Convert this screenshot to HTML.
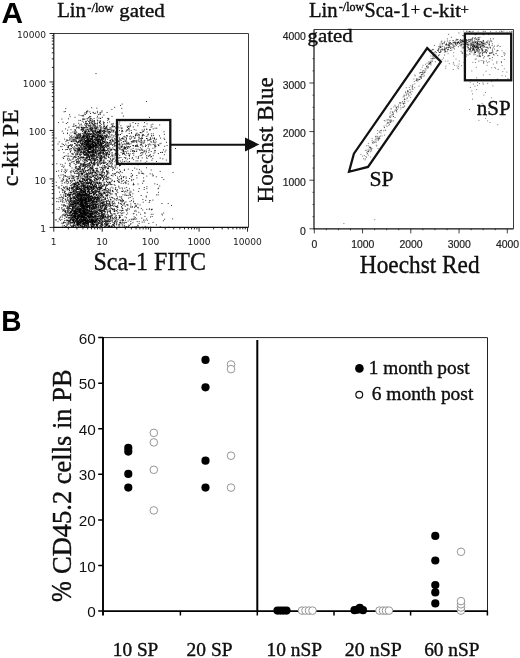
<!DOCTYPE html><html><head><meta charset="utf-8"><title>Figure</title><style>html,body{margin:0;padding:0;background:#fff}svg{display:block}</style></head><body>
<svg width="520" height="658" viewBox="0 0 520 658">
<rect width="520" height="658" fill="#fff"/>
<text transform="translate(1.40,22.50) scale(1.0085,1)" font-family='"Liberation Sans", sans-serif' font-weight="bold" font-size="29.60" fill="#000">A</text>
<text transform="translate(1.21,330.50) scale(0.9494,1)" font-family='"Liberation Sans", sans-serif' font-weight="bold" font-size="29.53" fill="#000">B</text>
<text transform="translate(57.13,17.25) scale(1.0180,1)" font-family='"Liberation Serif", serif' font-size="20.38" fill="#111" stroke="#000" stroke-width="0.35">Lin</text>
<text transform="translate(87.28,11.58) scale(1.0453,1)" font-family='"Liberation Serif", serif' font-size="11.91" fill="#111" stroke="#000" stroke-width="0.35">-/low</text>
<text transform="translate(119.36,17.25) scale(1.0578,1)" font-family='"Liberation Serif", serif' font-size="19.78" fill="#111" stroke="#000" stroke-width="0.35">gated</text>
<text transform="translate(308.98,16.90) scale(1.0126,1)" font-family='"Liberation Serif", serif' font-size="20.38" fill="#111" stroke="#000" stroke-width="0.35">Lin</text>
<text transform="translate(338.75,11.08) scale(1.0029,1)" font-family='"Liberation Serif", serif' font-size="12.06" fill="#111" stroke="#000" stroke-width="0.35">-/low</text>
<text transform="translate(364.44,16.89) scale(0.9837,1)" font-family='"Liberation Serif", serif' font-size="20.52" fill="#111" stroke="#000" stroke-width="0.35">Sca-1</text>
<text transform="translate(410.67,14.63) scale(1.0132,1)" font-family='"Liberation Serif", serif' font-size="16.34" fill="#111" stroke="#000" stroke-width="0.35">+</text>
<text transform="translate(423.02,16.90) scale(1.0409,1)" font-family='"Liberation Serif", serif' font-size="19.86" fill="#111" stroke="#000" stroke-width="0.35">c-kit</text>
<text transform="translate(460.46,13.70) scale(1.0615,1)" font-family='"Liberation Serif", serif' font-size="13.98" fill="#111" stroke="#000" stroke-width="0.35">+</text>
<path d="M53.8 33.5H248.5V227.4" fill="none" stroke="#222" stroke-width="0.9"/>
<path d="M84.0 201.8h1M87.0 190.9h1M75.1 213.0h1M79.5 179.9h1M74.1 213.7h1M84.6 198.6h1M79.1 188.2h1M77.8 169.0h1M88.9 206.1h1M87.6 199.4h1M85.1 198.3h1M74.7 170.7h1M83.7 211.8h1M70.6 174.5h1M79.4 223.7h1M65.0 195.9h1M65.6 212.0h1M81.6 202.0h1M71.3 222.7h1M86.7 213.4h1M85.6 195.5h1M82.1 216.4h1M58.8 196.8h1M78.6 176.4h1M85.1 199.4h1M68.7 195.3h1M79.2 210.4h1M74.2 180.0h1M75.9 183.3h1M94.6 197.0h1M75.9 196.7h1M83.7 206.2h1M92.8 223.0h1M78.2 197.4h1M82.9 212.9h1M85.1 214.6h1M84.6 187.7h1M71.7 208.7h1M84.8 189.9h1M97.6 222.0h1M68.5 212.3h1M92.6 205.3h1M85.2 183.6h1M77.6 206.9h1M104.0 192.7h1M91.6 216.3h1M72.0 203.1h1M84.7 192.0h1M89.8 219.8h1M82.1 216.5h1M90.8 195.5h1M83.3 223.6h1M90.7 200.2h1M98.4 200.1h1M77.2 207.0h1M86.0 193.0h1M79.4 197.9h1M85.3 202.4h1M82.0 200.9h1M95.5 204.3h1M70.8 211.1h1M76.1 219.1h1M90.5 209.7h1M79.4 208.9h1M83.0 185.8h1M96.6 225.9h1M90.9 198.4h1M80.7 200.1h1M80.3 157.1h1M81.5 221.0h1M99.2 218.1h1M79.7 217.8h1M81.0 220.7h1M82.8 204.3h1M82.0 220.0h1M72.9 193.1h1M83.9 199.3h1M79.6 221.9h1M95.7 211.3h1M90.5 183.7h1M83.8 210.8h1M90.7 202.1h1M80.6 191.9h1M94.5 211.9h1M83.9 198.5h1M89.8 179.9h1M71.1 187.2h1M67.1 180.8h1M63.6 208.6h1M81.0 214.8h1M75.0 215.2h1M85.6 185.4h1M106.4 199.9h1M75.7 207.3h1M77.8 217.8h1M86.1 194.7h1M88.9 186.4h1M82.2 221.0h1M81.9 222.7h1M91.0 210.9h1M89.2 195.3h1M73.7 211.5h1M83.2 206.7h1M84.4 218.4h1M73.5 185.0h1M86.6 206.9h1M75.4 202.5h1M93.7 187.2h1M85.9 208.5h1M84.9 205.6h1M78.1 198.4h1M82.8 211.3h1M64.0 182.3h1M72.7 204.1h1M87.6 211.9h1M62.7 209.5h1M92.5 222.2h1M66.5 185.8h1M91.6 180.9h1M75.5 208.8h1M91.8 212.3h1M68.6 214.9h1M96.5 191.0h1M98.4 217.9h1M83.3 191.5h1M81.3 181.2h1M74.2 210.2h1M95.0 216.4h1M78.6 214.0h1M76.1 209.5h1M77.7 224.5h1M71.2 188.6h1M96.6 182.7h1M84.1 213.2h1M77.1 208.6h1M80.7 207.7h1M78.4 194.0h1M80.2 215.5h1M81.0 213.1h1M70.2 211.0h1M75.9 221.8h1M100.5 213.1h1M77.3 216.9h1M73.5 186.3h1M87.4 213.2h1M69.5 196.7h1M81.9 202.9h1M77.7 219.3h1M66.4 220.3h1M91.3 215.0h1M83.8 179.1h1M84.7 213.0h1M76.5 186.1h1M88.5 191.8h1M78.6 213.8h1M82.6 200.3h1M72.9 218.0h1M97.4 217.4h1M78.9 216.6h1M86.9 190.7h1M83.7 194.7h1M79.6 188.0h1M78.9 196.5h1M90.3 187.5h1M81.0 194.4h1M82.5 201.7h1M84.2 189.0h1M95.8 182.3h1M90.8 183.2h1M87.8 212.3h1M78.4 206.0h1M70.2 221.4h1M93.5 221.7h1M93.7 199.5h1M82.6 215.7h1M89.4 182.0h1M92.3 224.1h1M93.2 201.6h1M79.4 186.4h1M99.1 211.1h1M71.5 175.1h1M92.6 192.5h1M88.9 217.0h1M92.7 206.2h1M102.8 197.1h1M98.8 220.2h1M72.5 188.4h1M67.1 209.6h1M92.2 197.0h1M73.8 191.4h1M83.9 212.4h1M92.4 189.1h1M62.9 195.6h1M84.4 187.5h1M81.5 214.7h1M84.4 185.8h1M75.4 183.5h1M68.9 207.6h1M82.3 215.8h1M74.3 184.6h1M67.6 223.9h1M89.1 192.2h1M83.4 207.1h1M88.1 211.1h1M74.1 214.5h1M77.4 176.2h1M75.1 214.0h1M86.0 198.2h1M76.2 188.6h1M87.6 177.9h1M87.4 183.2h1M104.3 213.7h1M70.1 199.5h1M92.9 186.9h1M83.1 196.6h1M69.5 199.7h1M79.4 195.6h1M91.4 226.6h1M83.2 212.4h1M84.8 205.7h1M81.1 195.3h1M95.5 180.2h1M83.8 186.3h1M62.0 197.3h1M77.1 201.5h1M64.3 210.7h1M78.7 208.6h1M97.3 208.5h1M84.5 188.9h1M72.3 170.5h1M74.6 196.7h1M95.3 189.7h1M85.6 194.6h1M84.5 200.6h1M83.5 185.1h1M84.4 187.2h1M92.1 203.4h1M89.5 206.9h1M86.2 194.5h1M73.6 213.0h1M89.1 201.5h1M77.2 188.7h1M94.9 205.7h1M82.6 194.2h1M83.9 223.7h1M98.6 191.8h1M91.7 206.9h1M87.8 200.9h1M57.9 201.3h1M86.5 214.6h1M83.4 205.8h1M84.8 202.2h1M73.2 225.5h1M81.3 193.4h1M82.2 188.3h1M95.9 217.7h1M87.3 216.3h1M83.9 222.5h1M99.3 187.8h1M78.4 222.3h1M80.1 212.7h1M99.7 185.0h1M93.6 208.5h1M93.2 200.6h1M90.7 179.6h1M85.1 193.6h1M86.2 223.0h1M81.5 197.5h1M82.0 193.4h1M84.5 218.9h1M99.1 220.8h1M89.6 220.8h1M83.4 192.4h1M78.2 204.1h1M77.7 221.5h1M100.0 194.5h1M89.1 193.0h1M84.7 218.3h1M72.9 186.6h1M83.3 163.4h1M92.7 181.8h1M80.1 188.8h1M81.7 202.8h1M81.8 214.9h1M85.1 202.7h1M68.1 193.8h1M81.6 207.5h1M75.5 189.6h1M92.8 204.2h1M76.3 194.7h1M99.2 218.1h1M80.9 191.6h1M78.0 189.0h1M85.9 198.0h1M84.0 178.7h1M74.1 193.3h1M88.6 193.2h1M104.2 219.1h1M81.4 198.2h1M82.0 192.4h1M73.6 183.6h1M87.2 186.2h1M71.5 203.9h1M72.9 201.6h1M96.8 223.1h1M74.9 194.9h1M94.8 221.9h1M99.2 209.1h1M86.6 204.9h1M89.5 172.9h1M103.5 184.4h1M82.0 216.9h1M70.5 208.3h1M84.4 217.2h1M98.8 198.5h1M93.6 199.1h1M74.6 194.4h1M75.4 220.6h1M79.0 210.5h1M86.9 201.3h1M81.9 199.7h1M86.1 213.9h1M87.0 210.2h1M81.0 191.7h1M86.1 209.1h1M83.2 205.2h1M102.7 221.4h1M89.9 203.6h1M84.6 213.6h1M67.1 187.9h1M87.9 194.7h1M64.5 168.8h1M69.9 224.5h1M92.5 174.6h1M91.1 215.9h1M82.5 191.7h1M66.9 189.3h1M80.3 201.9h1M77.2 209.3h1M90.4 214.8h1M86.2 210.7h1M76.2 219.1h1M72.3 195.4h1M83.4 216.4h1M82.2 207.5h1M72.5 197.6h1M85.2 203.5h1M72.5 204.0h1M95.1 208.1h1M94.6 211.4h1M94.8 196.9h1M79.3 193.1h1M89.1 217.0h1M82.7 177.9h1M80.1 195.1h1M71.0 161.7h1M69.6 193.9h1M91.9 216.0h1M82.1 178.6h1M94.0 163.6h1M85.8 219.7h1M87.9 201.5h1M80.2 210.7h1M94.3 190.6h1M86.1 217.9h1M71.9 187.1h1M74.7 200.6h1M92.1 220.9h1M88.6 187.2h1M65.0 199.2h1M97.5 207.6h1M90.0 183.5h1M97.4 223.6h1M80.2 210.5h1M81.0 180.8h1M72.7 204.2h1M109.4 192.6h1M82.2 194.5h1M99.9 206.2h1M77.5 193.6h1M85.6 220.4h1M67.3 193.7h1M80.2 220.7h1M93.8 204.3h1M71.5 218.7h1M94.7 196.3h1M87.4 196.9h1M73.6 186.6h1M79.0 214.2h1M79.4 220.0h1M78.6 225.6h1M75.7 209.0h1M81.0 201.6h1M73.7 211.2h1M71.1 204.6h1M92.8 220.1h1M68.7 191.6h1M84.0 194.0h1M77.5 226.9h1M74.2 209.9h1M92.5 201.3h1M78.8 224.0h1M99.0 198.8h1M76.2 200.5h1M87.9 197.6h1M81.7 173.6h1M76.5 218.8h1M89.9 185.7h1M82.5 195.9h1M90.0 193.1h1M83.5 216.6h1M73.1 203.9h1M83.0 205.2h1M84.5 178.1h1M93.6 203.6h1M74.9 181.4h1M83.6 209.9h1M66.8 210.9h1M90.5 204.7h1M65.9 213.4h1M83.4 214.5h1M95.1 207.3h1M68.8 201.9h1M73.1 220.5h1M76.6 222.6h1M72.7 184.2h1M87.8 221.9h1M75.9 213.2h1M76.8 220.4h1M89.8 212.5h1M76.4 185.1h1M88.3 186.2h1M71.9 209.0h1M65.6 182.3h1M102.6 210.6h1M80.8 199.2h1M86.4 175.5h1M83.7 168.4h1M85.6 179.4h1M84.5 209.3h1M103.1 204.2h1M73.6 201.0h1M68.4 209.6h1M73.9 214.6h1M70.7 171.4h1M91.5 200.2h1M92.2 191.8h1M74.4 185.3h1M70.1 196.2h1M80.5 203.0h1M97.9 200.7h1M55.8 181.7h1M89.3 197.3h1M94.4 188.1h1M73.2 178.0h1M81.1 209.4h1M68.9 214.5h1M74.2 212.4h1M97.9 187.1h1M92.2 221.0h1M80.0 192.4h1M75.3 186.8h1M65.1 195.3h1M80.1 203.3h1M83.7 216.4h1M83.2 215.0h1M83.1 204.6h1M72.8 219.9h1M83.3 206.3h1M83.6 219.3h1M96.9 182.5h1M102.7 179.8h1M82.6 217.4h1M76.3 182.8h1M83.4 200.2h1M77.9 203.4h1M76.6 197.2h1M83.4 197.7h1M90.1 164.5h1M83.0 219.1h1M82.2 205.4h1M76.7 204.7h1M74.5 216.6h1M78.5 186.0h1M86.3 206.4h1M84.0 202.0h1M70.4 214.0h1M84.7 207.5h1M70.6 215.6h1M77.8 198.3h1M81.1 205.8h1M63.2 194.3h1M84.9 194.4h1M85.5 202.7h1M82.4 202.7h1M79.8 186.2h1M74.2 202.8h1M81.3 182.9h1M78.5 222.6h1M84.9 193.0h1M72.0 213.1h1M86.4 204.7h1M85.4 209.0h1M82.6 207.7h1M79.6 195.8h1M89.5 205.7h1M88.6 169.2h1M86.4 206.1h1M86.8 212.0h1M87.8 188.2h1M77.5 183.1h1M90.4 199.1h1M86.1 213.6h1M68.9 206.2h1M89.4 212.6h1M95.7 215.2h1M94.1 223.9h1M86.3 212.0h1M68.4 207.3h1M93.4 207.8h1M82.5 226.6h1M58.7 218.1h1M87.8 189.0h1M69.1 194.8h1M71.0 210.3h1M77.7 195.0h1M96.7 199.0h1M80.3 189.7h1M86.7 200.8h1M101.5 211.8h1M99.9 220.9h1M83.0 205.1h1M71.4 203.8h1M88.3 221.0h1M88.0 212.9h1M85.1 197.0h1M93.9 159.8h1M76.3 202.5h1M83.4 207.9h1M89.8 182.9h1M88.0 201.0h1M80.9 216.6h1M87.6 164.4h1M74.0 207.2h1M67.6 199.5h1M89.8 215.9h1M83.4 206.5h1M87.1 186.7h1M67.0 220.2h1M80.3 216.1h1M78.0 214.5h1M75.4 221.1h1M61.4 222.6h1M80.7 204.7h1M93.0 183.3h1M87.8 182.8h1M78.0 226.6h1M83.9 216.4h1M91.6 206.6h1M56.4 198.0h1M82.8 205.5h1M89.4 205.4h1M90.8 199.6h1M101.0 193.8h1M87.1 208.7h1M87.0 195.3h1M91.9 184.2h1M78.6 193.4h1M83.6 216.5h1M93.1 217.1h1M103.6 201.5h1M82.4 205.8h1M83.5 200.1h1M86.0 187.3h1M97.4 225.8h1M83.7 211.0h1M74.3 192.9h1M82.1 202.8h1M82.0 219.1h1M91.9 201.1h1M94.5 182.8h1M68.9 189.8h1M74.8 206.6h1M87.4 210.5h1M77.4 203.5h1M68.8 221.1h1M94.4 220.9h1M88.9 210.2h1M88.9 205.4h1M79.2 201.0h1M94.3 213.8h1M81.6 219.7h1M95.0 206.0h1M74.9 212.2h1M75.5 199.8h1M86.0 182.4h1M77.0 189.0h1M90.8 217.3h1M86.6 212.2h1M84.7 205.9h1M80.5 218.8h1M93.2 226.2h1M77.7 220.9h1M79.6 195.3h1M96.1 202.0h1M106.4 207.1h1M104.0 189.2h1M84.6 212.6h1M86.2 221.4h1M99.3 197.3h1M74.2 200.3h1M85.2 201.8h1M88.5 201.2h1M75.7 193.7h1M67.5 211.7h1M69.6 205.3h1M76.4 214.7h1M82.6 213.6h1M86.1 201.5h1M90.2 182.4h1M80.7 203.6h1M89.0 191.4h1M75.1 220.2h1M80.4 204.5h1M95.3 216.8h1M83.7 218.4h1M76.6 208.7h1M80.5 208.3h1M81.8 215.5h1M91.0 219.8h1M68.0 193.6h1M73.6 212.9h1M109.3 203.6h1M93.6 200.9h1M82.9 193.9h1M91.1 181.8h1M104.6 224.0h1M81.7 206.0h1M80.3 209.8h1M90.7 190.8h1M78.9 221.9h1M103.2 215.0h1M101.1 211.4h1M89.7 212.7h1M90.8 204.7h1M90.4 214.9h1M82.1 210.6h1M88.3 225.0h1M90.8 219.4h1M80.6 212.4h1M67.1 210.3h1M76.6 213.2h1M80.7 203.6h1M78.0 191.3h1M80.6 199.5h1M60.9 188.2h1M96.2 206.8h1M86.5 209.2h1M95.1 172.2h1M103.8 205.3h1M84.2 215.4h1M66.0 207.7h1M75.1 189.8h1M71.9 225.3h1M79.0 193.9h1M84.8 185.4h1M64.0 187.7h1M87.4 204.8h1M68.9 220.8h1M87.0 223.7h1M82.9 208.4h1M80.9 185.9h1M83.3 194.5h1M78.6 190.7h1M77.9 202.2h1M67.2 176.6h1M83.7 206.8h1M102.5 215.3h1M103.8 202.6h1M97.2 212.4h1M91.1 190.0h1M77.2 181.7h1M98.4 194.8h1M83.4 223.5h1M83.3 221.5h1M81.1 197.7h1M84.9 224.3h1M79.6 199.8h1M73.2 212.7h1M80.3 197.8h1M106.8 217.7h1M83.3 192.6h1M81.6 190.0h1M89.3 181.8h1M91.1 209.1h1M72.9 204.1h1M81.9 203.8h1M93.2 198.4h1M85.2 198.2h1M99.5 193.4h1M77.2 224.9h1M78.8 210.4h1M98.9 177.2h1M64.5 195.4h1M77.3 214.8h1M78.7 205.3h1M90.1 183.1h1M98.0 215.9h1M68.3 195.0h1M91.5 226.2h1M81.1 203.8h1M77.3 221.5h1M89.4 194.6h1M74.8 182.4h1M63.2 187.2h1M80.3 195.3h1M69.0 188.6h1M77.5 224.2h1M87.7 226.4h1M87.1 209.4h1M99.9 188.5h1M82.0 203.1h1M68.7 194.0h1M74.8 210.1h1M71.8 212.8h1M88.4 198.6h1M77.5 172.8h1M64.2 192.7h1M91.0 187.1h1M82.9 210.9h1M87.6 206.5h1M85.1 192.2h1M90.3 198.8h1M96.4 189.7h1M88.2 190.3h1M87.9 201.3h1M88.1 193.8h1M69.4 198.1h1M82.4 213.5h1M86.1 176.5h1M70.4 204.7h1M100.3 205.7h1M85.0 203.7h1M71.9 202.0h1M66.9 199.6h1M81.2 221.1h1M83.1 197.6h1M76.8 203.0h1M84.9 205.0h1M77.6 206.7h1M89.5 202.3h1M76.8 221.0h1M83.6 204.9h1M93.8 207.8h1M109.7 204.2h1M73.9 189.0h1M79.4 191.7h1M75.6 188.2h1M91.8 208.1h1M72.5 193.6h1M79.2 188.0h1M83.7 208.8h1M74.2 213.4h1M74.4 176.8h1M63.0 205.5h1M69.5 203.3h1M79.9 222.1h1M85.5 206.1h1M82.1 195.3h1M79.4 187.8h1M92.0 203.4h1M89.6 218.6h1M83.2 187.9h1M75.1 203.4h1M90.3 211.2h1M72.3 190.7h1M76.0 204.2h1M98.5 215.5h1M86.2 206.3h1M95.6 185.8h1M79.2 211.5h1M93.4 206.7h1M78.0 212.1h1M82.4 223.1h1M108.9 221.2h1M91.7 211.5h1M79.0 210.0h1M83.2 187.4h1M87.3 202.9h1M96.1 208.5h1M79.1 198.6h1M66.6 206.6h1M81.2 191.8h1M97.2 198.8h1M87.2 211.4h1M92.1 201.3h1M73.0 225.2h1M92.7 212.0h1M105.0 206.2h1M91.7 201.4h1M86.5 207.0h1M85.5 189.0h1M101.9 215.8h1M74.7 193.6h1M82.9 213.6h1M88.6 207.1h1M91.4 222.5h1M79.6 204.7h1M87.1 221.4h1M81.2 190.2h1M85.2 214.8h1M82.7 201.4h1M72.6 208.1h1M83.8 206.1h1M92.8 220.0h1M74.3 172.7h1M81.6 210.2h1M90.6 181.1h1M73.3 224.3h1M85.8 173.4h1M73.4 188.9h1M95.3 178.2h1M104.2 184.4h1M81.8 206.8h1M91.4 196.4h1M85.2 176.2h1M85.0 199.6h1M99.5 215.6h1M70.8 202.1h1M94.6 220.1h1M83.5 199.2h1M98.1 205.1h1M85.9 198.8h1M77.3 210.5h1M91.4 210.8h1M84.4 208.1h1M88.9 195.1h1M78.8 192.9h1M93.0 187.2h1M91.0 190.4h1M85.5 203.4h1M84.7 198.2h1M79.4 167.1h1M76.9 210.8h1M82.1 216.4h1M95.9 187.1h1M70.1 194.7h1M95.9 211.9h1M73.0 190.3h1M96.6 179.7h1M83.0 220.6h1M80.4 199.6h1M93.3 169.6h1M79.7 201.8h1M88.1 223.0h1M91.1 204.3h1M77.6 199.0h1M87.6 197.8h1M79.1 170.8h1M84.7 190.0h1M78.3 199.1h1M79.7 183.2h1M95.1 205.1h1M86.1 203.3h1M92.9 203.4h1M96.0 197.3h1M89.9 200.0h1M106.7 197.7h1M75.7 210.3h1M92.1 192.0h1M80.8 200.4h1M102.6 202.7h1M101.0 225.9h1M64.5 211.0h1M74.3 203.2h1M90.6 213.6h1M91.9 211.5h1M91.4 222.4h1M83.3 213.1h1M90.5 226.5h1M83.2 204.3h1M94.3 198.4h1M61.4 219.1h1M90.3 213.3h1M73.7 203.5h1M93.6 181.4h1M81.7 175.7h1M75.1 210.6h1M87.7 217.3h1M74.9 217.9h1M74.9 184.4h1M68.3 221.6h1M83.7 196.5h1M89.0 211.2h1M94.2 211.7h1M82.6 192.2h1M94.5 195.5h1M84.2 171.8h1M83.1 190.3h1M89.7 176.2h1M94.6 212.0h1M80.6 206.0h1M81.6 219.6h1M82.4 210.7h1M84.8 194.8h1M75.0 210.5h1M94.3 198.8h1M80.0 214.7h1M88.6 210.0h1M75.7 189.2h1M87.6 205.0h1M87.9 205.9h1M79.8 200.1h1M104.2 219.3h1M101.8 199.1h1M93.6 199.4h1M77.4 169.0h1M80.2 202.9h1M88.4 198.0h1M84.6 170.4h1M84.5 209.6h1M81.1 214.5h1M65.9 193.3h1M81.7 199.0h1M61.8 189.5h1M87.7 217.2h1M76.7 180.7h1M76.8 200.0h1M86.7 205.8h1M69.7 212.5h1M66.5 202.7h1M73.3 186.2h1M63.6 204.5h1M74.3 211.5h1M99.9 188.6h1M73.4 210.5h1M90.5 224.9h1M70.3 222.1h1M87.0 179.7h1M80.8 189.4h1M83.4 179.2h1M89.7 222.1h1M101.6 214.8h1M85.9 216.3h1M85.2 190.9h1M74.3 186.3h1M89.8 206.2h1M81.5 206.6h1M92.3 191.3h1M83.6 207.3h1M101.4 215.3h1M64.2 208.6h1M81.0 188.4h1M92.8 171.2h1M80.5 200.9h1M76.1 207.6h1M81.3 200.8h1M70.2 198.1h1M85.2 193.9h1M108.4 216.5h1M95.5 204.2h1M72.9 207.0h1M75.3 189.5h1M80.0 195.1h1M94.0 207.6h1M75.8 188.9h1M77.1 184.9h1M92.8 199.7h1M92.6 224.2h1M80.3 208.1h1M68.5 202.9h1M77.0 200.0h1M61.7 182.7h1M91.5 195.8h1M88.8 210.2h1M102.7 216.7h1M95.7 216.3h1M72.5 204.8h1M92.7 201.7h1M95.6 206.9h1M76.5 215.7h1M74.5 212.3h1M82.9 212.9h1M68.0 207.5h1M98.7 192.7h1M59.9 200.8h1M72.9 189.9h1M81.3 221.1h1M81.7 171.4h1M85.7 201.5h1M81.9 199.5h1M95.4 186.8h1M62.6 204.7h1M84.0 225.6h1M76.9 202.4h1M85.3 214.8h1M86.2 206.6h1M74.9 199.0h1M91.9 206.1h1M87.5 196.4h1M77.2 197.2h1M104.4 211.1h1M107.1 211.5h1M69.4 217.4h1M87.0 207.3h1M109.1 182.1h1M91.8 213.5h1M86.2 200.1h1M81.9 200.4h1M78.6 181.3h1M81.9 195.8h1M78.5 193.4h1M91.4 204.4h1M80.0 181.7h1M79.6 205.8h1M72.0 207.0h1M83.5 187.1h1M75.1 195.0h1M82.2 191.3h1M94.4 219.5h1M87.7 164.5h1M89.0 199.5h1M87.6 178.4h1M84.6 198.1h1M82.7 218.5h1M80.9 194.9h1M91.6 207.2h1M73.2 191.5h1M84.3 219.6h1M76.5 223.0h1M79.1 183.7h1M77.2 187.4h1M85.6 222.3h1M76.8 201.9h1M95.4 200.9h1M76.2 210.3h1M61.3 184.9h1M76.7 217.4h1M63.9 205.3h1M83.6 212.7h1M94.6 194.3h1M90.5 213.2h1M70.6 193.7h1M76.4 220.3h1M101.8 223.1h1M87.2 219.6h1M84.0 213.3h1M94.6 215.1h1M108.5 161.7h1M97.0 218.4h1M85.4 200.6h1M87.5 206.5h1M90.2 200.5h1M77.9 182.7h1M73.4 196.4h1M84.5 215.5h1M83.4 195.0h1M85.0 190.5h1M75.5 190.9h1M82.4 205.8h1M88.4 190.9h1M94.5 220.7h1M75.8 182.0h1M74.7 200.5h1M84.5 198.9h1M73.8 179.8h1M80.3 213.0h1M84.3 219.8h1M81.5 216.1h1M65.8 201.2h1M72.5 196.7h1M100.2 200.3h1M62.1 191.7h1M80.6 200.6h1M86.2 164.3h1M80.3 207.9h1M75.9 204.5h1M84.0 217.1h1M83.2 197.3h1M65.2 214.0h1M82.5 185.4h1M75.4 195.4h1M78.5 175.1h1M90.4 214.5h1M93.0 186.2h1M79.0 204.0h1M93.2 220.2h1M95.7 212.9h1M95.4 211.1h1M97.9 191.3h1M82.5 194.8h1M82.3 206.5h1M92.3 219.7h1M70.3 191.7h1M86.1 187.1h1M78.7 223.3h1M80.3 190.1h1M66.6 222.2h1M75.1 208.9h1M83.8 219.1h1M93.9 216.0h1M83.2 217.4h1M82.1 190.3h1M75.7 193.9h1M88.0 215.3h1M83.7 210.0h1M69.0 208.2h1M75.4 221.1h1M69.4 205.3h1M72.0 204.0h1M97.1 188.2h1M86.3 220.9h1M68.8 187.8h1M90.5 213.2h1M96.6 182.3h1M80.4 222.5h1M77.2 188.5h1M80.6 218.5h1M86.8 179.6h1M90.4 198.0h1M95.8 223.9h1M96.1 192.1h1M95.9 206.1h1M97.6 197.3h1M90.6 168.0h1M68.7 209.9h1M82.7 211.9h1M87.1 187.3h1M80.2 214.2h1M93.1 192.3h1M80.4 188.9h1M74.7 205.1h1M98.4 194.1h1M86.2 180.1h1M93.3 216.8h1M94.6 220.8h1M87.4 173.3h1M59.4 177.3h1M77.2 214.0h1M79.4 197.3h1M74.2 211.1h1M86.0 223.2h1M95.9 199.0h1M79.2 188.0h1M72.7 161.3h1M104.3 208.3h1M79.5 190.1h1M71.7 210.0h1M86.4 208.7h1M88.3 182.8h1M91.9 222.3h1M79.1 218.6h1M74.8 186.0h1M85.8 198.5h1M91.7 196.2h1M77.7 198.4h1M87.3 187.0h1M83.1 212.0h1M112.2 208.7h1M76.9 210.8h1M97.8 196.9h1M83.5 225.7h1M82.7 208.0h1M91.2 161.2h1M92.9 194.8h1M96.7 204.1h1M87.3 220.4h1M78.0 200.2h1M78.6 201.0h1M89.1 194.4h1M89.8 215.6h1M98.0 197.8h1M88.2 195.3h1M94.6 193.1h1M99.2 213.9h1M85.6 196.5h1M69.1 178.2h1M72.2 215.0h1M69.6 193.8h1M99.9 210.7h1M75.5 211.0h1M96.3 224.3h1M89.9 221.7h1M101.2 195.8h1M94.0 202.3h1M83.0 184.4h1M84.9 212.1h1M78.7 199.9h1M83.7 172.2h1M67.0 206.5h1M86.6 207.1h1M74.9 205.9h1M85.9 215.3h1M92.4 213.5h1M83.4 179.6h1M91.7 222.4h1M68.1 196.5h1M95.1 197.5h1M90.2 219.7h1M85.8 199.6h1M58.1 175.3h1M76.4 207.6h1M86.2 213.6h1M99.5 203.7h1M86.9 185.1h1M86.6 192.3h1M69.9 184.9h1M98.3 208.4h1M102.1 218.1h1M84.3 221.4h1M81.8 193.3h1M67.8 208.8h1M92.8 213.9h1M111.0 196.8h1M91.2 202.6h1M89.4 208.3h1M74.1 219.1h1M97.4 198.0h1M71.7 205.7h1M81.9 177.6h1M86.8 204.6h1M92.8 224.1h1M87.9 224.1h1M76.4 216.0h1M71.1 205.8h1M84.6 195.4h1M76.9 202.4h1M70.9 214.8h1M71.3 192.4h1M79.1 219.9h1M65.5 189.3h1M70.5 176.5h1M67.6 188.8h1M85.8 178.4h1M88.1 183.0h1M104.1 223.1h1M69.0 201.8h1M77.2 208.5h1M93.1 223.5h1M81.8 225.1h1M80.7 196.9h1M101.1 226.3h1M80.6 211.2h1M72.4 205.1h1M70.8 212.1h1M87.4 182.2h1M87.1 192.4h1M70.3 203.3h1M74.1 214.8h1M89.3 199.0h1M89.8 203.0h1M77.6 220.5h1M89.7 217.3h1M66.2 225.3h1M80.9 198.5h1M88.2 200.1h1M78.3 210.1h1M62.6 200.2h1M81.2 196.9h1M99.8 201.8h1M62.1 189.5h1M110.1 212.8h1M93.6 206.3h1M96.3 224.7h1M93.8 198.0h1M85.5 197.1h1M72.4 194.0h1M90.3 202.7h1M58.8 186.5h1M91.1 188.9h1M102.2 201.3h1M74.9 218.4h1M98.7 215.1h1M99.9 209.5h1M99.5 178.6h1M83.8 210.8h1M72.0 188.6h1M62.0 201.6h1M67.0 208.0h1M84.9 186.7h1M74.1 197.3h1M82.4 184.3h1M82.9 220.7h1M103.3 200.8h1M97.0 214.0h1M83.6 194.0h1M96.1 197.0h1M76.2 225.6h1M80.6 189.5h1M93.1 176.2h1M71.6 211.5h1M81.2 186.7h1M70.8 198.0h1M85.2 219.6h1M100.3 191.9h1M76.5 219.1h1M86.3 194.1h1M72.5 226.2h1M71.6 197.5h1M98.5 201.6h1M107.6 191.7h1M88.8 208.2h1M76.8 223.4h1M91.0 181.9h1M80.7 219.7h1M92.0 183.8h1M86.9 191.2h1M86.8 176.4h1M78.2 205.9h1M80.0 208.9h1M66.8 194.2h1M79.6 222.1h1M69.8 171.3h1M82.6 205.4h1M85.0 198.9h1M88.5 205.3h1M69.8 215.8h1M75.9 192.0h1M74.6 205.4h1M91.5 220.4h1M101.1 208.1h1M92.5 210.9h1M80.5 199.4h1M98.7 210.0h1M68.9 205.9h1M77.4 216.6h1M56.2 201.1h1M110.5 165.9h1M99.8 216.5h1M73.7 217.1h1M85.7 190.3h1M81.9 173.0h1M85.0 186.7h1M69.2 219.8h1M77.2 188.0h1M88.7 197.6h1M86.2 208.5h1M96.0 224.6h1M84.8 204.7h1M107.5 203.4h1M76.8 196.2h1M64.8 222.1h1M71.5 203.5h1M97.3 182.7h1M74.6 192.4h1M89.3 214.3h1M83.4 193.5h1M73.6 219.3h1M80.5 210.8h1M78.9 209.7h1M79.1 215.5h1M91.5 213.0h1M90.5 191.3h1M78.2 199.8h1M86.8 185.7h1M83.0 197.4h1M94.3 222.1h1M110.6 202.5h1M92.4 192.0h1M83.7 183.8h1M82.3 213.6h1M75.4 221.3h1M74.0 205.9h1M80.0 221.7h1M79.7 188.5h1M91.4 207.7h1M80.0 194.2h1M82.0 207.8h1M71.8 217.0h1M100.4 222.1h1M89.1 189.2h1M101.9 225.3h1M92.0 197.4h1M98.9 188.6h1M81.5 202.3h1M91.2 181.6h1M111.1 205.1h1M71.8 209.6h1M95.8 201.8h1M101.0 213.6h1M88.2 200.0h1M91.7 205.1h1M96.8 181.9h1M77.3 205.7h1M88.2 191.4h1M75.1 197.8h1M77.1 203.5h1M77.7 208.1h1M82.5 178.7h1M85.5 180.0h1M88.6 200.2h1M69.5 212.6h1M104.3 210.8h1M95.8 219.3h1M91.4 225.8h1M80.3 212.9h1M83.1 204.7h1M89.6 188.5h1M88.2 189.9h1M66.8 197.5h1M91.6 209.3h1M113.9 208.5h1M65.1 205.1h1M94.2 202.6h1M87.8 215.1h1M82.9 208.3h1M98.1 209.8h1M71.9 209.9h1M85.7 196.3h1M99.0 188.5h1M82.0 212.9h1M79.7 211.7h1M85.2 201.5h1M79.4 198.3h1M74.7 192.9h1M93.0 201.5h1M71.1 209.2h1M90.9 186.5h1M82.9 206.9h1M83.9 219.9h1M73.0 215.1h1M79.4 214.5h1M99.8 206.8h1M72.5 220.3h1M73.1 202.5h1M98.8 198.2h1M85.2 206.6h1M99.8 219.5h1M87.3 210.3h1M74.9 215.8h1M83.3 172.6h1M96.6 224.1h1M84.0 226.4h1M84.5 199.9h1M82.8 191.4h1M78.1 209.4h1M103.9 189.2h1M84.1 216.6h1M72.4 196.6h1M79.1 220.4h1M91.5 226.8h1M90.6 172.5h1M82.6 209.7h1M77.1 193.8h1M84.2 182.4h1M66.8 195.1h1M70.6 201.5h1M92.2 221.5h1M79.1 180.7h1M87.9 221.8h1M90.7 214.6h1M84.2 213.7h1M105.9 204.8h1M90.9 186.2h1M80.4 213.6h1M91.5 211.1h1M88.2 216.7h1M84.8 216.6h1M82.3 211.8h1M82.2 183.5h1M81.1 186.7h1M79.5 199.0h1M67.1 194.5h1M80.4 216.1h1M83.6 199.9h1M90.5 217.3h1M71.5 198.8h1M81.7 214.9h1M97.4 218.0h1M76.9 187.9h1M78.7 210.6h1M95.0 216.3h1M80.1 208.5h1M86.3 224.4h1M94.8 191.8h1M61.4 207.0h1M75.5 191.6h1M73.7 214.3h1M72.9 191.1h1M75.2 219.8h1M75.4 211.2h1M87.1 220.5h1M74.9 202.7h1M85.3 181.7h1M76.5 202.2h1M100.8 211.9h1M87.3 215.8h1M83.3 210.4h1M86.8 181.3h1M92.8 218.9h1M75.6 201.1h1M81.9 202.9h1M95.4 205.1h1M78.9 210.5h1M73.5 175.3h1M75.6 205.7h1M78.8 193.5h1M105.8 223.7h1M79.9 198.2h1M78.7 212.3h1M78.4 198.6h1M82.3 215.7h1M90.6 221.2h1M85.9 198.6h1M104.6 205.8h1M86.1 182.3h1M98.5 209.9h1M86.8 218.7h1M90.1 196.1h1M69.6 222.9h1M82.7 171.8h1M83.3 175.4h1M81.6 182.8h1M62.5 197.2h1M92.8 205.3h1M80.1 203.7h1M79.6 203.9h1M81.4 216.6h1M81.7 197.4h1M88.1 184.8h1M71.3 185.1h1M86.9 167.4h1M85.5 202.2h1M78.3 212.7h1M75.7 191.7h1M83.4 205.0h1M95.8 218.8h1M73.4 224.3h1M99.2 190.6h1M92.4 217.2h1M79.5 209.0h1M91.8 222.7h1M66.7 199.5h1M71.1 181.8h1M79.9 211.3h1M78.8 216.0h1M85.0 208.7h1M89.0 188.4h1M69.8 219.4h1M77.4 195.9h1M79.9 205.8h1M72.4 206.4h1M73.9 190.0h1M83.9 196.4h1M89.9 179.5h1M89.6 212.8h1M74.1 197.7h1M76.1 211.8h1M74.8 187.8h1M88.5 199.2h1M63.6 221.6h1M96.4 202.2h1M79.2 215.0h1M76.2 213.5h1M87.4 199.3h1M94.3 180.0h1M87.4 220.8h1M94.5 207.7h1M85.3 220.7h1M96.3 172.8h1M96.5 178.5h1M83.0 170.7h1M98.4 191.0h1M85.6 221.7h1M84.9 214.1h1M74.8 204.5h1M81.1 207.1h1M91.8 217.2h1M70.9 200.2h1M90.5 211.3h1M87.5 207.2h1M86.8 170.0h1M61.9 198.8h1M83.0 226.7h1M90.5 198.7h1M76.4 202.7h1M84.9 195.3h1M60.2 197.2h1M90.7 223.0h1M77.4 200.7h1M92.7 188.6h1M65.6 155.2h1M90.9 195.8h1M81.6 173.5h1M92.1 175.8h1M74.7 217.7h1M77.8 216.3h1M106.4 174.3h1M75.7 218.6h1M76.9 212.3h1M81.2 192.5h1M73.8 216.8h1M95.9 179.0h1M101.3 185.7h1M77.0 182.0h1M66.7 187.2h1M95.7 219.1h1M95.1 183.7h1M92.2 186.6h1M95.6 189.8h1M75.3 208.1h1M82.3 199.6h1M70.2 218.8h1M69.8 193.6h1M93.8 184.4h1M77.3 196.9h1M106.8 205.6h1M84.7 190.1h1M77.6 209.4h1M102.0 195.6h1M88.9 205.6h1M71.8 226.5h1M87.7 194.5h1M97.8 191.3h1M79.1 187.3h1M76.3 211.2h1M94.2 213.0h1M85.4 202.4h1M73.0 205.4h1M80.2 225.1h1M76.4 218.6h1M87.0 182.3h1M85.1 204.5h1M95.5 206.3h1M91.1 216.2h1M68.4 201.1h1M88.1 194.3h1M93.0 197.3h1M88.6 176.1h1M94.3 204.2h1M78.5 195.0h1M74.5 212.0h1M93.3 188.1h1M73.3 197.5h1M62.4 188.9h1M94.3 187.4h1M76.8 215.7h1M80.9 197.0h1M70.0 211.6h1M70.7 186.5h1M72.4 206.0h1M80.4 177.4h1M87.7 196.8h1M61.0 196.4h1M91.5 213.7h1M72.2 207.2h1M73.3 201.6h1M90.8 217.7h1M83.3 207.4h1M68.6 212.9h1M102.4 216.6h1M75.4 203.3h1M86.5 199.6h1M86.0 209.5h1M98.1 197.6h1M79.4 210.5h1M94.1 222.0h1M76.6 217.9h1M95.2 198.2h1M76.4 183.7h1M80.4 203.4h1M103.0 202.3h1M87.2 221.9h1M85.1 198.2h1M106.4 200.9h1M87.6 216.0h1M75.8 196.6h1M91.3 201.7h1M96.1 214.3h1M78.3 208.5h1M77.7 188.8h1M85.8 213.2h1M84.1 205.2h1M74.2 207.8h1M89.7 196.0h1M63.6 204.1h1M79.7 201.3h1M80.0 209.3h1M87.1 210.0h1M71.7 177.8h1M89.9 188.7h1M82.2 178.9h1M77.5 191.6h1M70.3 213.2h1M72.2 210.6h1M87.6 194.7h1M74.4 208.5h1M84.6 192.1h1M94.6 181.6h1M94.3 181.8h1M99.6 190.5h1M81.0 226.9h1M73.1 182.8h1M94.2 224.1h1M87.1 225.4h1M95.2 201.3h1M84.1 203.4h1M96.0 194.4h1M92.5 203.8h1M91.2 214.7h1M89.0 204.3h1M88.0 220.1h1M86.3 223.1h1M86.3 209.7h1M93.9 209.4h1M78.9 203.2h1M101.4 209.7h1M82.9 186.4h1M93.9 210.7h1M83.1 207.5h1M81.5 190.4h1M80.9 188.7h1M71.2 190.3h1M76.9 208.6h1M80.8 173.2h1M105.6 191.5h1M86.1 179.8h1M93.3 188.7h1M74.0 202.0h1M87.5 209.3h1M90.7 221.8h1M102.0 217.0h1M77.0 223.1h1M90.0 213.5h1M87.0 196.7h1M73.8 222.0h1M83.8 196.3h1M81.4 194.3h1M90.0 216.7h1M89.4 207.6h1M79.6 216.1h1M70.6 218.2h1M98.8 182.4h1M86.7 202.6h1M94.2 185.3h1M98.1 206.1h1M78.8 193.4h1M92.1 225.8h1M81.6 212.4h1M83.4 191.1h1M83.1 203.8h1M84.0 184.8h1M95.1 204.8h1M85.2 212.9h1M82.5 208.3h1M81.2 173.3h1M87.4 198.7h1M75.1 212.2h1M79.0 209.0h1M83.5 222.6h1M78.3 183.6h1M82.8 212.5h1M77.9 193.7h1M104.0 207.2h1M97.3 210.6h1M88.5 215.1h1M83.5 194.9h1M105.9 207.0h1M87.2 185.4h1M83.1 181.5h1M87.0 213.0h1M87.1 203.2h1M98.1 178.2h1M83.8 190.5h1M105.0 204.4h1M90.9 220.8h1M74.0 216.8h1M102.2 175.5h1M80.7 202.5h1M83.4 211.7h1M93.2 210.4h1M96.6 210.7h1M72.9 200.3h1M85.4 202.6h1M83.0 188.4h1M77.2 195.2h1M80.1 223.2h1M89.3 189.0h1M99.2 208.7h1M64.7 198.5h1M82.8 212.3h1M79.8 209.2h1M74.5 213.5h1M82.5 203.9h1M73.6 222.1h1M91.0 199.7h1M85.0 198.2h1M87.7 190.9h1M81.5 196.2h1M68.5 204.8h1M90.0 187.2h1M86.9 170.3h1M82.5 220.9h1M93.8 191.5h1M96.2 195.4h1M73.1 198.1h1M76.2 188.4h1M99.5 186.9h1M98.2 206.6h1M72.2 215.8h1M77.6 216.0h1M79.0 180.0h1M68.2 203.7h1M84.3 185.1h1M71.2 216.4h1M71.9 200.4h1M93.2 204.7h1M77.2 202.6h1M83.3 194.7h1M90.3 179.7h1M92.1 213.3h1M80.6 181.9h1M84.4 185.2h1M75.7 199.3h1M101.5 192.8h1M90.5 208.2h1M73.0 220.2h1M84.0 208.0h1M91.1 207.2h1M88.8 204.4h1M102.3 217.8h1M97.7 174.5h1M78.6 209.9h1M83.1 189.1h1M71.2 184.3h1M86.5 204.1h1M85.5 197.9h1M111.0 213.4h1M85.0 221.7h1M63.1 166.8h1M77.3 202.9h1M71.4 217.9h1M80.3 205.7h1M87.4 181.1h1M82.3 186.1h1M75.1 215.4h1M91.9 219.4h1M78.6 192.4h1M79.0 199.8h1M70.2 208.2h1M76.1 176.1h1M90.5 198.5h1M91.2 202.3h1M86.4 195.7h1M72.8 191.1h1M97.1 168.2h1M95.0 219.4h1M86.4 198.1h1M73.5 209.4h1M93.8 207.1h1M101.1 175.2h1M96.5 198.3h1M77.9 201.5h1M82.1 168.8h1M84.0 218.9h1M88.2 219.9h1M68.7 194.4h1M93.4 205.6h1M97.2 210.4h1M72.5 219.5h1M70.4 205.8h1M77.5 200.2h1M60.3 194.4h1M92.1 196.6h1M85.6 163.5h1M79.2 191.2h1M105.1 220.2h1M85.4 208.3h1M76.5 191.0h1M85.0 209.7h1M73.6 171.8h1M76.4 199.6h1M87.9 212.5h1M78.5 215.3h1M79.5 191.7h1M100.7 218.7h1M92.0 197.3h1M89.3 216.0h1M88.8 179.2h1M98.6 172.7h1M83.8 213.9h1M102.6 204.8h1M74.5 207.3h1M81.4 194.8h1M70.2 199.5h1M80.6 217.1h1M98.5 200.7h1M77.4 177.7h1M84.1 224.6h1M80.4 213.8h1M76.6 215.1h1M72.1 207.1h1M66.7 205.4h1M85.1 212.4h1M84.2 174.5h1M77.4 194.9h1M73.9 193.2h1M70.2 203.7h1M102.7 209.8h1M70.6 192.2h1M90.0 187.1h1M80.4 197.0h1M72.4 208.0h1M94.4 184.2h1M101.3 213.3h1M74.7 214.3h1M81.0 199.5h1M87.4 205.5h1M104.0 208.7h1M78.3 188.8h1M89.4 177.4h1M71.5 194.1h1M105.0 199.0h1M76.7 196.9h1M61.9 216.5h1M82.7 166.0h1M82.6 186.0h1M103.2 174.9h1M80.6 225.7h1M83.9 195.1h1M89.9 195.9h1M99.9 186.5h1M83.4 218.6h1M94.4 197.6h1M89.2 207.7h1M81.0 171.6h1M84.8 222.9h1M84.3 210.5h1M74.8 213.0h1M96.1 224.0h1M70.1 201.1h1M95.7 201.5h1M93.5 215.7h1M83.1 211.0h1M76.3 200.3h1M81.7 204.9h1M88.7 196.1h1M91.4 215.7h1M86.9 219.2h1M93.9 204.3h1M86.3 179.6h1M68.3 200.5h1M85.5 197.5h1M79.8 178.6h1M95.6 226.6h1M90.9 213.0h1M55.8 185.1h1M84.4 216.7h1M69.4 187.8h1M94.7 182.7h1M108.9 201.8h1M78.8 196.5h1M84.7 186.6h1M81.5 198.4h1M87.5 188.1h1M90.4 205.2h1M96.9 203.9h1M74.1 216.2h1M99.7 196.9h1M74.7 182.9h1M86.8 183.1h1M95.6 200.3h1M74.6 217.9h1M77.0 194.0h1M79.4 219.4h1M83.5 185.6h1M95.5 220.5h1M71.1 198.1h1M88.7 216.6h1M90.1 214.2h1M89.6 199.8h1M88.7 209.5h1M99.2 187.1h1M88.9 203.1h1M92.6 221.6h1M101.9 215.5h1M65.0 205.7h1M96.8 188.0h1M81.4 221.2h1M81.2 177.7h1M74.3 191.4h1M65.3 210.0h1M80.2 184.9h1M88.9 221.8h1M69.3 195.1h1M98.3 195.3h1M86.7 183.1h1M81.5 181.8h1M76.9 211.4h1M76.1 214.3h1M72.7 209.9h1M78.6 208.5h1M84.1 195.3h1M82.2 210.0h1M69.9 180.6h1M81.3 204.4h1M85.6 225.5h1M102.6 196.8h1M90.3 198.9h1M80.9 226.4h1M69.9 180.2h1M67.1 197.4h1M91.3 208.0h1M76.3 223.8h1M84.6 190.8h1M77.8 214.6h1M84.9 199.4h1M77.2 211.2h1M80.6 202.1h1M75.9 198.9h1M92.7 221.2h1M73.7 215.2h1M72.7 186.9h1M70.1 207.8h1M69.9 182.8h1M88.7 192.1h1M109.7 183.5h1M74.0 183.0h1M93.5 193.2h1M86.5 188.5h1M73.0 212.8h1M81.2 217.1h1M81.7 200.4h1M77.1 186.3h1M103.3 217.2h1M64.9 171.8h1M87.8 173.3h1M87.3 216.0h1M78.2 214.8h1M85.5 219.9h1M92.8 200.8h1M85.5 184.0h1M88.2 196.1h1M90.9 213.4h1M63.7 192.0h1M98.8 193.0h1M106.8 181.9h1M93.8 185.6h1M94.1 217.8h1M69.9 211.6h1M82.8 185.6h1M75.9 186.9h1M78.1 195.3h1M93.7 213.1h1M76.0 185.5h1M82.7 201.6h1M64.9 169.8h1M82.4 184.1h1M84.9 211.0h1M77.0 218.7h1M76.8 185.7h1M102.9 191.9h1M71.9 217.1h1M73.5 198.0h1M75.9 195.6h1M96.0 212.6h1M105.0 207.4h1M87.3 222.2h1M76.8 217.1h1M79.7 195.0h1M94.6 202.4h1M74.9 203.3h1M98.5 182.5h1M98.2 188.7h1M84.7 219.9h1M90.5 178.8h1M91.5 220.3h1M99.5 208.9h1M73.5 202.1h1M95.8 213.0h1M80.2 212.0h1M76.3 223.7h1M85.0 197.9h1M81.9 200.6h1M74.1 200.4h1M74.6 219.5h1M98.5 189.5h1M103.6 199.0h1M90.5 193.0h1M95.9 204.6h1M78.8 207.8h1M86.8 175.0h1M73.2 220.9h1M74.1 211.4h1M85.0 193.1h1M80.8 202.0h1M73.4 196.4h1M87.9 205.2h1M81.4 220.5h1M94.2 180.0h1M83.9 225.5h1M81.0 198.4h1M82.3 211.0h1M77.3 224.2h1M80.0 213.5h1M91.5 221.8h1M90.5 205.3h1M96.9 191.1h1M67.1 215.2h1M80.1 215.8h1M85.7 172.3h1M79.5 201.3h1M78.9 221.5h1M91.8 184.3h1M85.8 200.8h1M94.0 190.4h1M92.3 223.5h1M76.6 216.9h1M95.3 210.6h1M81.8 208.3h1M76.0 190.5h1M80.3 196.2h1M76.3 216.2h1M85.9 206.8h1M84.4 199.2h1M78.4 166.0h1M84.9 209.0h1M65.0 210.7h1M86.4 205.6h1M95.3 191.4h1M80.1 193.9h1M82.2 215.9h1M82.7 199.9h1M78.5 185.4h1M74.8 164.4h1M95.9 190.9h1M83.8 211.5h1M93.6 198.9h1M81.5 216.6h1M84.7 203.0h1M82.3 197.3h1M92.3 201.1h1M86.4 202.1h1M77.3 187.3h1M76.2 192.7h1M100.6 215.0h1M81.2 213.7h1M81.1 204.7h1M98.7 193.4h1M94.9 215.6h1M89.3 177.4h1M80.0 199.2h1M107.5 200.6h1M87.9 191.1h1M89.5 207.1h1M82.3 194.0h1M69.9 191.9h1M88.1 216.6h1M87.9 223.9h1M81.6 205.6h1M72.3 220.2h1M69.6 217.3h1M80.7 224.2h1M93.0 201.2h1M95.5 209.0h1M112.3 204.0h1M92.8 148.6h1M78.1 182.5h1M75.3 205.1h1M78.1 195.6h1M82.2 223.0h1M93.7 225.4h1M90.1 198.3h1M90.6 212.3h1M98.5 189.2h1M79.4 202.3h1M70.1 198.9h1M100.2 206.8h1M97.0 196.4h1M91.5 222.1h1M72.0 217.4h1M85.7 224.5h1M81.7 214.3h1M84.8 192.3h1M82.1 202.4h1M89.2 219.0h1M80.1 198.5h1M86.4 201.1h1M81.1 195.6h1M82.9 223.4h1M79.6 217.0h1M92.1 204.6h1M81.3 201.3h1M86.9 211.8h1M80.1 218.4h1M69.1 217.2h1M93.1 200.2h1M73.4 211.9h1M90.8 218.5h1M88.2 217.2h1M67.4 155.6h1M74.6 190.8h1M78.9 192.6h1M75.8 201.3h1M72.2 207.9h1M91.4 219.7h1M81.6 214.9h1M87.9 203.0h1M79.7 205.4h1M76.5 195.2h1M83.7 209.9h1M84.5 210.5h1M79.4 172.3h1M73.1 211.0h1M85.7 198.8h1M87.4 203.2h1M81.4 221.8h1M76.3 212.5h1M89.4 200.8h1M108.8 219.3h1M81.0 212.0h1M87.4 206.7h1M87.8 209.8h1M58.3 209.0h1M85.2 199.6h1M76.9 197.7h1M97.8 205.4h1M81.5 189.7h1M76.2 184.9h1M81.8 225.8h1M85.7 201.2h1M78.4 204.6h1M83.5 202.8h1M70.5 205.4h1M81.7 205.4h1M91.8 206.0h1M103.7 192.1h1M91.1 219.9h1M86.7 193.9h1M95.8 221.6h1M94.2 174.3h1M100.6 188.0h1M94.8 220.9h1M82.8 202.6h1M86.6 194.3h1M85.8 211.0h1M87.0 188.3h1M86.0 206.2h1M76.2 169.6h1M63.0 197.8h1M77.3 194.6h1M63.7 213.6h1M84.7 219.0h1M84.0 191.3h1M90.9 195.5h1M92.7 172.1h1M85.0 166.9h1M102.7 203.6h1M71.9 194.6h1M94.4 193.0h1M88.4 187.5h1M88.2 226.6h1M93.3 203.7h1M78.1 201.8h1M75.7 167.4h1M76.5 218.5h1M83.0 199.1h1M69.5 201.2h1M89.8 200.8h1M83.3 223.6h1M87.8 204.9h1M65.1 193.0h1M76.2 213.1h1M78.4 195.4h1M84.3 224.7h1M78.1 220.4h1M93.3 206.0h1M83.4 214.8h1M84.2 214.0h1M84.1 200.6h1M91.1 219.3h1M79.3 201.4h1M95.2 214.9h1M88.6 189.8h1M85.5 206.6h1M84.4 211.7h1M89.2 192.4h1M94.2 198.4h1M93.5 196.5h1M87.8 216.7h1M92.8 193.5h1M85.2 212.1h1M83.7 210.8h1M63.2 179.3h1M97.4 207.1h1M85.1 221.7h1M72.3 200.5h1M95.3 210.1h1M89.9 221.5h1M87.7 224.4h1M80.2 208.6h1M77.4 222.9h1M80.3 222.4h1M83.8 222.1h1M88.9 211.1h1M87.7 222.8h1M79.8 208.5h1M87.4 219.9h1M65.2 210.9h1M80.9 214.4h1M80.3 212.0h1M73.5 221.2h1M86.2 203.1h1M65.1 226.0h1M83.3 218.5h1M70.8 218.9h1M101.9 211.5h1M78.2 221.3h1M78.8 211.2h1M84.1 212.2h1M81.0 215.9h1M82.5 210.4h1M85.7 209.7h1M92.4 213.7h1M95.6 216.8h1M72.5 219.0h1M101.8 224.5h1M90.8 224.7h1M93.7 216.9h1M73.7 216.3h1M92.2 219.2h1M87.7 224.8h1M77.3 223.9h1M108.3 215.4h1M89.4 204.6h1M85.3 225.7h1M93.2 220.8h1M95.6 221.4h1M89.6 215.3h1M96.6 212.0h1M99.4 216.7h1M69.6 217.4h1M77.9 214.6h1M72.9 208.8h1M84.3 216.8h1M99.1 223.0h1M90.4 215.5h1M71.7 219.2h1M80.0 204.5h1M94.5 217.5h1M77.4 218.1h1M82.2 210.4h1M86.6 206.9h1M63.2 221.9h1M91.8 213.3h1M87.0 222.4h1M89.5 216.1h1M72.5 223.4h1M74.8 216.6h1M76.7 208.5h1M86.0 218.4h1M84.0 216.7h1M84.6 223.6h1M102.9 215.8h1M97.6 216.2h1M75.3 225.0h1M102.1 224.3h1M79.7 226.3h1M98.4 222.2h1M100.8 224.4h1M77.3 225.1h1M80.3 221.8h1M84.1 219.4h1M73.7 220.0h1M78.8 219.1h1M92.6 217.3h1M78.3 216.5h1M81.0 218.8h1M78.1 220.7h1M68.2 211.1h1M99.5 205.1h1M57.5 221.1h1M76.0 207.8h1M89.4 220.8h1M67.9 220.0h1M73.8 221.6h1M85.5 215.1h1M71.0 210.8h1M88.8 213.5h1M84.2 219.3h1M85.6 204.5h1M98.2 219.5h1M88.4 218.9h1M98.0 223.5h1M90.2 216.7h1M70.0 219.7h1M86.1 213.8h1M88.6 215.8h1M67.3 206.6h1M97.9 219.9h1M87.3 220.1h1M73.4 221.6h1M84.0 212.1h1M79.6 213.6h1M84.1 224.6h1M59.9 219.8h1M98.2 212.3h1M71.0 226.2h1M59.2 219.1h1M72.6 220.3h1M74.0 222.2h1M89.2 218.8h1M73.2 216.3h1M86.3 222.3h1M72.7 216.2h1M107.5 219.5h1M89.2 214.3h1M104.7 208.6h1M72.0 214.3h1M90.5 215.5h1M72.7 219.1h1M90.7 207.2h1M65.7 219.9h1M70.7 203.5h1M70.4 211.7h1M66.6 215.5h1M75.1 203.2h1M72.6 206.0h1M67.3 220.1h1M84.2 219.5h1M89.2 218.2h1M68.7 213.4h1M83.2 217.9h1M80.6 213.0h1M92.1 223.3h1M92.5 216.4h1M80.8 220.1h1M105.0 223.5h1M102.3 220.6h1M78.7 211.8h1M81.8 225.8h1M96.2 220.1h1M74.3 211.9h1M87.5 213.7h1M83.6 225.7h1M75.4 216.4h1M80.6 219.3h1M65.8 223.6h1M77.1 219.9h1M61.2 208.3h1M108.2 223.5h1M99.7 225.6h1M96.6 225.1h1M94.1 221.5h1M97.1 224.4h1M93.2 217.0h1M77.2 224.5h1M70.5 225.0h1M87.8 212.8h1M94.6 227.0h1M68.0 221.3h1M102.3 221.9h1M99.2 220.1h1M78.0 222.9h1M82.2 214.1h1M93.8 222.4h1M78.8 224.1h1M70.9 213.9h1M86.8 216.0h1M60.3 216.3h1M84.6 214.7h1M95.8 221.4h1M86.4 226.1h1M91.0 226.2h1M80.5 216.4h1M82.2 223.9h1M96.8 221.3h1M100.9 218.1h1M87.6 215.8h1M74.7 215.5h1M75.0 217.1h1M80.9 210.4h1M98.3 222.7h1M86.7 218.8h1M82.4 219.7h1M74.6 221.4h1M92.7 224.1h1M86.2 214.9h1M82.4 218.3h1M84.1 207.7h1M101.6 203.5h1M81.2 205.4h1M96.7 206.2h1M83.6 222.3h1M81.6 215.8h1M73.0 225.6h1M83.2 223.4h1M89.2 213.9h1M92.1 222.7h1M86.4 209.9h1M63.2 210.1h1M73.3 215.2h1M84.1 218.9h1M98.0 214.4h1M64.2 220.0h1M85.1 217.4h1M82.1 216.2h1M62.2 210.6h1M90.1 209.2h1M83.4 213.9h1M77.4 221.1h1M118.3 226.5h1M63.2 222.5h1M72.8 218.5h1M79.0 209.8h1M78.8 219.1h1M82.1 204.1h1M71.5 217.0h1M77.7 221.4h1M74.0 216.5h1M78.8 209.5h1M92.3 215.8h1M88.3 216.4h1M85.4 214.0h1M105.4 216.6h1M76.2 218.1h1M88.1 216.7h1M91.0 210.5h1M72.5 219.8h1M85.1 221.7h1M84.8 221.9h1M77.8 210.7h1M89.2 218.4h1M94.3 207.0h1M95.4 225.6h1M80.9 212.0h1M85.1 217.3h1M108.9 216.0h1M70.9 215.1h1M85.4 211.8h1M92.8 206.8h1M90.2 221.0h1M84.9 221.1h1M97.1 218.5h1M80.6 223.1h1M85.2 219.4h1M78.6 222.7h1M82.8 221.4h1M70.6 217.4h1M91.2 221.2h1M101.7 204.7h1M97.0 218.3h1M72.4 216.3h1M99.7 217.1h1M75.1 205.4h1M82.4 224.3h1M103.3 213.3h1M71.2 217.6h1M92.3 215.7h1M86.1 207.5h1M81.3 216.1h1M73.4 206.3h1M87.6 212.6h1M77.9 217.0h1M94.5 219.2h1M96.5 219.6h1M67.8 218.3h1M79.5 222.3h1M70.0 210.7h1M70.7 214.9h1M84.0 214.6h1M80.7 218.0h1M64.8 215.0h1M77.1 213.2h1M69.7 219.5h1M72.8 216.9h1M100.5 217.5h1M97.5 217.7h1M68.1 222.6h1M69.9 197.4h1M80.2 221.5h1M78.0 226.7h1M55.2 219.4h1M58.8 207.2h1M69.5 223.4h1M94.2 215.1h1M81.3 206.7h1M64.2 214.9h1M88.4 226.6h1M80.3 224.3h1M79.4 211.9h1M96.3 211.1h1M84.7 218.7h1M88.9 209.1h1M78.8 222.4h1M72.9 225.5h1M85.8 219.9h1M79.7 218.8h1M80.3 220.5h1M93.2 206.1h1M88.4 226.2h1M92.6 225.7h1M65.7 216.5h1M89.1 219.2h1M76.5 221.4h1M73.6 222.3h1M96.3 219.6h1M92.1 215.7h1M75.1 208.8h1M70.5 215.1h1M83.2 219.8h1M77.9 217.5h1M101.3 219.8h1M66.9 224.5h1M62.9 222.4h1M80.2 221.2h1M83.1 223.9h1M84.5 220.6h1M91.3 219.1h1M105.8 222.6h1M79.2 207.2h1M63.6 210.3h1M85.7 225.2h1M92.4 219.4h1M96.0 219.6h1M83.3 212.7h1M99.7 226.9h1M86.7 220.6h1M71.4 220.2h1M76.0 219.9h1M66.1 226.4h1M63.9 225.1h1M85.9 221.0h1M92.6 208.5h1M104.5 216.5h1M82.4 220.1h1M70.8 222.1h1M93.9 218.7h1M76.5 218.6h1M90.6 219.2h1M89.2 220.5h1M62.4 208.9h1M91.2 226.1h1M84.5 222.4h1M78.7 217.4h1M78.4 211.4h1M102.2 220.9h1M103.1 214.9h1M70.4 212.0h1M75.8 222.3h1M93.0 208.2h1M69.7 203.8h1M75.1 216.3h1M63.2 214.6h1M103.4 217.5h1M94.7 215.5h1M88.0 221.7h1M85.4 217.9h1M78.4 215.2h1M78.6 216.2h1M89.8 223.8h1M75.2 226.1h1M96.5 225.7h1M77.6 224.3h1M73.4 196.3h1M97.3 212.4h1M81.4 217.2h1M89.1 220.8h1M78.4 208.1h1M89.0 221.5h1M68.2 215.1h1M94.9 220.6h1M65.9 217.0h1M62.5 214.1h1M86.4 223.0h1M87.7 216.2h1M84.2 209.5h1M69.7 215.0h1M92.8 218.6h1M66.9 211.9h1M74.3 211.8h1M92.4 225.7h1M76.0 212.8h1M89.2 220.3h1M64.2 218.1h1M70.2 211.1h1M78.8 220.2h1M86.4 209.0h1M61.8 223.3h1M90.9 219.5h1M91.2 218.6h1M81.1 216.7h1M67.8 217.2h1M83.1 226.7h1M77.1 223.6h1M89.2 212.5h1M91.0 210.4h1M78.2 224.1h1M98.9 220.8h1M71.8 222.0h1M88.4 226.9h1M66.4 219.3h1M91.1 226.3h1M69.6 221.9h1M72.9 214.6h1M84.9 222.8h1M81.8 220.7h1M78.8 215.5h1M106.7 222.6h1M83.1 209.2h1M72.3 209.9h1M93.2 224.5h1M92.0 208.6h1M102.7 217.6h1M72.7 221.3h1M94.7 220.0h1M95.5 222.5h1M83.0 217.6h1M85.7 216.9h1M76.7 226.9h1M77.1 222.1h1M86.2 218.1h1M89.3 207.8h1M100.9 224.0h1M63.6 225.4h1M83.5 216.7h1M92.5 225.2h1M82.6 220.2h1M103.7 226.9h1M97.5 221.7h1M88.9 207.4h1M81.6 216.7h1M87.3 223.2h1M79.6 213.5h1M82.3 216.5h1M116.9 212.8h1M80.6 219.3h1M72.3 220.0h1M85.7 226.4h1M79.5 225.1h1M79.6 220.7h1M82.0 221.2h1M91.5 220.3h1M85.6 220.3h1M81.5 202.1h1M88.2 218.3h1M77.9 221.7h1M91.5 211.9h1M72.1 222.0h1M86.5 225.6h1M104.8 216.4h1M100.2 206.2h1M82.4 217.0h1M92.9 211.1h1M75.6 224.1h1M67.1 213.6h1M85.7 220.5h1M88.7 213.9h1M82.7 216.0h1M86.6 211.9h1M77.4 222.3h1M92.2 218.0h1M82.4 226.0h1M92.0 212.9h1M63.5 221.7h1M98.9 209.7h1M81.9 206.4h1M68.9 186.9h1M76.7 178.1h1M109.8 209.7h1M86.0 186.4h1M90.5 192.9h1M105.3 194.8h1M95.3 186.4h1M97.1 224.6h1M87.8 190.7h1M112.4 202.9h1M80.1 176.3h1M121.8 191.0h1M87.5 193.7h1M79.7 194.0h1M104.3 189.1h1M101.0 201.9h1M59.6 227.0h1M97.0 197.1h1M70.3 197.0h1M79.2 192.5h1M99.3 209.3h1M86.8 211.9h1M126.1 186.9h1M91.6 196.7h1M73.3 203.1h1M74.5 201.5h1M77.8 184.3h1M95.4 185.7h1M93.2 208.5h1M109.7 205.0h1M96.0 162.2h1M95.4 201.1h1M98.7 221.9h1M91.0 188.0h1M98.1 203.7h1M106.5 173.8h1M106.5 214.1h1M83.9 179.8h1M63.1 177.3h1M79.4 193.8h1M85.0 177.2h1M100.7 207.6h1M83.5 203.5h1M122.9 177.1h1M116.6 171.3h1M88.7 193.9h1M115.5 206.1h1M115.1 205.8h1M73.8 218.6h1M138.6 173.1h1M77.1 184.9h1M88.5 197.1h1M74.4 214.3h1M94.3 207.9h1M70.6 192.0h1M92.9 181.4h1M111.4 215.0h1M96.6 216.2h1M119.2 196.3h1M109.4 178.1h1M87.8 189.9h1M96.6 187.5h1M93.4 191.3h1M95.1 184.0h1M92.0 189.9h1M79.6 198.5h1M83.2 191.5h1M100.4 211.1h1M91.0 198.0h1M73.1 199.4h1M80.8 225.5h1M81.0 205.0h1M91.9 202.2h1M95.8 199.1h1M94.3 200.6h1M81.6 209.6h1M93.0 185.3h1M69.5 219.7h1M91.8 219.8h1M64.6 190.8h1M76.6 171.4h1M72.2 191.8h1M103.3 202.2h1M72.1 214.1h1M97.3 196.3h1M84.3 194.1h1M71.5 226.3h1M65.8 187.7h1M100.4 218.3h1M99.1 215.4h1M105.6 176.0h1M123.6 204.4h1M97.1 189.6h1M97.2 182.8h1M90.3 166.8h1M94.2 171.8h1M86.4 206.8h1M77.2 192.6h1M126.2 204.3h1M60.7 180.7h1M96.6 193.8h1M99.8 194.7h1M94.8 172.2h1M75.9 170.2h1M89.0 207.2h1M84.4 202.1h1M73.9 183.0h1M91.4 197.7h1M85.2 211.2h1M103.7 183.8h1M74.1 210.4h1M81.7 200.6h1M99.3 225.4h1M93.2 153.9h1M96.1 225.0h1M75.4 199.3h1M78.8 166.4h1M77.4 213.2h1M94.9 218.0h1M104.6 220.8h1M110.3 220.6h1M83.4 198.9h1M93.4 186.3h1M64.5 191.3h1M77.2 206.6h1M80.6 191.0h1M65.5 200.3h1M61.7 214.9h1M100.9 205.2h1M131.2 179.2h1M94.7 189.5h1M86.4 176.4h1M103.2 178.9h1M78.9 209.1h1M118.6 182.0h1M65.6 181.0h1M69.5 194.7h1M89.3 213.6h1M78.7 193.2h1M115.6 193.2h1M64.5 215.7h1M79.2 207.8h1M95.6 207.5h1M101.1 216.2h1M108.5 181.6h1M97.4 203.3h1M128.9 188.3h1M83.5 217.6h1M94.5 213.9h1M106.0 181.0h1M86.1 223.1h1M86.5 178.8h1M83.6 220.2h1M80.5 203.1h1M72.3 184.1h1M82.0 179.7h1M65.1 194.1h1M97.8 199.0h1M64.4 186.9h1M126.3 209.4h1M120.1 174.7h1M110.0 199.3h1M87.7 199.5h1M81.4 166.3h1M112.0 204.9h1M94.3 177.1h1M100.7 155.2h1M79.1 188.6h1M109.3 195.4h1M77.7 215.5h1M93.0 190.9h1M61.9 225.6h1M80.1 225.0h1M99.7 218.8h1M83.6 222.9h1M83.6 205.7h1M104.5 189.6h1M89.9 211.0h1M112.2 216.6h1M100.8 195.1h1M99.7 171.7h1M65.0 211.4h1M69.2 205.7h1M106.0 176.4h1M73.1 201.2h1M80.4 212.3h1M101.3 197.5h1M85.5 213.4h1M99.2 212.8h1M76.4 173.2h1M96.1 194.1h1M109.4 208.1h1M96.6 215.7h1M102.1 165.4h1M92.1 198.3h1M75.8 212.2h1M114.7 221.2h1M122.8 182.9h1M80.4 192.8h1M117.7 180.7h1M90.3 214.0h1M68.6 175.9h1M92.7 220.5h1M96.7 216.1h1M100.3 208.1h1M109.0 160.9h1M75.9 187.4h1M99.4 212.8h1M103.6 174.3h1M86.5 195.2h1M75.2 197.6h1M74.9 215.3h1M103.8 204.5h1M104.6 204.3h1M77.0 191.6h1M68.4 199.5h1M112.0 197.1h1M64.8 212.4h1M93.8 196.3h1M77.4 217.8h1M61.4 169.2h1M93.2 220.8h1M87.8 196.4h1M115.4 219.5h1M129.5 200.9h1M87.9 214.6h1M108.4 226.0h1M108.7 189.6h1M82.2 200.9h1M76.4 196.4h1M118.3 203.1h1M84.9 170.6h1M90.6 196.4h1M86.1 195.0h1M88.8 185.4h1M80.8 196.0h1M103.7 172.0h1M112.3 224.3h1M84.7 207.4h1M91.9 183.9h1M65.9 178.7h1M80.2 204.4h1M111.9 169.7h1M130.3 203.4h1M97.4 186.9h1M73.0 193.5h1M104.2 203.9h1M116.8 210.6h1M103.7 176.4h1M67.7 216.8h1M62.9 175.6h1M105.5 200.9h1M90.2 177.2h1M81.0 184.6h1M98.0 222.7h1M81.3 189.5h1M58.5 187.9h1M104.7 189.4h1M80.1 193.8h1M74.1 225.0h1M68.5 178.4h1M95.3 177.4h1M77.4 209.6h1M101.6 171.0h1M86.5 192.8h1M109.3 219.4h1M84.5 199.3h1M80.0 190.8h1M57.7 186.7h1M72.5 183.0h1M103.2 188.8h1M142.7 201.7h1M69.9 221.4h1M73.5 216.4h1M96.8 189.2h1M99.1 186.2h1M79.6 211.6h1M92.4 166.9h1M63.9 191.4h1M86.0 193.4h1M106.3 179.4h1M118.7 181.5h1M88.2 205.3h1M86.7 169.7h1M98.7 182.9h1M109.8 187.6h1M99.3 200.5h1M78.4 174.7h1M97.1 218.4h1M107.4 193.6h1M79.0 194.4h1M68.5 192.6h1M99.7 187.0h1M97.3 181.5h1M107.4 219.4h1M92.6 202.6h1M80.2 197.0h1M83.7 216.6h1M73.7 186.3h1M75.1 210.1h1M81.6 199.3h1M82.9 183.1h1M110.0 212.3h1M70.4 172.3h1M90.3 210.4h1M81.2 183.1h1M116.3 206.0h1M95.6 223.3h1M84.8 208.8h1M104.9 188.1h1M92.3 198.2h1M83.1 192.2h1M117.1 177.9h1M103.2 179.1h1M120.4 199.5h1M110.7 208.2h1M104.3 167.4h1M93.4 197.4h1M72.9 207.6h1M103.2 200.5h1M92.4 180.8h1M102.6 216.9h1M91.1 177.0h1M79.6 210.0h1M74.2 226.9h1M103.1 162.4h1M113.1 203.1h1M86.4 204.0h1M98.9 202.5h1M114.6 184.9h1M77.2 192.9h1M85.5 173.7h1M72.3 200.8h1M111.2 207.9h1M95.7 186.6h1M83.5 182.0h1M63.3 190.0h1M88.2 198.2h1M108.1 199.4h1M86.3 196.5h1M84.1 199.6h1M102.1 175.2h1M70.5 150.1h1M92.2 209.2h1M101.4 223.5h1M78.2 173.3h1M77.3 186.5h1M95.5 203.6h1M89.6 215.1h1M87.3 209.7h1M94.8 220.9h1M95.1 197.3h1M75.7 205.6h1M80.1 205.5h1M98.9 190.6h1M110.3 219.5h1M114.2 209.3h1M77.1 215.5h1M109.8 191.4h1M104.2 216.4h1M90.9 179.7h1M99.6 205.2h1M105.4 152.1h1M121.5 180.4h1M73.6 211.2h1M101.5 190.3h1M89.1 201.3h1M87.9 169.6h1M110.8 225.5h1M105.2 208.7h1M74.3 197.8h1M86.7 205.5h1M95.3 204.0h1M67.6 223.2h1M106.0 202.0h1M90.2 172.3h1M94.2 193.7h1M97.1 220.8h1M121.9 208.2h1M92.1 190.8h1M85.4 209.0h1M120.8 200.3h1M83.0 208.9h1M82.6 170.3h1M68.1 182.4h1M109.7 209.9h1M96.1 194.3h1M99.4 204.4h1M89.2 192.7h1M78.3 202.5h1M78.4 188.4h1M98.8 187.2h1M93.6 196.9h1M118.9 172.6h1M78.7 161.2h1M83.3 222.2h1M74.3 196.4h1M114.7 218.0h1M70.8 200.4h1M104.5 200.8h1M115.7 210.0h1M89.2 210.8h1M103.7 177.0h1M55.8 219.5h1M85.0 181.1h1M63.6 201.8h1M91.7 199.6h1M107.4 192.1h1M97.5 209.0h1M82.7 199.1h1M82.9 205.6h1M66.8 183.2h1M88.4 182.1h1M127.2 204.1h1M79.6 170.7h1M98.6 183.4h1M82.3 209.5h1M105.1 187.4h1M99.0 182.6h1M87.6 178.7h1M61.6 200.8h1M82.9 191.8h1M111.7 200.9h1M87.5 194.9h1M83.5 190.6h1M60.2 163.8h1M98.7 200.3h1M97.0 198.3h1M81.9 201.0h1M85.4 170.0h1M96.5 218.1h1M81.6 197.7h1M97.4 197.5h1M88.2 170.4h1M89.2 197.1h1M81.6 221.9h1M77.5 190.9h1M98.4 176.6h1M83.4 200.5h1M100.7 182.2h1M110.0 205.5h1M94.0 179.2h1M65.6 196.0h1M79.3 194.3h1M107.0 197.6h1M87.3 189.2h1M78.1 184.0h1M90.1 197.2h1M100.1 188.1h1M96.0 200.9h1M102.5 193.5h1M77.8 158.9h1M87.0 197.2h1M87.4 222.5h1M91.3 203.5h1M56.4 208.7h1M87.7 206.2h1M69.1 190.0h1M115.0 174.9h1M117.8 212.4h1M119.9 216.7h1M105.3 208.1h1M83.5 205.6h1M107.8 205.1h1M88.3 197.8h1M101.9 203.0h1M76.5 198.5h1M81.8 203.9h1M99.5 181.8h1M121.5 187.3h1M91.3 208.1h1M129.6 192.3h1M138.0 156.2h1M70.2 200.4h1M91.2 158.5h1M89.4 210.8h1M82.7 209.9h1M90.6 186.7h1M107.9 178.7h1M107.5 194.6h1M96.1 198.6h1M91.8 184.9h1M93.7 201.0h1M93.9 210.2h1M101.4 208.7h1M91.8 180.3h1M100.2 160.8h1M69.7 198.4h1M105.1 186.9h1M121.1 206.1h1M94.8 226.7h1M68.0 226.7h1M114.5 203.3h1M86.2 217.5h1M88.1 199.2h1M101.9 203.1h1M98.2 213.1h1M112.6 197.8h1M102.2 189.8h1M93.9 185.5h1M58.5 198.5h1M73.0 187.7h1M94.8 212.2h1M103.2 192.7h1M74.5 223.7h1M81.5 219.3h1M99.7 177.2h1M59.7 217.1h1M59.0 191.6h1M87.9 222.1h1M96.0 207.4h1M83.7 197.8h1M92.2 189.0h1M69.4 204.2h1M102.8 205.2h1M90.1 196.1h1M96.2 205.3h1M102.6 181.5h1M82.9 208.2h1M105.7 177.9h1M112.7 209.4h1M98.5 206.8h1M114.2 210.9h1M81.2 189.1h1M96.3 194.9h1M75.2 201.4h1M90.5 185.9h1M82.9 223.3h1M82.5 190.8h1M93.3 215.9h1M109.7 182.7h1M86.5 204.2h1M93.9 192.5h1M67.1 214.8h1M93.6 193.9h1M111.2 184.2h1M105.4 206.7h1M99.8 178.6h1M82.9 182.6h1M75.4 212.1h1M90.2 167.0h1M69.3 212.0h1M71.0 192.2h1M107.7 183.4h1M76.4 203.2h1M122.0 209.9h1M67.8 189.1h1M99.0 196.1h1M72.1 212.8h1M94.7 212.0h1M74.3 198.3h1M92.5 186.0h1M89.2 183.0h1M84.2 189.0h1M100.4 210.8h1M117.2 209.1h1M81.9 204.4h1M106.7 223.0h1M93.2 194.2h1M91.3 192.8h1M128.7 192.7h1M80.3 164.3h1M61.3 204.3h1M86.5 206.9h1M87.9 200.4h1M97.6 219.3h1M122.0 212.5h1M113.7 184.2h1M84.4 207.9h1M99.9 193.1h1M119.9 200.2h1M94.7 202.9h1M95.3 191.3h1M100.3 210.3h1M78.1 217.1h1M97.5 203.2h1M101.0 166.8h1M76.3 218.0h1M86.4 217.9h1M89.7 196.3h1M89.2 191.5h1M103.5 210.8h1M93.6 185.9h1M94.6 213.2h1M67.9 181.4h1M74.0 184.1h1M97.2 200.0h1M64.9 175.1h1M96.3 199.8h1M80.6 208.8h1M78.1 177.5h1M102.7 215.4h1M80.3 190.3h1M77.3 209.1h1M80.4 203.4h1M92.7 192.1h1M138.1 190.9h1M56.0 170.9h1M91.4 188.0h1M87.6 186.8h1M85.4 217.0h1M114.0 213.4h1M73.3 203.6h1M90.7 193.4h1M68.6 207.7h1M73.2 213.2h1M83.3 190.3h1M106.1 195.2h1M105.9 202.7h1M81.5 183.3h1M100.1 203.0h1M85.3 198.5h1M93.5 188.4h1M94.2 185.7h1M102.1 205.1h1M81.2 214.7h1M89.3 205.5h1M95.3 185.5h1M93.1 212.6h1M78.1 202.8h1M120.6 209.9h1M83.8 219.5h1M104.3 184.7h1M95.0 197.6h1M112.2 189.9h1M87.9 215.8h1M70.7 170.2h1M93.7 207.1h1M129.6 190.6h1M100.1 219.3h1M70.7 201.4h1M83.7 197.0h1M114.1 202.4h1M67.8 206.4h1M88.5 200.5h1M86.5 196.3h1M128.1 197.6h1M86.6 208.6h1M113.7 181.0h1M80.0 199.9h1M77.9 198.0h1M108.5 191.8h1M102.0 212.4h1M62.3 178.3h1M102.3 193.8h1M102.3 185.6h1M81.1 209.1h1M95.2 192.1h1M96.0 200.8h1M83.3 206.5h1M81.6 173.1h1M80.1 207.6h1M86.9 187.4h1M69.0 195.7h1M90.7 198.1h1M66.2 213.6h1M92.7 212.4h1M74.0 203.0h1M105.8 192.0h1M124.1 191.5h1M113.8 211.0h1M68.4 226.9h1M112.9 205.7h1M95.1 190.3h1M90.5 204.6h1M81.4 204.3h1M91.3 200.5h1M114.9 187.5h1M100.6 157.3h1M84.4 191.0h1M80.1 217.7h1M84.4 203.6h1M101.3 162.9h1M122.9 200.1h1M73.6 168.9h1M84.9 203.2h1M78.7 179.8h1M98.1 213.4h1M100.7 186.8h1M67.5 209.4h1M74.0 200.4h1M111.6 180.2h1M96.8 211.2h1M100.2 177.5h1M83.0 222.5h1M85.0 201.0h1M99.2 182.7h1M83.0 169.5h1M91.4 224.4h1M106.7 178.9h1M109.2 202.8h1M103.2 196.3h1M76.9 198.5h1M91.5 195.5h1M90.7 224.1h1M102.1 202.5h1M102.6 169.0h1M68.7 214.8h1M108.8 181.7h1M93.3 194.0h1M98.4 184.8h1M97.0 200.8h1M117.2 206.6h1M71.1 204.0h1M109.8 189.9h1M77.6 186.5h1M103.7 214.2h1M114.0 198.3h1M98.2 186.4h1M86.8 213.3h1M86.5 200.8h1M92.1 187.2h1M73.7 222.9h1M75.2 202.1h1M102.5 185.0h1M105.6 194.6h1M81.9 217.1h1M66.9 179.4h1M130.4 223.2h1M109.9 211.5h1M97.5 195.3h1M74.1 222.8h1M95.5 210.1h1M75.3 202.9h1M93.7 225.2h1M98.0 184.4h1M74.1 196.5h1M76.2 196.4h1M78.2 193.1h1M96.1 174.8h1M87.0 215.2h1M86.6 201.4h1M96.7 201.7h1M95.2 223.7h1M116.3 190.5h1M88.1 199.0h1M74.4 204.6h1M91.2 192.7h1M115.9 198.1h1M82.1 212.9h1M92.2 199.9h1M85.4 222.5h1M98.2 187.3h1M95.7 203.4h1M77.8 175.9h1M87.6 198.0h1M107.2 188.1h1M109.8 223.0h1M106.9 212.6h1M105.9 208.6h1M85.3 224.4h1M107.0 212.2h1M71.8 188.3h1M90.5 175.5h1M60.4 199.5h1M85.1 194.0h1M84.7 140.9h1M87.9 139.7h1M75.7 144.4h1M103.8 122.2h1M80.3 145.5h1M84.5 144.2h1M95.6 127.8h1M75.9 141.7h1M98.7 158.8h1M98.9 138.7h1M87.7 148.9h1M80.8 140.3h1M86.3 134.2h1M73.9 133.1h1M102.9 138.6h1M91.0 156.2h1M83.9 151.2h1M82.4 135.3h1M95.6 153.1h1M104.0 141.4h1M79.1 135.5h1M85.3 147.2h1M74.7 133.2h1M96.6 126.4h1M91.9 156.2h1M110.8 123.7h1M89.4 148.3h1M86.6 126.9h1M84.1 142.4h1M98.2 140.6h1M75.9 138.1h1M97.2 120.0h1M92.7 141.6h1M86.0 142.3h1M82.4 133.4h1M100.0 142.0h1M107.2 153.0h1M86.5 135.3h1M95.3 145.4h1M106.2 130.8h1M84.9 146.7h1M88.2 149.4h1M79.5 168.5h1M89.2 152.1h1M89.8 147.2h1M86.7 157.3h1M83.8 132.4h1M76.2 153.8h1M78.4 137.1h1M81.7 136.3h1M96.3 154.1h1M85.9 145.2h1M82.8 156.5h1M96.4 127.7h1M95.6 145.6h1M83.7 137.3h1M84.8 140.0h1M96.5 123.0h1M93.8 152.5h1M83.0 144.9h1M92.7 132.6h1M90.2 128.8h1M100.6 133.8h1M82.7 157.2h1M98.5 141.7h1M94.4 139.3h1M81.4 147.9h1M100.0 142.9h1M98.7 145.2h1M78.6 150.5h1M108.4 146.2h1M80.1 151.9h1M82.2 130.5h1M87.6 143.5h1M97.5 139.2h1M95.8 143.9h1M89.6 142.4h1M102.9 136.3h1M94.2 139.3h1M103.2 152.6h1M116.1 137.2h1M92.3 130.0h1M67.1 149.0h1M86.4 152.9h1M80.7 140.1h1M91.3 144.2h1M91.4 134.3h1M79.3 140.8h1M80.0 154.3h1M88.1 151.2h1M88.7 144.5h1M66.7 140.1h1M99.4 126.2h1M90.8 146.2h1M90.4 147.7h1M93.2 153.8h1M81.1 163.7h1M90.0 146.8h1M100.0 152.8h1M100.4 131.5h1M94.7 155.4h1M87.9 151.9h1M83.0 157.0h1M102.6 149.9h1M95.3 147.6h1M86.6 158.2h1M70.5 136.2h1M82.5 149.6h1M72.7 154.1h1M102.0 135.0h1M92.2 131.2h1M83.6 147.5h1M87.9 144.3h1M114.5 149.3h1M101.7 149.7h1M78.1 135.2h1M89.3 146.5h1M79.1 154.6h1M74.5 139.4h1M92.1 140.2h1M112.9 131.5h1M105.0 151.5h1M90.9 163.1h1M87.0 129.1h1M92.4 150.9h1M100.1 152.4h1M76.9 137.4h1M73.1 139.3h1M108.0 132.4h1M93.1 135.1h1M105.5 144.8h1M92.7 149.8h1M104.3 144.3h1M84.8 151.9h1M95.1 145.3h1M105.0 131.2h1M100.0 158.0h1M86.2 155.3h1M98.9 135.9h1M84.3 161.3h1M77.1 148.0h1M95.4 144.5h1M103.6 162.8h1M98.5 117.6h1M78.7 126.8h1M98.7 150.5h1M96.9 140.7h1M86.2 133.5h1M67.1 158.7h1M100.0 148.2h1M98.8 130.2h1M95.2 136.5h1M74.2 151.9h1M76.5 161.5h1M100.0 122.7h1M98.1 145.8h1M95.2 139.4h1M88.2 125.4h1M94.2 141.6h1M85.4 126.9h1M87.6 137.8h1M82.3 159.8h1M92.9 148.5h1M86.6 151.3h1M99.5 149.4h1M97.3 146.9h1M82.8 153.3h1M107.8 131.4h1M79.9 139.6h1M94.8 152.1h1M100.7 135.9h1M102.6 138.8h1M69.6 155.7h1M100.0 159.1h1M102.0 137.1h1M104.1 135.0h1M69.4 149.3h1M84.1 146.1h1M89.6 136.5h1M86.3 149.5h1M103.2 149.1h1M84.1 144.2h1M102.1 173.5h1M95.8 157.3h1M76.7 151.7h1M81.1 153.9h1M86.1 173.8h1M91.4 154.7h1M99.9 136.0h1M88.8 146.7h1M99.1 144.2h1M75.6 137.6h1M61.5 146.1h1M87.3 146.0h1M94.9 142.9h1M87.1 138.4h1M80.9 151.9h1M94.5 127.1h1M108.9 151.9h1M89.5 143.5h1M83.6 146.3h1M82.5 119.1h1M109.2 160.7h1M90.1 125.7h1M96.3 134.6h1M102.1 150.0h1M100.7 137.2h1M81.7 139.3h1M99.6 120.5h1M98.5 139.0h1M95.1 145.6h1M100.1 150.4h1M85.2 140.5h1M89.8 145.7h1M85.5 148.0h1M97.7 136.5h1M84.3 135.7h1M94.2 163.6h1M80.1 134.7h1M89.3 156.1h1M87.1 144.2h1M89.4 158.6h1M91.8 136.9h1M88.8 148.8h1M88.4 146.9h1M70.8 141.1h1M101.0 146.7h1M84.6 135.6h1M88.2 142.6h1M82.6 139.4h1M100.0 151.3h1M81.9 142.5h1M95.3 129.1h1M101.7 139.6h1M106.1 142.5h1M101.8 134.2h1M96.4 157.2h1M79.1 147.6h1M102.8 152.1h1M101.8 135.6h1M98.5 139.4h1M98.1 153.9h1M91.3 128.7h1M85.6 147.3h1M100.8 144.4h1M102.6 138.3h1M80.7 144.4h1M99.2 132.4h1M92.9 145.8h1M99.0 130.9h1M93.2 130.3h1M101.1 157.9h1M100.3 136.2h1M99.0 121.7h1M77.5 153.5h1M98.4 135.5h1M91.1 107.2h1M80.0 142.9h1M97.3 153.0h1M77.7 147.1h1M99.1 161.2h1M106.7 142.2h1M85.9 149.7h1M99.3 133.1h1M94.9 145.2h1M96.8 159.3h1M77.9 148.7h1M96.4 145.2h1M91.9 123.1h1M97.7 139.6h1M90.8 130.2h1M101.0 151.5h1M93.3 135.9h1M97.1 147.2h1M103.6 133.1h1M92.4 163.0h1M100.1 131.4h1M92.9 144.9h1M95.7 170.6h1M85.8 145.7h1M98.0 134.5h1M102.3 149.8h1M90.0 153.7h1M98.2 152.5h1M94.8 123.1h1M80.4 145.7h1M94.1 121.5h1M103.2 163.1h1M86.2 144.2h1M74.1 138.7h1M92.7 150.5h1M84.8 148.5h1M108.6 131.2h1M90.4 160.3h1M90.8 141.0h1M84.9 125.3h1M93.2 158.0h1M85.5 159.4h1M82.4 156.5h1M90.2 149.2h1M83.2 134.3h1M103.1 153.2h1M79.9 162.8h1M90.1 152.0h1M84.4 160.1h1M77.9 135.5h1M106.4 154.1h1M71.2 153.2h1M104.4 128.1h1M77.7 126.6h1M91.7 136.1h1M111.9 144.4h1M71.0 148.2h1M78.0 141.2h1M103.1 142.9h1M92.4 142.4h1M85.7 144.5h1M90.5 149.6h1M81.8 148.7h1M92.0 143.0h1M104.8 146.2h1M87.3 138.9h1M92.1 151.8h1M102.0 138.3h1M109.3 160.6h1M85.4 143.3h1M93.6 146.4h1M85.6 135.6h1M84.8 140.0h1M87.1 145.3h1M84.9 143.8h1M74.7 137.1h1M72.3 131.5h1M84.0 144.0h1M92.1 145.2h1M102.1 149.3h1M85.9 156.6h1M89.3 140.3h1M97.0 122.8h1M97.7 142.1h1M89.8 124.3h1M90.3 130.2h1M108.3 154.3h1M87.7 149.5h1M86.3 136.8h1M75.7 136.9h1M94.9 142.6h1M88.4 125.3h1M108.6 148.6h1M87.7 139.9h1M98.4 162.8h1M99.5 132.5h1M106.2 154.0h1M78.6 136.5h1M105.4 154.2h1M91.0 133.4h1M89.9 151.2h1M87.9 139.0h1M87.2 135.0h1M87.6 142.0h1M69.1 148.6h1M95.6 147.8h1M91.4 160.1h1M82.0 152.2h1M90.2 116.0h1M112.2 139.4h1M94.4 122.8h1M87.2 139.6h1M106.7 150.1h1M83.4 129.6h1M89.4 131.2h1M85.7 145.1h1M88.6 140.6h1M97.6 160.1h1M96.2 147.0h1M84.0 149.2h1M89.6 161.9h1M91.6 138.4h1M87.0 143.6h1M90.5 133.2h1M84.1 146.3h1M84.0 154.4h1M91.2 157.9h1M81.2 143.2h1M94.7 136.2h1M89.0 135.6h1M82.3 129.0h1M85.1 144.9h1M86.4 157.8h1M89.3 118.8h1M91.9 120.8h1M88.9 158.3h1M82.8 126.8h1M104.0 147.1h1M99.2 130.4h1M91.8 151.8h1M99.6 151.8h1M93.8 145.4h1M88.4 152.3h1M91.6 144.2h1M115.4 149.6h1M100.0 162.8h1M100.4 155.2h1M87.1 136.8h1M96.3 135.2h1M111.6 141.2h1M94.7 141.3h1M100.7 144.4h1M102.4 137.3h1M96.7 150.5h1M105.3 144.1h1M92.9 147.5h1M95.4 143.8h1M85.0 150.1h1M115.1 131.2h1M93.6 160.3h1M91.8 147.3h1M103.6 148.4h1M86.3 150.1h1M90.7 155.1h1M83.6 151.5h1M91.0 146.2h1M87.2 141.8h1M95.8 126.5h1M89.6 146.0h1M85.3 140.5h1M88.1 140.5h1M89.7 169.0h1M86.1 124.3h1M99.4 144.4h1M96.9 156.5h1M92.1 153.9h1M79.8 156.8h1M95.5 130.5h1M79.0 133.7h1M92.5 150.3h1M91.2 140.7h1M85.3 161.8h1M83.1 146.2h1M84.4 145.9h1M109.6 148.4h1M88.3 141.0h1M88.9 145.1h1M99.6 136.8h1M94.6 143.5h1M100.5 138.8h1M79.5 146.5h1M80.8 129.0h1M121.3 128.2h1M90.4 148.7h1M88.1 146.2h1M92.2 133.8h1M99.8 141.5h1M79.8 132.9h1M93.4 165.3h1M90.5 127.5h1M96.9 161.9h1M92.3 135.3h1M85.9 148.3h1M82.8 141.1h1M68.4 139.9h1M99.7 153.7h1M77.3 152.5h1M87.1 140.9h1M106.0 134.4h1M86.9 165.7h1M96.4 158.7h1M88.8 145.4h1M97.1 140.8h1M91.0 147.0h1M86.1 144.8h1M103.1 156.5h1M88.3 133.8h1M78.5 144.1h1M87.7 135.7h1M95.7 157.7h1M80.6 162.9h1M97.9 143.0h1M97.7 149.6h1M110.1 158.7h1M84.9 140.8h1M96.8 134.1h1M75.5 154.9h1M86.9 149.3h1M91.7 141.8h1M94.5 159.3h1M90.2 146.4h1M89.9 125.3h1M85.1 147.6h1M86.7 143.3h1M93.5 163.7h1M95.8 143.8h1M96.6 141.8h1M99.8 148.5h1M101.6 146.5h1M74.3 129.2h1M86.0 145.2h1M89.3 140.5h1M84.9 158.7h1M100.3 169.2h1M97.6 132.2h1M89.8 133.8h1M91.8 135.1h1M102.3 137.1h1M87.6 136.7h1M87.9 144.5h1M99.0 155.4h1M95.0 130.3h1M103.7 127.8h1M94.1 124.6h1M97.6 155.6h1M85.8 157.9h1M82.2 127.9h1M90.7 126.8h1M66.6 145.3h1M94.5 155.5h1M99.6 154.6h1M91.4 146.0h1M88.7 151.1h1M100.6 147.4h1M90.4 138.2h1M99.7 164.0h1M110.7 144.0h1M97.3 132.3h1M99.3 139.1h1M95.2 127.8h1M93.0 144.2h1M93.3 155.5h1M91.4 130.7h1M100.6 155.8h1M76.1 166.0h1M88.3 148.0h1M96.7 131.8h1M83.1 135.0h1M89.8 140.5h1M84.4 130.5h1M94.8 130.9h1M98.6 141.3h1M104.0 142.1h1M95.3 150.4h1M84.2 131.4h1M93.0 163.7h1M95.9 155.1h1M103.6 153.4h1M71.3 137.2h1M94.1 162.3h1M74.2 140.4h1M97.2 163.1h1M94.8 155.3h1M95.3 134.6h1M98.8 139.2h1M94.3 163.7h1M84.9 154.5h1M93.9 142.4h1M101.6 146.1h1M89.7 146.1h1M91.0 135.9h1M79.7 141.9h1M101.3 137.1h1M86.2 139.5h1M84.0 148.9h1M86.7 133.9h1M82.9 151.6h1M88.5 145.2h1M102.3 152.0h1M97.9 153.3h1M103.7 157.1h1M104.2 150.6h1M82.6 151.4h1M95.1 142.1h1M104.4 150.0h1M111.6 134.5h1M77.9 141.4h1M77.8 151.9h1M95.0 143.5h1M87.7 148.7h1M81.7 132.9h1M94.2 158.4h1M83.6 137.9h1M70.2 148.2h1M90.5 143.8h1M91.9 153.8h1M96.5 140.0h1M99.3 133.5h1M92.4 124.0h1M88.6 140.8h1M84.7 131.4h1M75.8 149.6h1M86.7 159.2h1M99.8 120.6h1M96.6 130.4h1M109.3 147.2h1M89.3 157.0h1M74.5 147.2h1M98.2 147.4h1M100.1 149.3h1M80.1 150.1h1M76.1 161.3h1M92.1 150.4h1M97.2 130.9h1M80.5 139.0h1M87.6 146.2h1M83.7 135.4h1M80.0 141.2h1M78.8 138.5h1M92.0 136.6h1M87.3 151.3h1M84.6 139.9h1M67.0 132.5h1M106.5 136.5h1M82.1 144.4h1M89.4 166.3h1M80.4 146.7h1M94.1 159.6h1M77.0 149.2h1M91.5 121.3h1M88.9 148.0h1M99.0 135.0h1M80.7 129.7h1M84.8 132.6h1M88.5 162.9h1M109.6 127.3h1M77.3 137.4h1M93.3 156.2h1M84.7 151.0h1M93.5 125.9h1M96.6 142.8h1M91.9 138.5h1M93.0 141.9h1M93.2 151.9h1M85.3 137.9h1M88.7 140.6h1M75.6 159.4h1M87.4 124.5h1M83.6 140.0h1M88.3 148.9h1M97.3 130.8h1M94.1 137.3h1M94.9 130.1h1M100.6 145.6h1M69.0 137.4h1M94.5 152.3h1M90.4 154.8h1M89.7 144.5h1M78.7 139.9h1M95.6 146.7h1M101.0 144.6h1M99.9 131.1h1M89.8 155.3h1M96.4 146.3h1M98.9 152.3h1M107.1 129.5h1M101.7 153.2h1M91.8 166.2h1M91.4 150.5h1M92.1 128.6h1M92.6 144.3h1M86.1 143.3h1M97.5 146.3h1M84.3 141.5h1M83.3 149.2h1M93.8 139.0h1M85.3 146.4h1M88.3 136.6h1M71.7 145.0h1M97.7 154.5h1M90.5 138.7h1M89.4 151.0h1M94.7 134.5h1M92.4 140.0h1M84.2 141.4h1M108.7 157.1h1M86.4 135.8h1M99.4 156.8h1M107.1 128.4h1M84.9 142.2h1M91.4 153.6h1M83.1 151.3h1M100.0 133.2h1M87.5 130.9h1M80.6 153.2h1M102.5 130.5h1M98.8 150.0h1M82.5 138.4h1M101.3 143.8h1M92.3 168.4h1M115.1 160.3h1M106.1 152.8h1M85.5 129.3h1M88.1 147.3h1M82.6 144.5h1M91.7 142.8h1M90.9 158.1h1M97.2 125.6h1M91.3 147.3h1M77.2 145.2h1M83.2 135.9h1M103.3 162.2h1M101.0 130.4h1M89.0 144.2h1M89.3 144.7h1M89.0 120.6h1M90.7 128.7h1M75.3 133.6h1M98.6 152.2h1M84.5 153.9h1M91.8 150.2h1M67.6 146.4h1M92.6 120.5h1M102.6 146.1h1M70.2 138.4h1M104.3 156.3h1M94.8 158.1h1M83.9 167.6h1M76.1 151.4h1M101.0 152.5h1M92.9 132.9h1M95.9 144.7h1M88.0 130.7h1M83.3 153.4h1M98.4 131.1h1M81.8 141.6h1M98.7 135.1h1M75.3 138.8h1M82.1 148.7h1M77.3 137.8h1M102.4 146.2h1M74.6 133.1h1M80.2 158.7h1M96.5 137.0h1M92.6 154.6h1M110.4 166.6h1M107.2 117.9h1M96.1 133.2h1M96.8 141.6h1M73.9 156.3h1M82.5 138.6h1M87.5 147.8h1M88.9 136.0h1M78.0 149.8h1M82.0 130.9h1M82.8 152.7h1M100.2 111.9h1M94.4 123.6h1M87.5 163.2h1M88.0 145.6h1M93.1 134.2h1M84.2 167.3h1M88.1 155.0h1M74.9 155.8h1M96.6 139.3h1M99.2 150.4h1M93.8 149.2h1M94.8 126.1h1M93.8 150.1h1M109.0 141.8h1M92.3 157.5h1M78.5 157.7h1M81.0 136.9h1M97.0 137.3h1M100.2 145.8h1M97.5 150.8h1M98.1 139.3h1M92.2 142.5h1M77.0 150.3h1M84.0 148.3h1M74.0 156.2h1M87.0 146.3h1M78.1 134.2h1M91.4 124.8h1M88.9 152.4h1M72.7 140.2h1M97.1 140.0h1M97.4 140.6h1M77.8 126.9h1M91.8 139.5h1M97.0 115.8h1M87.8 139.4h1M98.3 134.1h1M92.2 163.4h1M100.2 148.5h1M92.1 141.4h1M88.9 145.5h1M95.1 151.5h1M97.6 135.6h1M92.7 141.2h1M86.3 139.9h1M83.2 170.4h1M87.0 144.5h1M85.2 122.6h1M92.3 152.3h1M92.0 171.5h1M89.6 133.4h1M90.4 181.1h1M92.0 143.0h1M104.7 154.5h1M101.4 137.6h1M85.1 140.8h1M94.2 130.4h1M87.4 132.3h1M89.5 120.6h1M88.1 156.0h1M84.7 131.3h1M77.9 147.7h1M67.8 147.2h1M92.2 136.7h1M101.2 144.2h1M82.1 142.6h1M95.0 138.3h1M86.8 144.2h1M92.9 144.2h1M83.0 132.6h1M88.2 129.7h1M89.3 134.5h1M68.6 145.0h1M92.3 158.6h1M89.1 159.5h1M67.6 147.0h1M96.3 153.9h1M90.0 145.0h1M92.2 155.6h1M93.6 145.0h1M86.5 147.9h1M80.4 140.6h1M86.2 143.6h1M86.4 164.2h1M110.7 130.6h1M107.2 143.7h1M85.8 137.2h1M86.5 154.0h1M93.2 163.3h1M95.5 140.2h1M83.9 113.6h1M81.1 150.3h1M108.0 150.3h1M100.0 125.3h1M76.0 141.0h1M74.0 142.9h1M82.7 118.5h1M92.3 150.9h1M95.3 148.4h1M87.1 146.2h1M75.4 132.1h1M92.3 135.9h1M95.8 136.7h1M90.2 148.8h1M85.7 132.9h1M95.5 159.5h1M89.7 147.7h1M79.9 119.9h1M91.1 161.9h1M78.3 145.3h1M99.1 137.6h1M94.5 144.7h1M81.0 123.7h1M92.2 145.6h1M101.8 116.8h1M70.4 132.4h1M88.9 158.3h1M105.4 157.3h1M75.9 139.8h1M88.7 133.0h1M77.0 153.7h1M89.6 143.0h1M68.0 145.8h1M75.2 150.3h1M85.2 131.8h1M91.5 152.2h1M93.7 120.4h1M94.2 159.5h1M100.9 126.4h1M96.7 136.6h1M97.1 136.2h1M81.1 151.4h1M88.8 151.6h1M119.8 147.4h1M111.3 149.4h1M97.9 148.6h1M97.1 142.7h1M99.4 122.6h1M86.5 118.2h1M108.4 118.3h1M86.7 142.9h1M89.5 140.9h1M110.5 141.9h1M70.8 145.9h1M93.6 140.9h1M74.2 132.5h1M84.1 127.0h1M89.4 122.6h1M86.9 156.7h1M91.8 153.3h1M83.1 128.6h1M89.3 140.4h1M79.1 148.2h1M86.6 160.9h1M77.3 136.8h1M96.3 145.3h1M78.1 156.1h1M96.7 124.3h1M86.3 135.3h1M87.4 142.9h1M101.3 135.5h1M91.2 166.5h1M72.5 152.9h1M94.9 145.5h1M63.0 132.8h1M92.7 152.9h1M86.5 150.3h1M77.1 137.7h1M91.0 138.6h1M87.3 127.3h1M109.0 142.5h1M86.1 152.8h1M108.4 154.3h1M103.2 149.7h1M84.5 152.4h1M82.5 136.9h1M102.6 138.2h1M88.9 156.5h1M91.7 148.3h1M87.8 134.6h1M78.8 148.8h1M86.7 152.4h1M81.2 151.1h1M75.8 144.5h1M87.5 137.6h1M107.0 147.7h1M105.4 161.9h1M89.6 144.9h1M91.5 136.0h1M95.0 147.0h1M103.0 129.8h1M93.2 145.8h1M85.7 140.0h1M86.5 153.8h1M100.9 144.4h1M114.8 154.8h1M84.3 168.5h1M70.9 140.9h1M97.9 134.1h1M89.5 148.3h1M91.5 142.3h1M101.9 144.8h1M90.9 136.7h1M77.7 149.3h1M71.7 144.0h1M89.8 119.6h1M79.3 140.7h1M93.0 146.9h1M78.2 156.1h1M86.9 136.9h1M76.3 134.5h1M86.8 155.8h1M86.0 136.6h1M95.9 144.4h1M102.9 148.4h1M88.5 151.3h1M82.1 143.3h1M108.7 131.1h1M93.7 154.3h1M96.0 138.5h1M96.0 137.5h1M104.0 165.1h1M99.8 152.8h1M96.7 131.7h1M97.5 138.0h1M82.1 140.5h1M84.5 135.0h1M89.2 122.3h1M91.1 152.0h1M90.4 151.7h1M93.2 145.9h1M90.5 138.8h1M86.2 145.5h1M74.9 150.2h1M98.2 131.8h1M95.8 139.6h1M81.9 137.1h1M95.0 150.8h1M94.0 146.1h1M90.9 129.1h1M72.8 136.5h1M78.8 162.5h1M84.6 132.6h1M105.6 144.8h1M82.1 136.3h1M87.0 156.8h1M79.7 142.5h1M85.6 138.4h1M93.5 130.4h1M70.6 140.5h1M63.4 152.2h1M96.5 150.5h1M90.6 128.8h1M84.5 160.2h1M99.4 140.5h1M99.5 131.7h1M70.4 144.6h1M88.7 136.4h1M100.8 136.9h1M83.9 136.3h1M87.3 142.2h1M99.3 137.7h1M87.7 124.6h1M78.9 148.8h1M83.7 137.5h1M77.7 156.1h1M95.5 149.0h1M73.9 149.8h1M99.8 145.1h1M74.6 157.2h1M90.7 139.6h1M76.3 132.3h1M87.3 146.9h1M100.0 113.6h1M100.9 139.1h1M102.6 145.5h1M89.4 138.6h1M91.3 156.8h1M92.5 150.7h1M96.1 144.3h1M86.5 138.8h1M100.7 155.0h1M93.3 135.7h1M101.1 138.6h1M94.8 151.2h1M96.7 149.6h1M83.3 165.2h1M86.3 140.7h1M78.0 122.7h1M87.4 150.2h1M88.6 156.7h1M98.2 141.3h1M78.3 160.0h1M121.0 162.4h1M89.1 135.9h1M102.2 137.9h1M100.1 129.5h1M66.3 149.0h1M87.8 150.9h1M104.2 149.6h1M67.2 129.7h1M97.6 134.8h1M81.5 127.5h1M85.8 125.6h1M92.4 128.5h1M72.5 125.9h1M92.1 141.1h1M84.1 147.6h1M83.1 149.8h1M96.9 142.8h1M123.6 135.8h1M93.5 142.9h1M95.5 149.2h1M89.8 139.8h1M83.4 143.6h1M92.7 139.7h1M104.7 137.4h1M92.0 143.4h1M98.7 130.9h1M88.1 154.4h1M114.2 126.1h1M74.6 148.0h1M95.8 128.3h1M95.4 159.4h1M92.7 152.4h1M79.6 134.2h1M79.4 138.1h1M88.0 130.8h1M91.1 142.4h1M78.7 147.5h1M80.1 170.6h1M95.5 128.2h1M100.0 156.4h1M84.9 136.7h1M83.5 146.0h1M83.3 152.5h1M113.7 148.9h1M94.8 147.6h1M89.5 140.9h1M99.7 142.9h1M112.0 144.7h1M101.3 156.0h1M76.6 127.1h1M89.3 137.7h1M86.3 129.5h1M86.9 132.6h1M78.6 134.4h1M86.4 154.9h1M79.8 166.2h1M93.4 157.6h1M90.6 130.2h1M76.7 143.8h1M73.9 130.7h1M85.6 147.8h1M96.3 156.7h1M94.8 149.3h1M89.5 152.4h1M58.7 141.4h1M85.4 121.7h1M83.1 121.6h1M86.9 141.9h1M78.5 149.2h1M86.0 156.7h1M83.8 139.2h1M116.0 143.8h1M96.8 145.8h1M88.3 154.5h1M89.7 142.2h1M89.0 131.2h1M91.9 154.7h1M86.3 147.4h1M90.0 147.1h1M99.9 129.3h1M98.0 142.9h1M93.1 124.5h1M102.8 121.3h1M92.3 140.4h1M80.8 138.3h1M73.5 149.1h1M83.5 158.5h1M89.5 142.6h1M93.9 162.3h1M100.4 136.7h1M84.6 151.2h1M82.4 129.3h1M97.5 144.4h1M101.3 139.6h1M85.6 140.7h1M93.3 149.3h1M103.2 122.7h1M93.2 144.2h1M89.6 134.2h1M70.3 144.3h1M102.7 147.2h1M96.3 139.0h1M91.3 139.0h1M85.7 130.6h1M78.2 148.9h1M89.2 135.7h1M89.1 147.8h1M100.6 127.6h1M78.6 157.7h1M103.9 132.0h1M90.5 155.5h1M101.4 138.2h1M80.9 148.9h1M93.4 141.4h1M101.7 150.3h1M91.2 143.0h1M76.1 156.7h1M87.0 150.2h1M95.2 150.3h1M76.8 161.0h1M76.4 135.5h1M92.4 157.0h1M81.1 143.8h1M96.6 127.1h1M78.9 148.1h1M72.6 140.8h1M82.7 161.2h1M104.3 137.7h1M81.9 143.5h1M90.1 145.5h1M92.5 122.5h1M81.1 148.5h1M100.5 132.3h1M91.8 158.2h1M94.4 160.9h1M74.1 142.9h1M73.5 125.9h1M63.9 145.0h1M88.3 144.9h1M87.9 150.8h1M97.0 139.8h1M104.3 130.2h1M87.7 141.5h1M87.6 133.0h1M94.4 162.1h1M104.7 135.4h1M82.3 136.0h1M96.1 142.5h1M87.8 129.6h1M87.0 138.2h1M97.9 141.5h1M82.6 137.7h1M80.0 140.3h1M96.5 156.4h1M89.9 147.7h1M87.6 128.6h1M88.9 138.4h1M94.9 151.0h1M86.6 136.0h1M97.4 143.9h1M94.1 142.7h1M104.2 148.7h1M102.2 141.1h1M98.3 141.5h1M88.2 133.8h1M91.3 146.9h1M84.5 133.0h1M117.3 161.7h1M88.1 142.8h1M95.5 140.6h1M103.1 151.5h1M77.2 142.1h1M82.3 144.0h1M86.4 142.4h1M80.7 135.2h1M78.1 133.1h1M85.3 135.5h1M102.5 155.2h1M97.1 136.2h1M90.5 138.6h1M90.5 138.2h1M74.4 150.5h1M96.8 164.3h1M94.2 133.1h1M79.9 148.9h1M92.2 144.3h1M88.4 139.7h1M85.3 148.4h1M80.8 129.3h1M83.8 152.0h1M81.2 145.4h1M94.6 132.3h1M93.7 160.1h1M93.3 152.1h1M88.5 155.5h1M86.3 127.4h1M109.6 140.1h1M72.5 137.4h1M101.6 149.7h1M93.6 157.6h1M90.9 122.5h1M85.4 143.2h1M88.1 141.6h1M78.9 153.7h1M77.0 142.6h1M89.2 129.3h1M74.5 140.9h1M98.2 131.9h1M100.8 134.6h1M57.5 143.5h1M75.5 137.8h1M92.8 146.0h1M92.2 126.7h1M91.3 167.9h1M94.2 156.5h1M97.3 150.7h1M98.5 129.1h1M107.2 119.8h1M90.5 133.7h1M98.4 140.5h1M74.8 167.0h1M89.0 157.0h1M78.7 137.4h1M103.5 156.0h1M112.4 156.1h1M95.4 143.2h1M77.9 156.1h1M89.2 146.5h1M90.5 136.0h1M92.1 130.4h1M100.6 141.7h1M99.3 153.7h1M65.1 128.4h1M103.2 125.7h1M85.5 148.9h1M85.0 113.8h1M103.7 162.6h1M87.7 138.3h1M77.2 150.9h1M77.7 163.0h1M90.8 127.4h1M98.9 131.7h1M104.5 167.1h1M88.7 139.9h1M85.8 141.6h1M105.7 145.4h1M85.9 154.3h1M104.1 157.2h1M92.5 144.2h1M92.5 139.4h1M88.0 142.6h1M93.1 146.3h1M85.9 157.1h1M83.8 144.5h1M89.0 162.5h1M84.1 133.8h1M93.2 148.7h1M91.1 161.9h1M87.8 156.8h1M88.4 146.6h1M88.1 133.5h1M106.8 135.4h1M90.2 141.3h1M84.6 146.3h1M87.5 140.3h1M96.6 127.4h1M88.4 135.1h1M88.8 148.6h1M87.8 152.0h1M91.8 128.0h1M94.0 139.1h1M94.5 125.0h1M74.7 136.9h1M80.1 181.0h1M65.3 143.7h1M97.9 139.3h1M100.8 136.7h1M102.6 130.0h1M91.6 123.0h1M101.2 142.5h1M89.9 140.0h1M89.1 158.9h1M75.6 125.4h1M82.8 147.7h1M84.7 157.4h1M99.0 122.0h1M106.0 150.1h1M85.8 125.7h1M93.8 148.6h1M92.9 158.8h1M82.9 143.0h1M73.9 146.1h1M83.1 135.6h1M76.6 146.1h1M87.3 155.2h1M88.9 141.0h1M88.5 141.5h1M88.7 147.2h1M94.8 151.8h1M81.4 125.4h1M98.7 143.6h1M74.4 135.6h1M90.8 148.3h1M93.9 154.1h1M82.7 146.4h1M75.1 156.9h1M96.3 132.4h1M83.9 138.6h1M97.7 132.4h1M97.5 143.6h1M90.2 144.0h1M90.2 140.9h1M99.6 130.0h1M93.8 142.2h1M81.4 138.3h1M91.8 149.5h1M95.5 140.1h1M92.2 155.5h1M92.0 145.5h1M88.8 123.1h1M89.1 141.1h1M81.4 127.7h1M76.7 153.4h1M100.9 158.4h1M84.2 142.7h1M92.3 147.8h1M76.0 127.5h1M91.7 118.9h1M82.4 137.0h1M118.3 140.3h1M80.6 126.8h1M81.1 144.0h1M99.2 146.4h1M101.0 149.9h1M70.3 159.7h1M92.6 151.7h1M98.5 139.1h1M78.7 144.1h1M96.7 149.5h1M85.3 131.8h1M80.8 157.3h1M86.9 152.7h1M85.9 140.6h1M77.1 136.2h1M111.4 183.9h1M85.9 152.1h1M83.2 153.1h1M98.3 162.4h1M89.5 153.6h1M102.8 145.3h1M87.7 150.6h1M93.5 133.2h1M91.1 150.7h1M91.8 126.5h1M88.3 147.6h1M89.2 149.0h1M106.0 126.3h1M83.8 163.7h1M85.1 130.7h1M87.0 154.3h1M95.6 137.4h1M94.0 146.4h1M99.0 136.0h1M77.6 169.9h1M92.7 154.2h1M128.7 126.4h1M110.8 134.5h1M109.3 135.9h1M99.9 142.5h1M93.1 131.8h1M107.8 118.1h1M100.1 135.1h1M94.6 153.4h1M73.3 124.5h1M92.0 150.0h1M107.8 148.0h1M89.1 136.3h1M103.4 146.0h1M94.9 132.4h1M79.4 136.9h1M81.6 128.9h1M84.5 148.0h1M92.3 159.7h1M92.8 133.3h1M116.9 157.5h1M78.5 114.5h1M61.8 130.6h1M109.3 129.0h1M89.5 164.2h1M95.3 134.4h1M141.8 152.1h1M122.9 115.6h1M107.7 143.5h1M113.9 149.3h1M99.5 141.5h1M114.2 106.8h1M86.8 144.3h1M85.0 152.5h1M89.3 159.1h1M125.0 147.2h1M124.6 120.2h1M86.9 139.3h1M117.7 153.7h1M94.7 131.4h1M116.2 149.3h1M92.0 135.8h1M114.2 143.2h1M95.6 151.8h1M92.5 132.8h1M97.1 179.1h1M100.3 144.0h1M87.4 146.5h1M73.7 132.4h1M127.1 142.8h1M90.7 138.5h1M65.9 123.1h1M58.0 122.1h1M86.9 140.9h1M121.3 107.9h1M69.1 114.2h1M92.0 138.0h1M65.5 141.1h1M116.9 149.9h1M104.0 125.9h1M103.3 149.7h1M121.2 138.0h1M126.4 135.4h1M115.6 140.2h1M87.5 154.8h1M74.5 149.2h1M79.4 153.6h1M67.0 133.1h1M129.2 138.3h1M94.3 126.9h1M99.9 134.8h1M101.1 136.8h1M133.0 135.9h1M87.8 151.3h1M118.4 147.5h1M103.0 151.9h1M95.0 143.7h1M64.1 155.9h1M113.8 143.5h1M84.7 154.6h1M89.7 148.5h1M101.6 151.6h1M99.4 141.1h1M117.4 125.9h1M86.0 123.2h1M100.6 167.4h1M102.6 147.0h1M98.2 147.8h1M109.6 139.8h1M93.3 136.0h1M118.8 179.3h1M85.3 127.4h1M72.5 141.2h1M97.0 141.3h1M118.4 127.3h1M88.7 125.5h1M86.7 132.9h1M91.7 137.5h1M100.6 135.7h1M94.7 152.6h1M103.2 126.7h1M67.7 147.3h1M124.0 161.1h1M107.9 153.6h1M82.7 127.2h1M121.7 103.6h1M105.6 153.0h1M123.5 148.5h1M77.1 134.4h1M126.8 158.6h1M98.5 136.7h1M61.7 143.4h1M110.9 128.5h1M92.4 146.1h1M80.0 136.4h1M94.0 135.5h1M63.7 156.0h1M107.9 144.8h1M93.9 122.6h1M93.0 151.0h1M122.5 152.9h1M98.3 131.2h1M86.2 136.9h1M81.1 142.7h1M96.7 138.8h1M116.4 143.6h1M87.5 150.4h1M79.6 135.6h1M113.9 169.1h1M98.8 132.7h1M97.3 135.0h1M134.2 167.6h1M76.5 173.0h1M101.2 142.5h1M66.6 139.6h1M92.5 128.1h1M108.0 156.9h1M117.4 144.3h1M75.5 131.0h1M112.3 147.3h1M111.4 159.8h1M95.6 150.9h1M140.8 170.7h1M97.7 157.1h1M82.3 147.7h1M105.2 141.6h1M65.1 149.2h1M125.0 157.8h1M115.0 153.2h1M90.7 155.7h1M108.5 144.9h1M107.1 152.0h1M131.6 157.8h1M86.9 139.8h1M75.1 125.2h1M62.1 164.4h1M92.5 149.6h1M70.3 136.3h1M94.7 145.0h1M104.9 138.8h1M90.0 119.8h1M81.2 139.6h1M118.6 123.5h1M94.2 144.6h1M101.8 140.6h1M114.4 156.7h1M74.9 140.4h1M81.6 146.9h1M141.4 138.1h1M94.9 137.1h1M79.5 123.8h1M93.2 154.9h1M87.7 144.2h1M76.2 134.4h1M90.5 144.7h1M97.3 136.6h1M97.5 132.6h1M107.1 145.2h1M67.4 157.8h1M71.5 138.5h1M111.5 123.5h1M89.9 134.0h1M119.0 165.4h1M103.0 131.5h1M73.0 157.4h1M107.1 138.9h1M80.0 151.6h1M102.2 140.6h1M119.2 121.5h1M134.7 136.6h1M96.5 169.5h1M109.9 140.3h1M103.0 149.3h1M111.5 137.6h1M90.9 146.2h1M102.8 148.2h1M105.9 170.9h1M84.5 141.8h1M112.1 139.7h1M117.0 133.4h1M98.9 124.9h1M93.7 121.1h1M91.5 150.6h1M100.1 117.8h1M118.3 160.3h1M123.9 153.2h1M89.5 138.2h1M81.5 127.0h1M83.9 142.4h1M114.9 142.3h1M101.6 156.7h1M102.9 132.4h1M106.1 137.1h1M104.3 141.3h1M95.6 138.4h1M79.5 133.9h1M86.9 119.7h1M99.8 120.7h1M104.6 133.3h1M91.3 139.1h1M90.5 155.0h1M121.6 172.1h1M89.6 164.3h1M101.6 147.2h1M92.2 166.5h1M82.7 140.5h1M71.3 135.2h1M88.3 172.1h1M83.4 128.2h1M112.5 136.7h1M77.7 138.6h1M90.5 161.0h1M109.1 134.3h1M95.7 152.2h1M106.3 136.8h1M112.3 126.1h1M68.8 145.1h1M90.5 144.2h1M81.0 127.0h1M121.2 130.8h1M95.7 131.7h1M106.3 154.6h1M127.2 148.1h1M91.5 145.2h1M99.0 148.4h1M104.8 135.9h1M93.1 148.3h1M119.5 134.2h1M111.9 124.8h1M115.1 132.9h1M98.5 144.8h1M91.8 143.2h1M91.5 155.8h1M91.4 120.1h1M69.2 139.2h1M104.0 147.2h1M111.8 129.6h1M97.5 145.3h1M89.1 136.8h1M98.3 127.4h1M101.6 156.7h1M103.4 124.0h1M128.8 155.1h1M82.9 136.7h1M104.0 129.9h1M109.6 130.6h1M99.0 132.5h1M93.6 131.1h1M80.0 145.6h1M87.4 117.8h1M109.9 158.2h1M122.8 152.9h1M86.3 160.1h1M105.8 129.3h1M106.6 112.0h1M115.1 134.0h1M101.9 139.9h1M105.3 146.0h1M113.1 135.4h1M77.6 141.0h1M98.5 144.1h1M67.2 122.0h1M63.7 165.6h1M83.5 127.5h1M71.1 145.5h1M106.4 156.1h1M114.8 132.0h1M92.4 142.2h1M95.3 163.3h1M93.6 138.5h1M93.1 155.7h1M100.0 145.9h1M103.7 145.1h1M89.7 151.5h1M84.1 139.1h1M88.7 139.4h1M111.4 154.6h1M90.4 145.5h1M122.5 148.6h1M93.5 126.6h1M121.1 142.4h1M77.1 157.9h1M85.7 153.9h1M105.8 146.6h1M106.0 135.5h1M94.9 134.2h1M132.6 147.9h1M98.8 160.6h1M102.6 142.7h1M87.8 159.1h1M126.0 138.3h1M112.3 157.8h1M104.7 129.2h1M69.6 144.6h1M103.8 128.3h1M89.6 150.8h1M104.3 149.6h1M113.2 129.9h1M84.8 132.5h1M101.3 136.4h1M112.6 122.9h1M100.4 130.2h1M92.0 131.0h1M79.5 152.4h1M86.1 160.2h1M75.9 136.4h1M114.4 138.5h1M99.3 145.0h1M76.8 135.4h1M97.5 138.6h1M75.5 153.1h1M118.2 141.1h1M117.6 134.8h1M72.4 161.3h1M85.3 134.2h1M101.1 143.8h1M91.0 128.8h1M82.9 134.5h1M88.8 143.4h1M93.4 137.1h1M88.1 149.1h1M101.1 143.1h1M93.6 124.2h1M84.5 112.2h1M97.9 155.1h1M69.2 134.6h1M122.2 161.4h1M67.9 142.4h1M96.1 132.3h1M103.3 149.4h1M104.6 138.7h1M101.9 142.4h1M119.0 130.1h1M78.3 150.5h1M96.3 156.4h1M100.0 135.4h1M89.0 165.3h1M87.4 134.8h1M119.4 145.4h1M85.4 120.9h1M89.3 117.2h1M92.8 169.5h1M93.9 160.7h1M100.2 157.1h1M93.9 120.1h1M103.8 145.1h1M99.8 147.6h1M105.6 143.2h1M120.7 146.0h1M83.1 130.2h1M125.5 140.1h1M89.8 127.4h1M108.7 137.6h1M100.2 147.0h1M92.4 132.0h1M64.1 138.6h1M124.8 136.6h1M84.6 142.4h1M84.0 154.1h1M115.5 145.2h1M98.7 147.3h1M129.7 123.5h1M126.0 137.4h1M109.4 152.8h1M101.7 131.0h1M110.3 136.5h1M75.1 129.6h1M100.3 159.5h1M99.9 136.3h1M89.4 132.7h1M101.7 150.2h1M72.6 156.4h1M112.7 148.6h1M119.2 154.9h1M75.5 144.9h1M99.8 140.5h1M123.6 136.4h1M104.5 135.5h1M79.9 134.4h1M80.7 146.9h1M111.8 140.6h1M128.4 143.2h1M79.0 150.0h1M98.0 141.4h1M84.2 124.3h1M92.5 131.8h1M102.6 127.6h1M96.7 117.3h1M85.8 143.5h1M132.9 126.5h1M94.7 125.4h1M94.3 128.1h1M116.1 153.4h1M97.6 138.1h1M93.9 155.1h1M113.4 140.9h1M79.9 136.4h1M110.0 149.4h1M114.7 149.8h1M108.5 143.6h1M94.3 128.6h1M97.2 136.1h1M68.4 126.7h1M95.1 138.7h1M102.2 143.3h1M112.0 161.3h1M99.7 160.4h1M90.8 150.9h1M83.2 154.5h1M96.6 145.1h1M99.6 178.1h1M117.7 161.9h1M97.5 176.4h1M88.9 147.0h1M95.5 147.4h1M89.2 155.7h1M93.4 144.5h1M60.2 146.1h1M70.5 129.2h1M77.2 154.3h1M105.2 143.8h1M96.0 152.5h1M99.8 139.2h1M116.9 119.0h1M79.8 148.5h1M116.5 157.2h1M103.8 125.4h1M85.3 129.4h1M122.3 138.1h1M73.3 138.8h1M78.4 119.9h1M93.8 164.8h1M104.1 155.2h1M94.1 134.0h1M61.4 118.5h1M92.3 146.7h1M95.9 167.8h1M140.1 152.8h1M120.4 157.0h1M99.4 129.8h1M79.0 145.0h1M103.0 122.5h1M77.7 167.7h1M100.7 149.4h1M103.4 114.6h1M90.6 118.0h1M101.5 148.2h1M91.7 143.8h1M87.7 138.0h1M123.0 150.0h1M107.0 168.1h1M92.1 146.8h1M84.4 118.5h1M100.3 139.9h1M106.8 124.9h1M111.6 131.5h1M122.0 146.2h1M105.0 139.8h1M78.5 128.1h1M131.3 141.6h1M116.7 131.3h1M111.2 148.8h1M119.7 138.8h1M72.3 147.0h1M91.0 138.4h1M88.7 151.6h1M117.2 140.1h1M77.5 141.7h1M91.8 134.6h1M122.7 143.7h1M108.1 118.8h1M90.8 176.6h1M128.8 133.0h1M75.0 143.2h1M104.8 135.7h1M93.4 135.5h1M105.8 147.1h1M92.6 135.2h1M83.2 136.3h1M100.8 123.9h1M75.1 129.8h1M106.1 126.6h1M91.9 165.3h1M112.7 124.5h1M89.7 127.9h1M86.0 144.3h1M103.9 160.4h1M117.9 119.8h1M62.5 121.7h1M99.2 143.4h1M107.7 146.2h1M73.4 123.4h1M82.4 118.4h1M108.0 129.3h1M83.3 151.5h1M86.5 141.2h1M126.0 151.5h1M81.4 140.4h1M82.7 141.4h1M58.4 149.8h1M78.8 140.2h1M76.6 144.8h1M125.9 129.9h1M117.6 134.0h1M76.0 147.9h1M130.1 138.6h1M110.1 132.0h1M94.2 150.3h1M110.7 148.9h1M103.6 141.7h1M84.3 131.9h1M67.7 153.4h1M81.9 174.2h1M97.1 131.1h1M91.2 121.7h1M84.8 131.6h1M113.5 129.6h1M79.3 125.3h1M112.1 126.3h1M89.1 152.7h1M99.0 152.9h1M78.4 161.0h1M97.0 151.4h1M84.0 135.5h1M67.9 155.8h1M96.8 133.7h1M96.3 137.2h1M111.0 126.4h1M101.9 157.6h1M80.1 154.8h1M86.9 135.7h1M55.5 137.6h1M78.4 142.1h1M118.9 144.3h1M122.5 152.6h1M109.9 142.5h1M102.2 146.9h1M107.0 122.2h1M105.3 137.7h1M68.0 118.3h1M82.5 164.8h1M117.0 159.8h1M116.9 150.9h1M101.1 156.1h1M91.9 167.7h1M90.7 153.8h1M88.0 120.9h1M81.6 138.9h1M64.8 111.0h1M99.6 131.0h1M89.5 125.4h1M93.5 141.5h1M125.9 146.7h1M107.0 129.5h1M85.3 137.9h1M106.8 145.2h1M71.8 139.5h1M114.7 139.3h1M101.5 110.3h1M93.8 135.8h1M106.7 151.9h1M121.5 144.9h1M89.3 122.3h1M80.5 138.0h1M132.6 145.0h1M97.4 128.9h1M122.2 150.3h1M85.7 131.1h1M103.4 137.2h1M86.3 140.1h1M107.7 170.5h1M92.4 137.4h1M85.8 134.1h1M123.2 150.8h1M102.8 135.4h1M62.9 144.0h1M93.1 112.2h1M81.6 145.4h1M86.4 173.3h1M72.4 176.8h1M101.5 171.7h1M84.0 162.0h1M84.4 174.4h1M72.1 175.9h1M68.7 177.6h1M80.3 194.4h1M69.8 163.7h1M92.0 172.8h1M96.1 178.3h1M79.6 167.0h1M68.9 158.5h1M82.2 165.6h1M74.9 184.0h1M88.4 169.0h1M88.6 178.9h1M81.9 163.7h1M87.4 177.0h1M98.0 164.4h1M105.3 162.5h1M80.8 173.3h1M94.5 172.6h1M83.9 188.6h1M74.9 153.7h1M100.7 177.7h1M90.9 190.2h1M88.1 187.4h1M90.5 167.7h1M84.8 164.3h1M75.0 166.4h1M106.1 175.4h1M96.4 174.1h1M89.4 175.9h1M97.2 178.8h1M100.7 159.9h1M84.4 159.3h1M93.0 158.2h1M83.0 156.9h1M93.6 170.9h1M83.7 175.5h1M113.3 200.6h1M82.6 178.0h1M92.2 172.2h1M91.6 188.0h1M82.9 163.7h1M96.8 175.8h1M85.6 183.0h1M82.0 180.9h1M86.6 176.6h1M78.3 168.1h1M99.7 158.0h1M93.4 170.3h1M97.3 165.3h1M71.7 179.8h1M89.5 170.5h1M78.1 178.3h1M87.5 153.8h1M100.6 183.0h1M89.4 162.4h1M84.6 154.4h1M98.9 156.5h1M97.7 164.9h1M106.9 184.7h1M66.1 180.0h1M90.1 158.8h1M82.0 173.0h1M76.9 170.8h1M87.8 154.3h1M73.8 160.8h1M62.0 149.0h1M76.6 162.2h1M83.7 142.1h1M107.1 163.0h1M78.6 161.4h1M73.7 163.0h1M64.8 162.7h1M82.7 185.0h1M83.9 168.1h1M88.2 174.7h1M70.6 180.5h1M78.2 182.2h1M61.6 179.7h1M88.4 165.8h1M69.3 159.6h1M56.3 163.2h1M99.3 166.7h1M92.1 172.1h1M90.4 171.0h1M90.4 184.3h1M75.2 170.8h1M98.4 192.2h1M75.0 183.6h1M107.6 166.6h1M89.0 181.7h1M66.3 139.6h1M96.1 187.5h1M108.3 176.6h1M83.8 176.5h1M98.3 153.0h1M84.2 200.4h1M79.6 169.1h1M58.2 170.4h1M100.2 184.7h1M81.7 169.8h1M90.7 162.4h1M74.1 179.4h1M76.6 160.6h1M98.9 180.4h1M82.3 173.5h1M82.2 184.7h1M72.7 158.4h1M88.9 186.0h1M95.1 175.3h1M81.5 194.2h1M84.5 164.7h1M73.1 192.9h1M102.0 179.9h1M79.8 180.9h1M84.9 163.8h1M105.1 178.3h1M84.1 179.5h1M69.5 162.7h1M76.4 159.0h1M82.6 163.3h1M106.2 188.4h1M89.1 173.8h1M84.1 182.5h1M95.8 175.2h1M101.0 173.3h1M78.3 174.5h1M102.4 167.4h1M96.1 185.7h1M91.6 173.9h1M60.5 174.5h1M88.8 156.4h1M102.0 175.5h1M83.6 164.4h1M112.2 166.4h1M87.5 183.7h1M75.4 159.7h1M93.2 169.7h1M89.9 179.1h1M95.9 185.0h1M84.2 166.2h1M101.1 175.6h1M80.5 175.2h1M88.2 159.3h1M72.9 147.9h1M77.8 150.3h1M89.0 178.7h1M79.4 173.1h1M81.7 156.9h1M84.4 164.8h1M89.5 167.5h1M95.2 168.0h1M95.2 171.7h1M98.1 196.8h1M89.0 163.2h1M80.7 173.6h1M69.1 163.3h1M82.9 164.9h1M77.9 162.1h1M66.6 169.4h1M105.0 165.8h1M66.3 175.9h1M90.7 174.4h1M92.9 162.0h1M84.1 193.5h1M115.5 158.8h1M87.0 176.0h1M78.2 196.4h1M106.3 164.0h1M77.9 186.9h1M70.8 187.9h1M75.6 175.8h1M79.6 151.2h1M87.3 188.0h1M90.5 173.0h1M69.8 165.8h1M90.7 186.3h1M111.6 163.8h1M78.8 184.0h1M85.3 165.8h1M94.5 178.0h1M100.2 159.9h1M79.3 167.5h1M76.0 161.7h1M75.5 164.0h1M99.0 174.1h1M96.8 170.1h1M62.6 174.1h1M62.9 186.4h1M73.0 170.7h1M70.0 151.1h1M91.3 168.8h1M89.2 172.9h1M108.6 183.4h1M95.6 183.6h1M88.1 182.7h1M99.9 169.4h1M76.8 179.2h1M71.2 155.8h1M87.1 186.5h1M97.2 176.9h1M68.7 177.7h1M96.7 167.7h1M96.4 172.6h1M81.2 164.5h1M88.6 178.4h1M83.7 157.1h1M87.7 182.9h1M95.8 178.1h1M77.8 194.7h1M98.4 171.6h1M96.5 170.9h1M96.9 174.2h1M64.8 172.4h1M66.0 170.8h1M94.5 159.6h1M80.2 159.6h1M79.0 165.6h1M78.2 168.7h1M71.8 158.7h1M83.6 159.0h1M78.7 168.8h1M79.4 180.3h1M92.1 169.9h1M73.5 179.6h1M99.3 182.9h1M61.9 180.6h1M114.8 167.3h1M71.5 167.5h1M93.3 151.0h1M97.0 164.3h1M86.7 177.3h1M95.1 159.8h1M85.5 187.2h1M67.0 188.1h1M90.6 167.9h1M99.6 182.4h1M80.6 156.1h1M67.8 160.2h1M80.0 167.8h1M90.4 172.1h1M90.1 169.9h1M99.1 162.3h1M93.0 194.1h1M92.4 175.3h1M64.3 175.2h1M111.7 179.6h1M87.3 174.0h1M96.4 169.4h1M82.9 165.7h1M85.1 153.6h1M87.4 188.8h1M104.4 161.7h1M103.8 153.3h1M93.7 162.9h1M109.0 154.0h1M82.3 194.4h1M92.6 176.1h1M81.7 187.8h1M101.3 188.3h1M87.2 178.4h1M97.8 178.4h1M106.1 163.9h1M63.6 171.1h1M111.2 165.2h1M90.4 172.5h1M83.2 164.1h1M65.3 186.2h1M83.4 180.6h1M61.0 170.8h1M87.8 153.2h1M84.9 179.7h1M107.3 181.9h1M83.2 171.2h1M98.9 157.8h1M100.0 176.9h1M110.0 183.8h1M84.1 150.5h1M95.4 178.4h1M69.8 151.6h1M74.4 172.9h1M83.8 191.6h1M86.6 173.0h1M73.2 177.4h1M82.2 168.4h1M94.8 171.9h1M81.7 198.4h1M85.1 187.0h1M76.9 168.5h1M102.5 167.7h1M106.9 172.2h1M89.2 196.6h1M85.6 174.3h1M105.7 184.5h1M92.3 167.9h1M79.4 157.7h1M71.7 186.8h1M80.3 171.1h1M111.7 163.2h1M80.2 164.2h1M119.5 164.5h1M86.9 165.2h1M84.5 154.7h1M101.9 185.5h1M84.2 176.3h1M91.2 182.9h1M75.2 168.1h1M72.9 175.9h1M78.6 173.9h1M89.5 185.2h1M79.4 181.1h1M64.8 176.0h1M92.3 164.7h1M85.1 158.5h1M83.8 163.0h1M80.0 164.9h1M61.5 166.0h1M104.9 158.2h1M81.5 190.6h1M92.9 175.0h1M102.7 149.4h1M99.7 159.8h1M89.3 157.0h1M87.1 174.7h1M90.4 183.9h1M97.2 161.0h1M93.5 178.9h1M81.9 168.9h1M92.1 184.9h1M91.2 187.3h1M94.8 175.5h1M89.3 180.0h1M102.4 172.0h1M89.3 167.8h1M97.0 159.0h1M87.5 175.7h1M80.5 171.2h1M76.3 167.7h1M85.2 171.1h1M93.0 169.9h1M101.3 160.4h1M86.0 166.1h1M81.1 184.8h1M81.2 169.4h1M101.6 187.6h1M88.2 159.1h1M81.3 156.9h1M95.3 173.4h1M72.1 180.7h1M88.3 164.7h1M86.5 179.0h1M85.5 182.4h1M74.0 184.0h1M98.1 170.8h1M106.0 171.4h1M72.0 153.6h1M88.3 172.3h1M94.3 175.1h1M112.5 187.7h1M82.3 157.8h1M76.3 162.6h1M86.9 160.8h1M109.7 182.0h1M87.8 143.8h1M90.0 159.9h1M107.0 195.0h1M62.9 179.3h1M62.6 157.2h1M97.2 171.3h1M95.7 181.4h1M71.4 178.1h1M92.8 169.5h1M87.5 163.2h1M89.4 181.3h1M77.9 171.9h1M81.9 181.0h1M77.1 176.4h1M87.6 166.8h1M84.4 188.0h1M106.0 166.5h1M94.1 176.8h1M69.2 165.0h1M91.7 169.4h1M103.2 169.2h1M90.2 164.7h1M99.2 174.6h1M86.6 186.6h1M94.9 192.7h1M76.5 188.0h1M95.9 170.1h1M71.4 188.2h1M101.6 176.7h1M69.9 192.0h1M63.1 158.0h1M93.0 188.5h1M85.1 165.4h1M154.7 139.4h1M128.5 128.8h1M150.7 151.0h1M131.5 136.4h1M105.7 136.3h1M120.4 125.2h1M132.1 157.1h1M136.4 145.2h1M99.9 144.4h1M116.7 148.4h1M124.2 146.8h1M132.6 145.2h1M139.6 149.8h1M122.8 141.1h1M111.5 115.9h1M140.9 152.2h1M130.6 148.8h1M150.3 144.4h1M127.5 161.5h1M146.4 128.9h1M121.6 112.5h1M140.3 160.4h1M137.5 148.7h1M143.3 126.2h1M120.9 139.7h1M134.0 150.9h1M122.3 130.9h1M133.4 150.2h1M146.0 167.3h1M136.6 143.8h1M147.5 147.7h1M137.8 133.8h1M154.3 145.6h1M143.5 140.5h1M152.8 133.3h1M141.7 129.5h1M158.2 145.1h1M108.6 133.0h1M140.9 139.5h1M137.3 160.4h1M100.5 161.8h1M122.2 137.4h1M128.6 146.3h1M124.2 153.9h1M138.1 140.4h1M107.2 131.3h1M148.1 133.5h1M148.5 144.3h1M141.7 135.7h1M130.7 130.0h1M136.1 141.6h1M128.6 154.3h1M154.5 151.6h1M144.2 141.6h1M130.2 135.5h1M159.4 143.3h1M126.8 129.2h1M133.3 152.6h1M119.3 142.8h1M144.5 125.8h1M135.1 135.1h1M146.1 163.7h1M160.0 152.0h1M135.2 145.3h1M142.2 153.5h1M150.5 126.7h1M135.1 135.1h1M127.3 129.6h1M141.8 135.1h1M144.2 139.9h1M148.6 149.9h1M149.5 155.1h1M125.4 154.8h1M143.2 173.4h1M155.9 138.7h1M128.7 143.9h1M141.9 149.6h1M126.2 135.0h1M138.8 140.9h1M138.9 134.4h1M120.6 149.2h1M141.7 157.4h1M139.6 131.9h1M154.0 119.1h1M114.1 144.9h1M121.4 132.7h1M134.9 145.9h1M111.2 139.1h1M154.3 147.3h1M103.6 156.4h1M122.8 152.9h1M112.4 140.1h1M125.6 131.2h1M149.0 116.9h1M145.8 120.2h1M151.0 135.3h1M145.8 145.0h1M103.5 136.5h1M141.0 137.4h1M106.5 126.4h1M128.0 125.8h1M129.8 125.0h1M127.4 150.5h1M144.0 122.1h1M123.1 151.1h1M163.9 133.8h1M145.7 149.5h1M155.1 146.2h1M148.3 151.8h1M150.4 156.5h1M135.4 134.9h1M119.2 138.6h1M143.5 134.9h1M136.2 150.5h1M132.5 142.0h1M141.2 143.3h1M124.1 147.8h1M150.1 138.0h1M148.7 155.2h1M137.7 123.1h1M148.0 145.7h1M119.5 148.6h1M107.1 134.7h1M126.8 135.5h1M132.3 153.0h1M132.5 122.1h1M152.7 128.3h1M149.7 154.1h1M138.0 157.4h1M146.6 158.0h1M133.0 140.8h1M122.3 149.0h1M120.0 134.0h1M123.6 138.6h1M159.0 135.4h1M140.7 149.4h1M133.7 129.0h1M136.4 141.6h1M127.1 143.5h1M135.6 148.6h1M135.5 119.8h1M146.6 123.4h1M150.8 133.3h1M109.9 140.5h1M139.9 144.5h1M158.2 145.0h1M119.8 165.0h1M132.1 150.1h1M138.9 149.3h1M153.8 137.6h1M145.7 151.5h1M132.6 150.5h1M144.2 150.2h1M152.8 141.7h1M142.4 149.7h1M165.9 159.6h1M142.9 134.2h1M119.3 119.3h1M123.6 151.8h1M134.0 150.9h1M132.9 140.3h1M146.1 138.0h1M141.8 173.0h1M163.6 137.8h1M149.2 129.5h1M160.0 137.6h1M124.0 148.3h1M129.3 136.2h1M147.2 138.6h1M137.7 146.2h1M146.3 138.1h1M140.2 144.2h1M126.3 142.4h1M163.5 131.2h1M154.5 143.6h1M111.3 130.1h1M126.3 153.0h1M136.6 132.6h1M147.1 140.2h1M135.1 123.0h1M114.4 137.9h1M149.6 129.2h1M132.9 159.1h1M155.5 141.5h1M141.1 148.5h1M152.3 123.7h1M149.6 129.3h1M150.4 140.9h1M128.1 128.0h1M152.7 155.2h1M139.6 138.4h1M116.3 144.4h1M130.0 146.1h1M130.9 141.1h1M143.8 151.2h1M147.3 135.4h1M118.5 146.7h1M147.9 155.8h1M135.3 145.1h1M119.4 144.1h1M149.7 139.1h1M124.2 143.4h1M117.3 150.1h1M148.4 140.1h1M150.7 124.4h1M125.8 144.5h1M153.3 141.1h1M152.4 147.8h1M128.1 143.2h1M135.5 129.7h1M140.0 132.2h1M98.3 149.8h1M146.6 131.6h1M126.5 146.3h1M143.4 142.5h1M109.1 121.4h1M154.9 149.9h1M159.7 157.6h1M166.6 145.0h1M89.3 127.5h1M145.8 151.2h1M142.0 131.4h1M88.2 141.4h1M124.8 147.2h1M135.1 134.3h1M159.2 124.4h1M123.2 141.2h1M139.8 142.2h1M135.6 133.4h1M142.4 134.2h1M130.2 150.7h1M150.8 141.7h1M152.1 137.6h1M114.8 136.2h1M154.5 144.5h1M124.7 143.7h1M132.2 140.8h1M154.6 127.7h1M138.2 138.7h1M145.8 135.9h1M149.2 143.4h1M146.2 155.1h1M128.1 152.9h1M121.5 149.5h1M147.6 143.8h1M148.8 139.2h1M142.4 146.2h1M133.7 137.5h1M150.4 139.0h1M136.3 133.6h1M114.9 142.0h1M141.2 141.8h1M144.8 162.4h1M149.1 148.6h1M122.5 138.6h1M124.8 150.9h1M142.1 137.6h1M129.7 153.4h1M135.8 151.0h1M151.8 173.6h1M143.1 131.0h1M166.0 141.8h1M141.5 141.4h1M164.2 145.8h1M153.9 150.2h1M137.3 134.9h1M135.7 145.9h1M157.9 153.0h1M128.9 130.6h1M129.7 126.1h1M141.1 154.8h1M143.1 151.6h1M114.8 154.2h1M141.2 132.3h1M132.3 140.5h1M136.8 145.0h1M140.0 147.3h1M134.2 141.4h1M154.4 142.1h1M145.1 153.4h1M134.3 138.0h1M138.6 136.8h1M153.9 138.0h1M149.9 137.2h1M157.6 144.0h1M135.2 140.4h1M139.6 138.0h1M169.5 157.7h1M136.9 145.8h1M164.2 139.0h1M150.9 156.0h1M104.2 226.3h1M118.2 185.7h1M121.0 178.1h1M126.0 180.1h1M120.1 160.6h1M123.1 179.9h1M138.6 134.7h1M138.7 188.0h1M135.6 160.4h1M100.8 193.7h1M119.4 187.8h1M101.9 201.8h1M126.7 125.8h1M131.0 137.5h1M125.6 176.5h1M118.1 181.2h1M132.1 174.5h1M109.5 201.2h1M104.1 131.5h1M111.9 190.2h1M128.8 155.0h1M100.8 224.3h1M131.0 132.0h1M123.8 146.3h1M143.1 177.4h1M105.9 202.8h1M107.0 224.0h1M136.5 226.2h1M111.8 221.5h1M134.7 205.9h1M138.4 171.8h1M113.5 154.6h1M107.3 214.7h1M100.7 202.8h1M142.4 198.9h1M162.9 220.3h1M104.2 181.8h1M100.1 151.6h1M105.7 126.2h1M105.3 150.0h1M104.9 193.3h1M108.5 163.4h1M100.9 145.5h1M125.7 138.8h1M146.0 128.6h1M114.8 193.4h1M101.9 206.3h1M102.9 141.2h1M127.4 146.4h1M119.1 225.5h1M139.7 155.2h1M114.1 181.2h1M108.4 208.6h1M104.1 191.5h1M107.7 129.1h1M143.5 180.4h1M121.4 180.9h1M138.4 136.6h1M108.6 225.2h1M107.3 177.0h1M135.4 204.7h1M164.6 151.3h1M104.5 127.7h1M143.7 189.0h1M144.5 219.7h1M110.3 217.5h1M100.8 216.3h1M106.7 216.9h1M101.7 132.9h1M103.5 210.8h1M114.5 134.7h1M102.3 206.2h1M101.3 207.7h1M128.9 219.3h1M126.2 214.1h1M152.4 199.6h1M116.1 137.1h1M103.4 133.3h1M111.6 213.8h1M142.2 134.7h1M100.0 174.0h1M105.8 208.3h1M105.6 179.3h1M103.3 216.2h1M111.7 220.3h1M160.5 142.8h1M106.5 210.3h1M120.6 127.4h1M116.7 156.5h1M112.0 217.5h1M141.1 144.1h1M128.2 142.2h1M118.0 224.5h1M106.1 170.0h1M119.7 219.9h1M163.9 154.2h1M115.2 220.2h1M105.9 158.2h1M123.8 222.8h1M129.8 195.0h1M138.3 211.8h1M113.6 158.3h1M103.4 199.1h1M114.1 209.8h1M145.7 195.6h1M131.5 219.2h1M133.5 184.0h1M113.9 223.0h1M119.2 199.2h1M106.0 219.7h1M136.4 139.9h1M103.7 140.7h1M121.6 127.5h1M110.3 193.1h1M108.9 226.0h1M116.5 190.4h1M111.0 226.3h1M121.0 210.5h1M109.9 189.4h1M155.5 145.6h1M102.5 224.6h1M148.3 222.9h1M108.0 218.5h1M151.4 159.7h1M120.1 202.9h1M114.1 180.7h1M108.4 210.6h1M103.8 184.0h1M151.5 126.2h1M122.2 153.9h1M114.7 153.1h1M112.1 159.2h1M146.3 160.8h1M120.5 178.2h1M116.3 222.8h1M114.9 189.1h1M128.7 147.2h1M128.1 226.0h1M110.4 216.8h1M108.1 137.2h1M104.6 198.2h1M101.0 159.2h1M140.8 207.9h1M148.0 164.0h1M102.4 150.6h1M104.9 225.7h1M102.4 213.9h1M136.3 175.0h1M156.8 183.9h1M111.6 193.5h1M150.7 169.5h1M113.0 167.5h1M102.5 152.6h1M127.3 190.0h1M133.2 154.7h1M104.6 168.4h1M106.0 155.0h1M123.1 220.0h1M163.3 179.0h1M101.3 137.6h1M117.2 205.2h1M101.7 222.5h1M118.9 148.4h1M101.2 184.3h1M146.3 175.6h1M101.9 170.6h1M105.0 197.6h1M113.6 208.6h1M102.2 210.2h1M103.2 148.0h1M124.3 187.7h1M105.7 141.2h1M116.5 144.4h1M156.0 161.0h1M132.8 184.5h1M119.1 176.2h1M143.5 129.9h1M104.2 176.1h1M107.6 142.6h1M111.7 214.8h1M109.1 192.4h1M107.7 150.7h1M135.7 205.3h1M150.7 213.8h1M113.5 140.4h1M124.7 193.6h1M101.8 167.6h1M119.9 170.8h1M121.9 144.2h1M141.7 138.0h1M132.3 226.3h1M104.1 172.5h1M113.8 142.2h1M106.8 173.3h1M103.9 172.5h1M103.0 141.2h1M148.7 202.0h1M106.4 190.1h1M149.6 200.0h1M123.4 212.3h1M132.7 198.3h1M141.6 145.2h1M104.2 165.6h1M110.8 175.0h1M100.3 173.7h1M153.1 135.1h1M108.9 165.8h1M121.4 207.1h1M129.1 178.0h1M157.7 194.3h1M109.3 197.1h1M112.7 126.3h1M114.5 164.7h1M101.2 202.7h1M135.7 163.1h1M110.6 225.8h1M110.4 178.3h1M121.0 146.7h1M100.3 175.0h1M114.0 221.3h1M106.4 134.3h1M103.2 178.2h1M102.0 168.3h1M108.0 165.5h1M131.9 170.1h1M158.1 187.6h1M104.2 221.1h1M121.4 130.3h1M119.6 140.1h1M100.3 196.4h1M110.7 181.2h1M131.0 200.1h1M144.5 212.9h1M126.1 210.4h1M162.3 158.3h1M127.1 147.5h1M126.7 189.5h1M102.1 130.7h1M100.5 186.8h1M133.1 189.5h1M112.4 175.4h1M152.5 213.8h1M124.8 221.9h1M104.3 212.6h1M143.9 128.8h1M145.2 199.9h1M110.0 139.8h1M112.4 168.0h1M101.0 187.1h1M157.6 188.2h1M145.0 146.0h1M113.9 126.2h1M109.0 131.6h1M103.1 150.1h1M117.9 157.5h1M123.8 146.5h1M125.6 160.5h1M105.6 135.6h1M108.9 165.9h1M111.9 159.8h1M110.3 156.2h1M107.0 164.6h1M120.6 214.7h1M101.9 138.3h1M151.3 135.3h1M137.5 183.5h1M147.4 134.1h1M125.4 209.4h1M133.2 163.7h1M143.7 163.2h1M103.3 131.6h1M125.9 142.9h1M152.7 143.9h1M107.7 190.3h1M109.7 204.3h1M100.9 222.1h1M163.0 149.3h1M146.8 219.8h1M105.2 127.1h1M146.4 186.2h1M108.0 189.1h1M120.7 203.9h1M113.4 143.9h1M110.5 160.6h1M103.6 220.8h1M114.6 145.5h1M108.0 155.8h1M106.1 185.0h1M102.7 159.4h1M102.9 142.9h1M102.7 137.8h1M115.1 151.5h1M112.0 202.3h1M106.6 132.4h1M102.6 169.6h1M102.6 185.8h1M125.5 201.4h1M121.8 191.0h1M123.9 168.9h1M107.1 142.2h1M107.9 168.1h1M149.6 173.3h1M128.9 157.9h1M152.9 140.0h1M118.9 217.0h1M154.2 145.1h1M137.5 164.3h1M113.8 173.0h1M107.1 142.2h1M132.0 206.3h1M107.2 141.7h1M156.2 127.7h1M115.0 127.5h1M118.2 178.8h1M142.7 180.7h1M141.2 172.7h1M106.8 220.4h1M161.5 203.0h1M100.3 210.8h1M108.7 206.0h1M115.9 210.3h1M151.0 208.9h1M103.6 217.5h1M104.5 203.7h1M109.7 143.9h1M121.0 178.4h1M121.2 198.1h1M103.0 177.9h1M125.6 177.8h1M103.9 158.4h1M110.9 142.8h1M116.2 218.8h1M101.2 162.9h1M109.6 127.6h1M110.7 162.3h1M127.0 127.0h1M107.1 144.7h1M101.2 128.6h1M120.6 152.1h1M111.6 226.2h1M161.8 151.9h1M110.6 161.8h1M161.7 151.8h1M100.8 210.3h1M114.7 166.4h1M154.0 137.6h1M106.5 209.0h1M118.8 141.3h1M129.3 163.4h1M127.8 146.0h1M111.9 218.5h1M104.7 154.1h1M127.7 194.9h1M111.4 152.4h1M106.2 184.2h1M116.1 199.7h1M102.4 169.8h1M102.9 160.8h1M114.3 161.3h1M125.3 183.1h1M116.7 167.5h1M107.5 191.5h1M121.5 201.6h1M122.3 200.2h1M132.4 193.3h1M103.5 139.7h1M100.5 195.1h1M123.4 147.4h1M103.5 213.2h1M133.9 218.3h1M102.9 153.7h1M113.4 224.2h1M121.4 190.8h1M100.4 201.2h1M120.5 200.6h1M101.0 194.3h1M115.6 139.3h1M100.7 186.2h1M126.5 226.5h1M113.7 210.8h1M134.7 218.7h1M119.9 171.2h1M132.8 213.3h1M105.6 152.6h1M100.1 140.2h1M150.9 209.3h1M104.3 197.6h1M125.4 157.2h1M155.8 176.3h1M103.0 205.1h1M122.3 200.9h1M140.2 140.5h1M124.3 201.8h1M122.4 194.3h1M111.7 154.4h1M122.4 224.6h1M121.1 176.4h1M126.5 191.4h1M127.7 180.9h1M129.5 194.2h1M159.2 185.5h1M100.9 212.3h1M102.1 195.0h1M134.0 140.2h1M113.2 130.8h1M109.3 218.8h1M137.4 203.5h1M116.0 138.1h1M109.9 215.4h1M101.0 193.8h1M146.3 188.1h1M134.5 203.3h1M143.7 221.5h1M135.6 156.4h1M104.2 130.8h1M107.0 195.5h1M100.3 157.4h1M100.9 199.8h1M131.6 196.1h1M115.8 195.2h1M127.1 209.5h1M100.0 141.4h1M117.5 143.8h1M133.1 179.1h1M105.1 142.4h1M136.4 177.4h1M153.5 152.8h1M144.3 212.1h1M117.3 207.0h1M100.0 215.3h1M103.9 150.5h1M131.2 180.2h1M115.1 189.0h1M122.0 130.2h1M109.2 150.9h1M107.4 210.7h1M102.9 151.7h1M102.3 219.2h1M100.4 173.9h1M161.5 177.0h1M122.3 137.8h1M140.1 213.7h1M108.0 167.5h1M125.1 148.1h1M142.7 142.6h1M102.2 142.2h1M124.8 205.7h1M118.7 163.1h1M111.4 186.6h1M129.0 161.1h1M105.1 221.3h1M100.2 178.5h1M108.4 173.3h1M113.7 223.2h1M104.1 209.7h1M111.7 227.0h1M122.1 204.8h1M125.6 148.8h1M130.8 173.0h1M101.8 207.2h1M107.2 149.0h1M153.8 138.4h1M106.8 171.1h1M142.1 182.8h1M101.0 143.2h1M115.3 187.2h1M124.5 140.4h1M131.2 176.5h1M129.7 197.0h1M108.9 200.9h1M123.9 170.0h1M115.8 142.9h1M122.2 226.6h1M125.1 181.5h1M101.4 175.7h1M109.5 129.0h1M110.2 206.8h1M101.2 199.8h1M107.2 172.5h1M112.2 173.2h1M134.0 210.6h1M105.1 222.0h1M118.4 186.7h1M130.6 191.5h1M119.7 212.2h1M107.4 160.2h1M130.5 143.3h1M116.7 189.1h1M103.0 160.4h1M163.2 212.5h1M107.8 203.4h1M100.1 128.4h1M117.0 198.2h1M113.6 219.3h1M110.0 198.7h1M110.9 149.6h1M135.7 140.7h1M106.0 225.2h1M136.1 214.4h1M138.9 169.1h1M107.0 167.8h1M104.2 192.0h1M111.8 152.4h1M152.5 175.5h1M150.1 226.7h1M101.3 171.7h1M100.1 127.2h1M107.9 135.9h1M124.8 140.9h1M100.5 192.9h1M110.1 163.2h1M107.2 193.6h1M169.3 154.8h1M116.4 207.4h1M107.5 176.7h1M120.0 222.3h1M152.7 174.8h1M159.7 226.2h1M113.1 158.6h1M100.4 173.8h1M128.3 128.3h1M119.0 157.3h1M109.1 132.4h1M102.4 137.0h1M119.0 137.4h1M128.9 163.6h1M103.5 182.8h1M132.8 183.9h1M112.8 191.2h1M145.0 144.5h1M111.7 155.1h1M102.2 138.2h1M132.9 219.2h1M126.3 141.3h1M125.0 190.7h1M117.1 176.5h1M131.1 132.7h1M109.6 211.4h1M107.1 177.7h1M154.3 183.3h1M134.5 203.0h1M146.1 156.8h1M103.6 165.3h1M141.1 139.9h1M133.6 216.3h1M119.1 164.7h1M113.3 213.3h1M101.6 213.6h1M104.7 167.2h1M143.8 187.0h1M165.5 149.7h1M131.8 175.0h1M137.5 157.8h1M114.1 221.7h1M124.3 194.6h1M136.2 218.4h1M132.2 150.9h1M121.1 146.5h1M137.4 125.2h1M105.5 186.0h1M129.0 155.6h1M102.4 153.6h1M118.1 171.9h1M107.8 184.1h1M123.8 203.1h1M110.0 217.1h1M133.1 145.2h1M122.9 176.3h1M107.6 220.6h1M152.3 158.1h1M120.7 182.7h1M102.6 171.3h1M107.2 202.9h1M133.1 200.7h1M111.5 166.5h1M106.5 152.6h1M122.8 190.5h1M132.4 222.2h1M103.4 166.8h1M102.2 177.0h1M122.7 150.7h1M126.0 217.3h1M106.3 216.8h1M151.8 208.8h1M108.9 225.2h1M106.6 224.1h1M116.1 216.8h1M108.6 226.0h1M119.0 216.7h1M119.8 226.8h1M107.2 220.5h1M106.0 221.0h1M161.9 214.5h1M112.3 208.4h1M105.4 205.7h1M100.6 226.5h1M104.7 226.2h1M104.4 211.4h1M101.6 217.8h1M144.4 215.9h1M105.8 195.7h1M128.7 224.9h1M110.5 215.7h1M159.7 170.9h1M107.3 225.0h1M109.2 210.8h1M138.6 223.1h1M114.2 223.4h1M136.7 221.1h1M133.0 201.5h1M103.7 209.8h1M116.4 205.9h1M128.9 208.6h1M119.3 221.9h1M107.3 145.8h1M110.4 193.8h1M106.3 205.2h1M130.5 175.8h1M113.6 145.8h1M142.3 172.7h1M106.7 221.6h1M112.2 209.0h1M127.8 168.6h1M155.9 224.4h1M105.0 215.6h1M100.6 223.8h1M104.3 208.0h1M105.7 204.6h1M112.8 222.2h1M104.6 222.9h1M101.0 214.6h1M106.1 226.7h1M146.3 208.8h1M134.5 226.1h1M105.5 175.0h1M152.5 221.9h1M102.6 213.4h1M102.2 210.2h1M123.5 203.2h1M118.8 223.6h1M135.3 209.8h1M125.5 182.3h1M114.8 213.5h1M117.7 199.4h1M107.4 216.0h1M110.2 226.8h1M164.2 218.8h1M130.8 218.7h1M111.4 108.9h1M106.1 224.0h1M125.1 219.7h1M112.3 200.9h1M139.6 204.5h1M146.7 226.7h1M145.9 196.5h1M122.7 200.3h1M114.9 215.7h1M123.5 176.0h1M116.0 217.6h1M122.1 159.3h1M128.4 224.7h1M167.7 203.0h1M121.8 214.8h1M136.5 226.6h1M101.2 219.5h1M150.0 216.5h1M106.6 170.8h1M137.3 206.9h1M117.3 192.1h1M126.4 194.8h1M132.6 218.4h1M127.1 212.5h1M111.6 219.7h1M143.0 219.6h1M121.3 222.8h1M113.2 225.1h1M105.3 128.0h1M113.6 173.9h1M106.1 224.5h1M113.9 225.3h1M131.6 206.6h1M117.5 163.6h1M146.8 191.8h1M118.6 215.0h1M108.4 221.4h1M105.7 190.4h1M107.7 225.8h1M134.1 206.9h1M107.4 216.0h1M124.6 216.5h1M105.1 211.5h1M104.7 218.5h1M127.3 207.9h1M114.0 216.9h1M122.6 219.3h1M110.6 199.3h1M113.8 205.3h1M102.0 214.0h1M122.6 210.1h1M122.3 208.1h1M104.2 192.9h1M112.9 218.0h1M168.4 226.7h1M100.0 222.8h1M104.8 197.7h1M149.1 208.5h1M103.5 207.7h1M109.7 220.8h1M151.7 216.0h1M109.6 211.2h1M130.3 206.7h1M103.4 214.5h1M107.2 190.8h1M133.0 182.8h1M127.6 220.6h1M115.0 173.2h1M119.1 169.1h1M109.1 202.9h1M138.7 221.2h1M138.0 225.4h1M108.2 171.9h1M115.6 165.4h1M119.1 216.5h1M103.1 196.7h1M137.8 207.4h1M104.5 130.8h1M106.5 217.8h1M101.0 222.6h1M106.0 200.8h1M103.7 220.4h1M109.8 215.8h1M101.6 199.9h1M123.5 221.8h1M119.9 221.6h1M104.8 216.1h1M134.8 217.1h1M124.0 224.8h1M111.5 225.8h1M103.2 209.2h1M124.6 225.9h1M102.8 190.4h1M106.5 223.6h1M146.1 218.4h1M105.7 221.7h1M119.6 222.4h1M115.9 193.7h1M112.0 224.4h1M100.3 224.9h1M100.5 187.9h1M136.4 168.6h1M103.9 208.7h1M121.5 219.5h1M119.3 209.8h1M114.6 199.2h1M126.1 226.3h1M141.9 226.7h1M116.9 180.0h1M105.6 224.8h1M109.7 150.2h1M121.6 221.8h1M141.2 217.6h1M120.9 212.9h1M124.4 181.9h1M120.5 196.6h1M105.4 205.7h1M103.8 224.5h1M121.7 219.6h1M100.9 209.9h1M158.0 191.8h1M111.3 174.8h1M109.8 205.3h1M148.7 208.7h1M119.1 215.4h1M119.6 222.2h1M144.7 225.9h1M107.9 226.5h1M116.3 172.0h1M122.1 199.1h1M121.2 196.3h1M113.0 224.4h1M156.1 194.4h1M121.9 220.3h1M118.8 217.8h1M111.9 190.9h1M107.8 217.2h1M104.7 214.7h1M114.8 220.5h1M101.8 162.1h1M106.0 127.7h1M118.8 143.4h1M161.4 213.6h1M142.2 209.5h1M135.6 211.2h1M130.3 205.5h1M122.4 222.4h1M172.1 218.4h1M100.6 216.5h1M125.7 194.9h1M104.0 192.4h1M102.1 204.9h1M130.3 220.9h1M108.5 221.1h1M121.6 224.4h1M125.9 221.9h1M100.2 226.5h1M119.5 216.9h1M100.8 215.7h1M114.7 226.9h1M108.8 226.9h1M110.6 215.6h1M127.8 183.5h1M141.7 221.6h1M123.8 157.1h1M110.2 218.1h1M137.1 224.7h1M104.7 188.9h1M122.4 218.9h1M140.7 195.0h1M116.2 223.7h1M111.5 226.9h1M100.3 197.4h1M123.8 226.5h1M101.6 220.8h1M116.1 224.4h1M119.2 224.2h1M115.8 221.9h1M117.1 196.5h1M107.8 222.8h1M135.8 205.8h1M117.7 219.1h1M107.9 214.5h1M105.5 225.1h1M116.5 221.2h1M118.1 201.9h1M100.6 183.9h1M115.7 215.1h1M105.9 194.6h1M116.7 220.5h1M105.3 220.1h1M101.4 206.2h1M122.0 188.4h1M102.2 210.0h1M105.1 216.3h1M130.1 223.7h1M113.9 226.1h1M127.4 205.1h1M108.5 204.0h1M100.6 198.7h1M101.3 220.5h1M108.2 220.3h1M107.8 200.2h1M121.2 203.5h1M106.3 203.9h1M100.0 203.6h1M115.5 217.0h1M149.0 200.4h1M129.7 194.3h1M133.5 213.1h1M107.1 221.0h1M87.2 111.1h1M87.2 110.3h1M81.8 120.7h1M89.5 128.2h1M84.8 123.0h1M99.8 118.0h1M96.8 119.5h1M90.0 113.0h1M86.2 112.1h1M65.3 108.1h1M85.8 123.6h1M93.8 113.0h1M96.9 110.8h1M63.6 111.3h1M69.7 116.2h1M92.5 111.8h1M81.9 115.1h1M89.1 116.0h1M86.8 123.0h1M96.3 107.7h1M74.5 116.8h1M86.0 110.9h1M99.4 112.5h1M92.9 124.6h1M83.7 118.8h1M95.1 112.7h1M93.6 118.0h1M83.1 114.9h1M97.2 121.6h1M97.1 112.2h1M89.9 117.9h1M99.4 113.8h1M80.6 115.1h1M97.9 114.1h1M89.3 111.4h1M82.7 115.7h1M85.7 120.9h1M101.4 111.5h1M86.1 112.8h1M88.0 117.2h1M95.5 73.0h1M120.0 105.0h1M146.0 101.0h1M172.5 172.0h1M175.0 148.0h1M171.0 205.0h1" stroke="#000" stroke-width="1" stroke-opacity="0.8" fill="none" transform="translate(0,0.5)"/>
<path d="M53.8 33.1V227.4H248.5" fill="none" stroke="#111" stroke-width="1.15"/>
<path d="M53.80 227.40h-4.3M53.80 212.81h-2.0M53.80 204.27h-2.0M53.80 198.22h-2.0M53.80 193.52h-2.0M53.80 189.68h-2.0M53.80 186.43h-2.0M53.80 183.62h-2.0M53.80 181.14h-2.0M53.80 178.93h-4.3M53.80 164.33h-2.0M53.80 155.80h-2.0M53.80 149.74h-2.0M53.80 145.04h-2.0M53.80 141.20h-2.0M53.80 137.96h-2.0M53.80 135.15h-2.0M53.80 132.67h-2.0M53.80 130.45h-4.3M53.80 115.86h-2.0M53.80 107.32h-2.0M53.80 101.27h-2.0M53.80 96.57h-2.0M53.80 92.73h-2.0M53.80 89.48h-2.0M53.80 86.67h-2.0M53.80 84.19h-2.0M53.80 81.97h-4.3M53.80 67.38h-2.0M53.80 58.85h-2.0M53.80 52.79h-2.0M53.80 48.09h-2.0M53.80 44.25h-2.0M53.80 41.01h-2.0M53.80 38.20h-2.0M53.80 35.72h-2.0M53.80 33.50h-4.3M53.80 227.40v4.3M68.38 227.40v2.0M76.90 227.40v2.0M82.95 227.40v2.0M87.65 227.40v2.0M91.48 227.40v2.0M94.72 227.40v2.0M97.53 227.40v2.0M100.01 227.40v2.0M102.22 227.40v4.3M116.80 227.40v2.0M125.33 227.40v2.0M131.38 227.40v2.0M136.07 227.40v2.0M139.91 227.40v2.0M143.15 227.40v2.0M145.96 227.40v2.0M148.43 227.40v2.0M150.65 227.40v4.3M165.23 227.40v2.0M173.75 227.40v2.0M179.80 227.40v2.0M184.50 227.40v2.0M188.33 227.40v2.0M191.57 227.40v2.0M194.38 227.40v2.0M196.86 227.40v2.0M199.07 227.40v4.3M213.65 227.40v2.0M222.18 227.40v2.0M228.23 227.40v2.0M232.92 227.40v2.0M236.76 227.40v2.0M240.00 227.40v2.0M242.81 227.40v2.0M245.28 227.40v2.0M247.50 227.40v4.3" stroke="#111" stroke-width="0.9" fill="none"/>
<text transform="translate(46.05,232.05) scale(1.0626,1)" text-anchor="end" font-family='"DejaVu Sans", "Liberation Sans", sans-serif' font-size="8.58" fill="#222">1</text>
<text transform="translate(53.70,245.00) scale(1.0626,1)" text-anchor="middle" font-family='"DejaVu Sans", "Liberation Sans", sans-serif' font-size="8.58" fill="#222">1</text>
<text transform="translate(46.05,183.58) scale(1.0626,1)" text-anchor="end" font-family='"DejaVu Sans", "Liberation Sans", sans-serif' font-size="8.58" fill="#222">10</text>
<text transform="translate(102.12,245.00) scale(1.0626,1)" text-anchor="middle" font-family='"DejaVu Sans", "Liberation Sans", sans-serif' font-size="8.58" fill="#222">10</text>
<text transform="translate(46.05,135.10) scale(1.0626,1)" text-anchor="end" font-family='"DejaVu Sans", "Liberation Sans", sans-serif' font-size="8.58" fill="#222">100</text>
<text transform="translate(150.55,245.00) scale(1.0626,1)" text-anchor="middle" font-family='"DejaVu Sans", "Liberation Sans", sans-serif' font-size="8.58" fill="#222">100</text>
<text transform="translate(46.05,86.62) scale(1.0626,1)" text-anchor="end" font-family='"DejaVu Sans", "Liberation Sans", sans-serif' font-size="8.58" fill="#222">1000</text>
<text transform="translate(198.97,245.00) scale(1.0626,1)" text-anchor="middle" font-family='"DejaVu Sans", "Liberation Sans", sans-serif' font-size="8.58" fill="#222">1000</text>
<text transform="translate(46.05,38.15) scale(1.0626,1)" text-anchor="end" font-family='"DejaVu Sans", "Liberation Sans", sans-serif' font-size="8.58" fill="#222">10000</text>
<text transform="translate(247.40,245.00) scale(1.0626,1)" text-anchor="middle" font-family='"DejaVu Sans", "Liberation Sans", sans-serif' font-size="8.58" fill="#222">10000</text>
<text transform="translate(18.27,186.29) rotate(-90) scale(1.0436,1)" font-family='"Liberation Serif", serif' font-size="22.70" fill="#111" stroke="#000" stroke-width="0.35">c-kit PE</text>
<text transform="translate(93.48,269.74) scale(0.9264,1)" font-family='"Liberation Serif", serif' font-size="25.87" fill="#111" stroke="#000" stroke-width="0.35">Sca-1 FITC</text>
<rect x="117.0" y="120.0" width="53.3" height="43.9" fill="none" stroke="#111" stroke-width="2.3"/>
<path d="M170.5 144.7H247" stroke="#111" stroke-width="2.1" fill="none"/>
<path d="M245 137.6V151.4L259.4 144.5Z" fill="#111"/>
<path d="M314.0 29.5H513.5V228.8" fill="none" stroke="#222" stroke-width="0.9"/>
<path d="M439.8 49.3h1M457.8 41.1h1M448.0 44.5h1M430.7 50.6h1M461.9 39.5h1M441.6 42.9h1M442.4 49.6h1M451.3 49.6h1M438.0 50.6h1M459.9 40.7h1M466.1 40.6h1M465.6 39.9h1M449.3 44.0h1M457.3 43.6h1M442.2 46.0h1M452.5 44.1h1M448.2 33.8h1M448.4 45.7h1M441.8 44.3h1M462.5 41.1h1M454.8 43.4h1M438.3 46.2h1M441.4 49.2h1M438.0 55.2h1M450.9 36.7h1M449.4 40.2h1M462.5 44.2h1M439.4 52.0h1M440.2 45.8h1M453.0 42.1h1M439.9 47.0h1M444.5 49.9h1M464.8 40.9h1M438.5 47.9h1M448.4 45.0h1M444.3 51.7h1M448.5 47.0h1M448.7 42.5h1M461.5 40.1h1M431.4 49.8h1M438.8 51.9h1M464.1 45.2h1M457.9 46.2h1M437.3 49.9h1M449.9 42.1h1M463.6 40.2h1M444.1 49.5h1M448.5 41.7h1M459.1 42.9h1M441.7 48.3h1M457.0 43.1h1M440.7 41.6h1M452.9 46.2h1M452.3 42.5h1M437.8 48.7h1M455.7 42.6h1M457.9 42.2h1M444.7 49.1h1M438.8 54.3h1M447.7 47.5h1M446.6 51.1h1M445.8 44.3h1M463.2 43.6h1M439.4 45.6h1M451.9 47.2h1M460.1 41.7h1M460.7 44.0h1M457.0 42.0h1M440.3 50.5h1M440.2 50.7h1M446.0 42.8h1M461.9 41.1h1M439.6 43.6h1M435.3 53.8h1M465.2 41.4h1M452.5 44.8h1M454.3 46.1h1M464.9 42.1h1M435.8 52.0h1M446.9 38.4h1M461.4 42.1h1M444.5 48.0h1M461.6 43.2h1M454.3 41.6h1M444.3 40.9h1M460.8 41.5h1M440.3 51.4h1M461.7 40.3h1M465.5 43.5h1M449.6 42.8h1M455.7 38.6h1M444.7 50.8h1M434.7 57.5h1M447.3 46.9h1M442.3 43.0h1M450.6 43.8h1M439.7 46.1h1M454.0 48.4h1M453.5 45.3h1M441.3 40.7h1M434.0 53.9h1M447.1 44.5h1M465.2 39.8h1M465.8 40.5h1M468.0 41.3h1M445.1 51.2h1M462.9 40.8h1M432.1 48.9h1M433.2 56.5h1M438.1 48.8h1M433.6 51.9h1M437.5 50.2h1M446.0 46.9h1M459.6 42.0h1M457.9 41.7h1M446.0 48.1h1M436.2 55.8h1M457.0 39.3h1M452.6 40.3h1M459.3 40.4h1M448.7 43.0h1M439.5 46.9h1M440.7 46.7h1M445.2 44.4h1M441.6 49.0h1M465.0 39.4h1M433.9 44.9h1M455.3 43.3h1M449.8 49.9h1M449.4 45.9h1M449.7 42.6h1M443.7 48.7h1M455.4 41.8h1M452.6 39.9h1M451.0 43.1h1M450.1 47.5h1M455.4 44.3h1M454.9 43.4h1M444.6 47.6h1M439.5 52.0h1M444.1 54.5h1M446.0 44.2h1M453.8 42.4h1M447.1 49.3h1M457.0 42.3h1M455.3 40.3h1M453.8 41.9h1M450.2 47.9h1M466.7 42.1h1M436.6 57.5h1M450.7 46.6h1M448.5 46.9h1M464.1 43.2h1M447.9 44.3h1M443.7 49.0h1M458.1 42.1h1M445.6 44.2h1M434.9 51.2h1M444.0 46.6h1M446.9 40.5h1M443.5 42.4h1M455.9 44.8h1M433.1 49.1h1M463.3 41.6h1M447.8 49.1h1M444.0 42.4h1M455.2 42.1h1M461.2 44.4h1M461.1 40.2h1M453.0 47.4h1M474.0 45.4h1M479.9 46.1h1M477.8 46.7h1M474.1 50.1h1M476.8 42.6h1M483.2 40.7h1M470.8 39.7h1M468.9 41.0h1M482.5 46.7h1M473.0 47.6h1M474.7 41.9h1M474.6 40.8h1M472.8 47.8h1M462.5 46.5h1M475.3 41.9h1M472.5 47.3h1M465.9 42.3h1M471.8 42.3h1M477.8 44.9h1M488.9 44.2h1M472.0 37.6h1M486.0 41.5h1M472.6 41.4h1M479.5 46.8h1M474.1 46.1h1M481.6 49.4h1M477.1 42.1h1M473.1 44.3h1M464.5 37.1h1M483.4 42.6h1M464.8 46.8h1M471.5 43.6h1M489.2 54.9h1M477.8 48.0h1M476.7 43.3h1M477.0 42.4h1M477.9 37.3h1M473.5 49.6h1M478.6 49.3h1M474.8 58.7h1M473.6 52.6h1M479.6 47.0h1M480.8 41.8h1M478.7 38.6h1M483.1 44.9h1M490.0 47.6h1M488.9 41.8h1M476.8 47.8h1M467.9 47.2h1M484.6 42.8h1M477.0 44.2h1M481.9 40.6h1M473.5 48.4h1M482.5 42.7h1M467.9 38.9h1M477.4 37.5h1M466.1 39.0h1M491.2 41.1h1M474.3 48.8h1M460.6 44.4h1M485.7 42.0h1M483.4 42.9h1M486.4 46.7h1M467.9 43.8h1M479.0 41.4h1M486.0 52.2h1M474.9 47.2h1M479.1 53.5h1M474.7 33.8h1M474.0 38.3h1M486.5 49.8h1M470.5 44.7h1M476.6 43.9h1M480.6 41.3h1M476.6 47.0h1M482.5 44.2h1M461.6 47.5h1M484.8 51.0h1M467.5 46.9h1M474.7 37.4h1M473.8 45.8h1M479.8 52.6h1M474.9 52.0h1M473.2 49.3h1M481.4 50.5h1M491.6 45.0h1M471.8 49.9h1M471.4 51.5h1M472.0 45.9h1M467.3 45.3h1M467.3 42.7h1M472.8 45.1h1M481.6 44.9h1M472.5 46.2h1M470.2 43.2h1M475.5 38.9h1M470.4 41.4h1M496.3 50.6h1M487.6 48.1h1M476.5 50.8h1M463.8 46.4h1M472.1 49.3h1M469.5 43.5h1M469.7 48.0h1M460.2 39.1h1M472.4 41.6h1M471.8 47.7h1M471.2 45.0h1M466.7 40.0h1M478.9 49.3h1M469.9 49.5h1M459.5 44.8h1M468.6 48.7h1M482.1 49.8h1M485.0 50.4h1M467.8 40.2h1M474.9 37.4h1M480.2 44.4h1M482.9 33.5h1M472.7 42.1h1M478.2 41.0h1M472.9 44.8h1M462.8 39.5h1M482.8 46.3h1M475.6 41.3h1M479.1 44.6h1M474.5 50.6h1M469.6 39.6h1M472.4 37.4h1M478.5 51.0h1M466.7 46.2h1M487.4 47.0h1M492.8 46.6h1M459.3 42.9h1M482.8 44.8h1M472.8 48.1h1M480.5 44.6h1M477.4 42.7h1M474.7 46.9h1M482.7 43.1h1M476.8 47.3h1M487.0 42.4h1M478.5 43.3h1M465.5 43.6h1M474.9 41.9h1M476.1 48.9h1M471.9 43.8h1M467.1 44.0h1M490.5 40.0h1M475.6 47.1h1M475.9 45.3h1M464.2 34.8h1M480.2 46.7h1M475.3 46.1h1M484.2 43.7h1M488.6 43.1h1M471.4 38.5h1M470.8 44.0h1M484.7 46.8h1M484.1 45.7h1M478.5 53.4h1M481.5 45.9h1M473.9 45.1h1M476.0 38.6h1M476.2 46.2h1M460.5 45.6h1M481.6 42.5h1M481.9 54.4h1M469.4 41.4h1M472.2 44.7h1M478.4 43.9h1M481.5 44.4h1M476.3 33.6h1M472.8 47.7h1M479.3 36.9h1M477.1 50.0h1M468.9 39.1h1M473.8 42.4h1M473.5 54.3h1M481.1 42.1h1M466.6 42.2h1M470.3 38.8h1M473.3 43.6h1M476.4 46.6h1M493.6 54.5h1M474.9 34.3h1M483.9 46.2h1M481.9 48.4h1M485.6 50.3h1M488.8 44.4h1M480.4 46.1h1M469.1 50.9h1M473.6 45.9h1M487.2 55.5h1M491.9 43.3h1M485.5 44.0h1M493.8 48.5h1M481.2 41.9h1M470.1 46.3h1M476.9 40.7h1M478.3 46.7h1M483.0 40.3h1M482.5 42.8h1M469.8 44.7h1M484.8 49.0h1M472.1 40.3h1M478.2 39.4h1M481.0 48.1h1M481.3 42.0h1M480.0 47.3h1M472.2 49.3h1M475.2 47.3h1M483.0 40.3h1M472.8 49.2h1M467.6 47.7h1M457.5 39.0h1M476.3 43.3h1M469.5 49.3h1M476.2 46.2h1M468.3 45.1h1M472.9 48.7h1M473.4 46.6h1M483.1 57.5h1M469.7 49.2h1M467.4 43.9h1M476.9 45.7h1M482.2 45.0h1M469.4 48.5h1M479.9 41.0h1M476.2 48.6h1M479.8 43.4h1M462.4 35.0h1M476.8 49.1h1M474.2 46.4h1M477.6 46.5h1M471.1 42.8h1M475.2 44.8h1M460.0 39.4h1M475.9 50.3h1M486.1 52.4h1M478.6 49.6h1M479.3 43.8h1M482.3 49.7h1M489.2 46.6h1M481.7 52.6h1M474.1 40.5h1M476.6 41.4h1M482.3 54.8h1M477.6 51.9h1M474.9 51.8h1M492.9 54.0h1M483.9 56.2h1M489.4 53.0h1M469.5 53.5h1M488.5 44.3h1M479.6 52.0h1M476.5 43.0h1M471.7 38.9h1M472.2 46.0h1M474.1 52.2h1M480.6 48.8h1M478.4 60.6h1M501.5 56.0h1M484.6 52.1h1M482.0 49.6h1M478.3 39.1h1M470.5 47.7h1M470.4 47.5h1M483.3 61.0h1M462.5 40.9h1M497.3 49.9h1M496.7 45.7h1M463.0 47.4h1M492.8 38.3h1M491.6 52.1h1M491.9 50.2h1M486.9 50.7h1M497.6 68.9h1M470.5 46.8h1M474.3 51.2h1M486.1 49.2h1M480.0 56.1h1M463.6 61.9h1M488.5 61.3h1M490.8 52.2h1M477.1 39.4h1M483.6 52.0h1M490.0 38.4h1M456.1 39.4h1M473.3 43.6h1M469.8 39.6h1M477.8 48.3h1M465.7 44.2h1M465.4 41.6h1M481.8 51.4h1M499.6 46.0h1M465.8 55.6h1M497.2 55.1h1M490.0 46.8h1M490.5 52.9h1M494.0 45.6h1M474.8 43.5h1M491.9 57.1h1M462.8 35.3h1M470.6 50.5h1M483.1 62.2h1M488.0 34.1h1M464.3 63.1h1M458.4 32.4h1M484.0 33.4h1M482.7 34.2h1M487.2 41.3h1M478.6 44.2h1M465.0 33.3h1M492.0 48.6h1M488.1 55.1h1M481.4 43.2h1M503.5 52.2h1M482.1 53.0h1M496.2 62.5h1M478.0 47.5h1M447.4 49.2h1M466.7 50.3h1M449.1 44.8h1M476.9 45.6h1M492.5 52.5h1M460.6 50.8h1M487.5 40.2h1M476.4 45.3h1M489.5 52.0h1M483.7 50.9h1M468.5 49.2h1M485.9 60.5h1M479.1 55.6h1M489.5 40.8h1M501.0 62.1h1M477.4 43.1h1M497.7 44.8h1M478.5 55.7h1M486.3 46.9h1" stroke="#000" stroke-width="1" stroke-opacity="0.65" fill="none" transform="translate(0,0.5)"/>
<path d="M388.3 124.9h1M366.2 151.8h1M384.6 120.5h1M383.1 130.3h1M378.1 138.9h1M372.8 141.0h1M370.6 147.6h1M423.9 72.0h1M390.7 108.5h1M418.5 85.7h1M419.3 78.9h1M423.2 69.9h1M402.7 96.4h1M420.4 69.3h1M377.5 148.0h1M375.5 138.6h1M409.8 92.3h1M388.3 118.9h1M375.6 138.4h1M390.1 120.8h1M389.3 116.5h1M426.0 66.4h1M393.0 113.6h1M427.1 66.6h1M378.5 138.3h1M424.5 68.2h1M423.7 74.7h1M374.5 139.5h1M416.7 78.7h1M419.5 76.3h1M418.6 76.5h1M428.0 66.3h1M390.5 108.3h1M394.8 105.7h1M377.1 130.0h1M400.4 108.5h1M429.9 63.7h1M406.4 92.6h1M420.8 75.5h1M421.8 66.7h1M405.7 94.9h1M404.3 103.0h1M378.7 137.3h1M407.5 100.6h1M406.0 93.8h1M367.8 154.7h1M363.0 158.2h1M432.8 57.9h1M366.7 153.4h1M421.6 75.6h1M409.3 95.3h1M422.3 72.2h1M402.1 102.6h1M402.0 101.0h1M378.8 135.9h1M403.7 96.2h1M427.9 67.2h1M380.0 135.6h1M429.2 63.1h1M380.5 132.5h1M407.4 91.3h1M426.5 62.7h1M419.6 72.1h1M383.5 125.5h1M404.2 101.3h1M419.9 76.9h1M430.4 55.5h1M413.8 81.0h1M430.6 64.5h1M402.2 106.8h1M408.1 95.5h1M384.0 134.6h1M389.6 117.0h1M388.5 122.5h1M430.5 58.0h1M435.0 61.3h1M430.3 62.0h1M392.9 116.0h1M431.6 59.8h1M407.5 91.2h1M376.9 137.5h1M393.2 106.5h1M369.5 147.0h1M399.0 102.4h1M431.8 61.0h1M394.5 117.0h1M390.1 119.7h1M366.3 149.7h1M395.7 106.9h1M412.4 89.0h1M428.3 62.5h1M386.7 122.8h1M378.8 131.5h1M430.0 61.9h1M370.3 148.2h1M390.0 121.7h1M396.0 107.0h1M430.3 60.5h1M403.4 94.7h1M425.5 68.3h1M427.1 65.3h1M415.9 80.2h1M420.7 77.6h1M375.2 136.1h1M423.4 75.9h1M420.5 76.2h1M386.5 126.0h1M377.8 137.6h1M380.6 130.2h1M422.3 70.3h1M414.2 87.2h1M396.9 109.0h1M369.4 149.9h1M426.0 65.7h1M364.8 158.3h1M378.6 137.7h1M425.1 63.8h1M402.9 106.9h1M388.9 124.1h1M400.4 106.8h1M408.1 93.8h1M411.6 87.5h1M403.0 103.0h1M370.1 156.5h1M373.9 142.0h1M379.7 130.2h1M395.9 110.3h1M404.0 99.0h1M420.8 77.6h1M375.6 135.6h1M369.9 146.6h1M421.6 72.1h1M406.7 98.0h1M391.4 120.6h1M368.2 151.3h1M378.1 139.9h1M420.0 75.9h1M400.0 104.8h1M360.4 154.0h1M396.7 106.2h1M392.1 112.1h1M417.7 80.3h1M369.5 148.9h1M389.2 116.3h1M428.2 63.7h1M414.3 83.3h1M409.8 91.6h1M390.5 116.3h1M379.4 131.8h1M371.1 150.3h1M383.9 126.8h1M390.2 122.0h1M392.5 112.2h1M422.3 71.3h1M392.8 113.6h1M407.2 90.6h1M375.6 142.1h1M386.7 119.0h1M429.6 62.4h1M371.7 138.1h1M371.5 147.9h1M368.0 150.9h1M364.6 159.4h1M376.3 145.5h1M367.7 148.8h1M374.7 141.1h1M389.8 114.8h1M412.0 85.4h1M421.1 74.1h1M403.6 99.3h1M371.1 148.8h1M422.1 74.0h1M411.5 91.0h1M420.8 71.9h1M416.8 80.4h1M375.4 136.5h1M431.4 58.3h1M414.2 74.5h1M385.7 124.7h1M417.8 78.8h1M392.0 114.3h1M369.3 147.3h1M405.0 91.4h1M432.5 55.0h1M409.1 89.1h1M428.5 63.8h1M377.4 138.5h1M397.8 105.9h1M383.9 127.1h1M430.5 61.3h1M371.9 142.0h1M366.0 156.9h1M403.9 105.4h1M392.9 115.9h1M377.1 135.9h1M429.0 63.1h1M385.2 129.7h1M381.5 135.4h1M408.8 87.0h1M432.5 58.3h1M391.3 114.4h1M416.1 79.4h1M367.0 153.0h1M423.7 71.8h1M400.6 102.5h1M407.6 90.5h1M395.6 109.9h1M362.1 155.6h1M392.9 120.3h1M371.7 140.0h1M376.4 140.5h1M422.2 72.5h1M387.4 122.5h1M419.9 72.0h1M416.4 78.8h1M411.8 86.1h1M395.9 108.4h1M367.0 151.2h1M421.1 74.0h1M363.8 155.1h1M390.6 119.4h1M427.0 67.5h1M415.6 79.9h1M405.3 99.1h1M407.7 93.4h1M428.4 61.2h1M418.5 79.1h1M403.0 103.6h1M388.6 119.7h1M367.7 144.9h1M423.2 73.3h1M420.8 77.4h1M407.0 90.4h1M426.2 65.9h1M365.4 155.9h1M366.2 145.3h1M406.6 97.2h1M435.0 55.9h1M430.5 62.8h1M410.7 93.7h1M368.6 146.2h1M403.3 102.6h1M410.1 97.1h1M414.8 75.3h1M432.2 56.3h1M419.1 78.9h1M398.1 104.5h1M413.4 78.6h1M388.3 122.2h1M396.0 110.5h1M399.5 102.5h1M389.3 120.5h1M434.0 57.9h1M384.6 129.8h1M409.3 92.1h1M377.1 133.1h1M433.3 54.9h1M383.8 120.0h1M404.1 94.7h1M429.4 62.2h1M412.2 88.3h1M404.0 98.2h1M368.0 150.4h1M389.6 112.7h1M392.2 111.1h1M410.3 85.3h1M396.2 107.7h1M380.9 129.7h1M403.8 105.9h1M391.1 120.4h1M419.3 72.7h1M394.8 109.4h1M394.1 110.7h1M412.4 84.2h1M400.0 102.4h1M390.3 111.3h1M370.1 151.2h1M396.4 111.5h1M425.3 69.7h1M432.0 58.1h1M424.2 70.6h1M369.5 147.0h1M422.5 64.8h1M398.1 107.2h1M412.1 86.6h1M405.0 92.3h1M394.4 104.7h1M379.3 137.8h1M386.6 120.1h1M387.3 121.8h1M416.3 78.1h1M375.8 144.7h1M364.9 149.9h1M424.9 71.6h1M405.8 87.2h1M404.1 101.2h1M372.2 142.6h1M367.9 142.9h1M410.2 89.4h1M373.2 142.5h1M492.2 50.9h1M495.1 67.8h1M470.5 79.0h1M472.4 61.9h1M496.3 79.6h1M480.7 60.0h1M497.2 50.1h1M507.5 78.1h1M496.4 61.1h1M489.3 58.3h1M469.7 81.8h1M500.8 61.0h1M495.6 53.2h1M475.8 58.5h1M501.6 65.1h1M500.5 79.8h1M501.5 75.2h1M482.5 60.1h1M496.9 78.6h1M491.2 67.3h1M477.3 55.3h1M474.8 53.9h1M477.6 50.8h1M466.2 53.9h1M469.1 53.4h1M495.6 53.1h1M504.8 53.3h1M503.8 59.0h1M501.6 50.3h1M479.5 55.0h1M475.8 66.8h1M483.2 62.7h1M494.3 67.0h1M503.8 68.3h1M485.5 70.7h1M503.6 53.4h1M502.3 71.1h1M482.8 74.4h1M471.3 70.4h1M492.8 63.6h1M482.8 51.9h1M504.0 54.8h1M487.0 62.2h1M489.3 57.9h1M491.7 59.6h1M479.3 55.6h1M475.1 62.0h1M489.3 74.1h1M470.2 51.4h1M491.2 80.9h1M489.2 53.0h1M505.0 75.6h1M467.6 54.6h1M476.5 55.5h1M476.2 77.4h1M504.8 80.0h1M486.6 64.8h1M506.3 71.6h1M488.2 55.5h1M474.9 51.5h1M485.8 115.2h1M482.8 83.6h1M478.4 119.9h1M481.6 102.9h1M474.4 85.7h1M485.8 111.2h1M483.4 94.6h1M489.5 122.0h1M497.2 124.2h1M487.1 82.8h1M485.1 117.9h1M482.4 82.5h1M487.1 120.4h1M490.9 97.3h1M479.0 83.1h1M472.0 93.4h1M471.3 90.4h1M488.2 108.1h1M484.4 108.8h1M484.9 92.0h1M469.0 109.1h1M477.0 82.0h1M469.9 87.0h1M472.9 83.6h1M477.0 84.9h1M476.1 89.1h1M492.4 85.4h1M472.0 98.7h1M511.0 31.3h1M509.3 31.0h1M501.1 30.8h1M503.4 30.7h1M469.3 30.8h1M466.3 30.9h1M495.7 31.1h1M483.5 30.7h1M471.8 31.2h1M466.3 30.7h1M477.6 30.8h1M484.9 31.0h1M463.2 30.6h1M482.7 30.9h1M470.1 31.4h1M506.5 31.4h1M499.1 31.2h1M472.8 30.8h1M468.5 31.0h1M501.9 31.3h1M500.7 30.6h1M511.6 30.9h1M469.1 31.0h1M490.1 31.1h1M445.2 67.7h1M447.4 60.5h1M461.9 52.5h1M441.7 58.9h1M458.1 68.3h1M452.8 63.5h1M461.8 53.1h1M452.8 69.0h1M448.8 63.1h1M461.2 65.2h1M453.2 52.2h1M453.1 62.1h1M458.2 65.8h1M447.6 53.2h1M453.2 55.5h1M457.3 67.4h1M444.8 60.6h1M445.4 65.6h1M456.6 65.4h1M458.8 60.5h1M455.5 58.5h1M454.1 64.8h1M443.0 57.5h1M458.6 63.5h1M461.6 51.8h1M343.4 223.0h1M374.3 219.2h1" stroke="#000" stroke-width="1" stroke-opacity="0.5" fill="none" transform="translate(0,0.5)"/>
<path d="M314.0 29.5V228.8H513.5" fill="none" stroke="#111" stroke-width="1.2"/>
<path d="M314.00 228.80h-4.6M314.00 216.65h-1.4M314.00 204.50h-1.4M314.00 192.35h-1.4M314.00 180.20h-4.6M314.00 168.05h-1.4M314.00 155.90h-1.4M314.00 143.75h-1.4M314.00 131.60h-4.6M314.00 119.45h-1.4M314.00 107.30h-1.4M314.00 95.15h-1.4M314.00 83.00h-4.6M314.00 70.85h-1.4M314.00 58.70h-1.4M314.00 46.55h-1.4M314.00 34.40h-4.6M314.30 228.80v4.6M326.36 228.80v1.4M338.43 228.80v1.4M350.49 228.80v1.4M362.55 228.80v4.6M374.61 228.80v1.4M386.68 228.80v1.4M398.74 228.80v1.4M410.80 228.80v4.6M422.86 228.80v1.4M434.93 228.80v1.4M446.99 228.80v1.4M459.05 228.80v4.6M471.11 228.80v1.4M483.18 228.80v1.4M495.24 228.80v1.4M507.30 228.80v4.6" stroke="#111" stroke-width="0.8" fill="none"/>
<text transform="translate(305.83,234.50) scale(0.9748,1)" text-anchor="end" font-family='"Liberation Sans", sans-serif' font-size="10.70" fill="#222" stroke="#222" stroke-width="0.2">0</text>
<text transform="translate(314.50,247.80) scale(0.9748,1)" text-anchor="middle" font-family='"Liberation Sans", sans-serif' font-size="10.70" fill="#222" stroke="#222" stroke-width="0.2">0</text>
<text transform="translate(305.83,185.90) scale(0.9748,1)" text-anchor="end" font-family='"Liberation Sans", sans-serif' font-size="10.70" fill="#222" stroke="#222" stroke-width="0.2">1000</text>
<text transform="translate(362.75,247.80) scale(0.9748,1)" text-anchor="middle" font-family='"Liberation Sans", sans-serif' font-size="10.70" fill="#222" stroke="#222" stroke-width="0.2">1000</text>
<text transform="translate(305.83,137.30) scale(0.9748,1)" text-anchor="end" font-family='"Liberation Sans", sans-serif' font-size="10.70" fill="#222" stroke="#222" stroke-width="0.2">2000</text>
<text transform="translate(411.00,247.80) scale(0.9748,1)" text-anchor="middle" font-family='"Liberation Sans", sans-serif' font-size="10.70" fill="#222" stroke="#222" stroke-width="0.2">2000</text>
<text transform="translate(305.83,88.70) scale(0.9748,1)" text-anchor="end" font-family='"Liberation Sans", sans-serif' font-size="10.70" fill="#222" stroke="#222" stroke-width="0.2">3000</text>
<text transform="translate(459.25,247.80) scale(0.9748,1)" text-anchor="middle" font-family='"Liberation Sans", sans-serif' font-size="10.70" fill="#222" stroke="#222" stroke-width="0.2">3000</text>
<text transform="translate(305.83,40.10) scale(0.9748,1)" text-anchor="end" font-family='"Liberation Sans", sans-serif' font-size="10.70" fill="#222" stroke="#222" stroke-width="0.2">4000</text>
<text transform="translate(507.50,247.80) scale(0.9748,1)" text-anchor="middle" font-family='"Liberation Sans", sans-serif' font-size="10.70" fill="#222" stroke="#222" stroke-width="0.2">4000</text>
<text transform="translate(272.97,202.39) rotate(-90) scale(1.0183,1)" font-family='"Liberation Serif", serif' font-size="22.70" fill="#111" stroke="#000" stroke-width="0.35">Hoechst Blue</text>
<text transform="translate(359.80,272.95) scale(0.9287,1)" font-family='"Liberation Serif", serif' font-size="25.11" fill="#111" stroke="#000" stroke-width="0.35">Hoechst Red</text>
<text transform="translate(307.61,42.25) scale(1.0542,1)" font-family='"Liberation Serif", serif' font-size="19.78" fill="#111" stroke="#000" stroke-width="0.35">gated</text>
<rect x="464.9" y="33.6" width="46.3" height="46.7" fill="none" stroke="#111" stroke-width="2.3"/>
<path d="M427.2 48.1L440.9 61.6L368.0 166.9L349.0 171.8L353.9 153.7Z" fill="none" stroke="#111" stroke-width="2.25" stroke-linejoin="miter"/>
<text transform="translate(369.53,186.29) scale(1.0227,1)" font-family='"Liberation Serif", serif' font-size="21.26" fill="#111" stroke="#000" stroke-width="0.35">SP</text>
<text transform="translate(476.83,115.19) scale(0.9946,1)" font-family='"Liberation Serif", serif' font-size="21.12" fill="#111" stroke="#000" stroke-width="0.35">nSP</text>
<path d="M103.0 337.6H487.5V611.1" fill="none" stroke="#222" stroke-width="1"/>
<path d="M103.0 337.1V615.4M103.0 611.1H487.5" fill="none" stroke="#000" stroke-width="1.9"/>
<path d="M257.3 340V611.1" stroke="#000" stroke-width="2"/>
<text transform="translate(95.81,617.20) scale(1.1085,1)" text-anchor="end" font-family='"Liberation Sans", sans-serif' font-size="13.85" fill="#111">0</text>
<text transform="translate(95.81,571.62) scale(1.1085,1)" text-anchor="end" font-family='"Liberation Sans", sans-serif' font-size="13.85" fill="#111">10</text>
<text transform="translate(95.81,526.03) scale(1.1085,1)" text-anchor="end" font-family='"Liberation Sans", sans-serif' font-size="13.85" fill="#111">20</text>
<text transform="translate(95.81,480.45) scale(1.1085,1)" text-anchor="end" font-family='"Liberation Sans", sans-serif' font-size="13.85" fill="#111">30</text>
<text transform="translate(95.81,434.87) scale(1.1085,1)" text-anchor="end" font-family='"Liberation Sans", sans-serif' font-size="13.85" fill="#111">40</text>
<text transform="translate(95.81,389.28) scale(1.1085,1)" text-anchor="end" font-family='"Liberation Sans", sans-serif' font-size="13.85" fill="#111">50</text>
<text transform="translate(95.81,343.70) scale(1.1085,1)" text-anchor="end" font-family='"Liberation Sans", sans-serif' font-size="13.85" fill="#111">60</text>
<path d="M103.0 611.10h-4.8M103.0 565.52h-4.8M103.0 519.93h-4.8M103.0 474.35h-4.8M103.0 428.77h-4.8M103.0 383.18h-4.8M103.0 337.60h-4.8M180.4 611.1v4.3M257.3 611.1v4.3M334.0 611.1v4.3M410.6 611.1v4.3M487.4 611.1v4.3" stroke="#000" stroke-width="1.5" fill="none"/>
<text transform="translate(71.24,601.97) rotate(-90) scale(0.8586,1)" font-family='"Liberation Serif", serif' font-size="29.08" fill="#111" stroke="#000" stroke-width="0.35">%</text>
<text transform="translate(71.00,573.96) rotate(-90) scale(0.9853,1)" font-family='"Liberation Serif", serif' font-size="26.90" fill="#111" stroke="#000" stroke-width="0.35">CD45.2 cells in PB</text>
<text transform="translate(112.81,655.55) scale(0.9812,1)" font-family='"Liberation Serif", serif' font-size="19.63" fill="#111" stroke="#000" stroke-width="0.35">10 SP</text>
<text transform="translate(186.62,655.55) scale(0.9909,1)" font-family='"Liberation Serif", serif' font-size="19.63" fill="#111" stroke="#000" stroke-width="0.35">20 SP</text>
<text transform="translate(266.55,655.55) scale(0.9881,1)" font-family='"Liberation Serif", serif' font-size="19.63" fill="#111" stroke="#000" stroke-width="0.35">10 nSP</text>
<text transform="translate(344.85,655.55) scale(1.0143,1)" font-family='"Liberation Serif", serif' font-size="19.63" fill="#111" stroke="#000" stroke-width="0.35">20 nSP</text>
<text transform="translate(424.18,655.55) scale(0.9859,1)" font-family='"Liberation Serif", serif' font-size="19.63" fill="#111" stroke="#000" stroke-width="0.35">60 nSP</text>
<circle cx="128.3" cy="447.9" r="4.1" fill="#000"/>
<circle cx="128.3" cy="451.6" r="4.1" fill="#000"/>
<circle cx="128.3" cy="473.9" r="4.1" fill="#000"/>
<circle cx="128.3" cy="487.6" r="4.1" fill="#000"/>
<circle cx="205.5" cy="359.9" r="4.1" fill="#000"/>
<circle cx="205.5" cy="387.3" r="4.1" fill="#000"/>
<circle cx="205.5" cy="460.7" r="4.1" fill="#000"/>
<circle cx="205.5" cy="487.6" r="4.1" fill="#000"/>
<circle cx="277.5" cy="610.6" r="4.1" fill="#000"/>
<circle cx="280.5" cy="610.6" r="4.1" fill="#000"/>
<circle cx="283.5" cy="610.6" r="4.1" fill="#000"/>
<circle cx="286.5" cy="610.6" r="4.1" fill="#000"/>
<circle cx="354.5" cy="610.2" r="4.1" fill="#000"/>
<circle cx="357.5" cy="609.7" r="4.1" fill="#000"/>
<circle cx="359.8" cy="607.9" r="4.1" fill="#000"/>
<circle cx="363" cy="610.2" r="4.1" fill="#000"/>
<circle cx="435.3" cy="535.9" r="4.1" fill="#000"/>
<circle cx="435.3" cy="560.5" r="4.1" fill="#000"/>
<circle cx="435.3" cy="585.1" r="4.1" fill="#000"/>
<circle cx="435.3" cy="592.4" r="4.1" fill="#000"/>
<circle cx="435.3" cy="603.4" r="4.1" fill="#000"/>
<circle cx="153.8" cy="432.9" r="3.8" fill="#fff" stroke="#8a8a8a" stroke-width="0.9"/>
<circle cx="153.8" cy="442.4" r="3.8" fill="#fff" stroke="#8a8a8a" stroke-width="0.9"/>
<circle cx="153.8" cy="469.8" r="3.8" fill="#fff" stroke="#8a8a8a" stroke-width="0.9"/>
<circle cx="153.8" cy="510.4" r="3.8" fill="#fff" stroke="#8a8a8a" stroke-width="0.9"/>
<circle cx="231" cy="364.5" r="3.8" fill="#fff" stroke="#8a8a8a" stroke-width="0.9"/>
<circle cx="231" cy="369.1" r="3.8" fill="#fff" stroke="#8a8a8a" stroke-width="0.9"/>
<circle cx="231" cy="455.7" r="3.8" fill="#fff" stroke="#8a8a8a" stroke-width="0.9"/>
<circle cx="231" cy="487.6" r="3.8" fill="#fff" stroke="#8a8a8a" stroke-width="0.9"/>
<circle cx="302" cy="610.6" r="3.8" fill="#fff" stroke="#8a8a8a" stroke-width="0.9"/>
<circle cx="305.5" cy="610.6" r="3.8" fill="#fff" stroke="#8a8a8a" stroke-width="0.9"/>
<circle cx="309" cy="610.6" r="3.8" fill="#fff" stroke="#8a8a8a" stroke-width="0.9"/>
<circle cx="312.5" cy="610.6" r="3.8" fill="#fff" stroke="#8a8a8a" stroke-width="0.9"/>
<circle cx="379.5" cy="610.6" r="3.8" fill="#fff" stroke="#8a8a8a" stroke-width="0.9"/>
<circle cx="383" cy="610.6" r="3.8" fill="#fff" stroke="#8a8a8a" stroke-width="0.9"/>
<circle cx="386" cy="610.6" r="3.8" fill="#fff" stroke="#8a8a8a" stroke-width="0.9"/>
<circle cx="389" cy="610.6" r="3.8" fill="#fff" stroke="#8a8a8a" stroke-width="0.9"/>
<circle cx="461" cy="551.8" r="3.8" fill="#fff" stroke="#8a8a8a" stroke-width="0.9"/>
<circle cx="461" cy="610.6" r="3.8" fill="#fff" stroke="#8a8a8a" stroke-width="0.9"/>
<circle cx="461" cy="607.5" r="3.8" fill="#fff" stroke="#8a8a8a" stroke-width="0.9"/>
<circle cx="461" cy="604.3" r="3.8" fill="#fff" stroke="#8a8a8a" stroke-width="0.9"/>
<circle cx="461" cy="601.1" r="3.8" fill="#fff" stroke="#8a8a8a" stroke-width="0.9"/>
<circle cx="359.4" cy="368.4" r="4.3" fill="#000"/>
<circle cx="359.25" cy="394.75" r="3.4" fill="#fff" stroke="#111" stroke-width="1.2"/>
<text transform="translate(368.81,374.13) scale(0.9839,1)" font-family='"Liberation Serif", serif' font-size="19.61" fill="#111" stroke="#000" stroke-width="0.35">1 month post</text>
<text transform="translate(371.67,400.48) scale(1.0043,1)" font-family='"Liberation Serif", serif' font-size="19.39" fill="#111" stroke="#000" stroke-width="0.35">6 month post</text>
</svg></body></html>
